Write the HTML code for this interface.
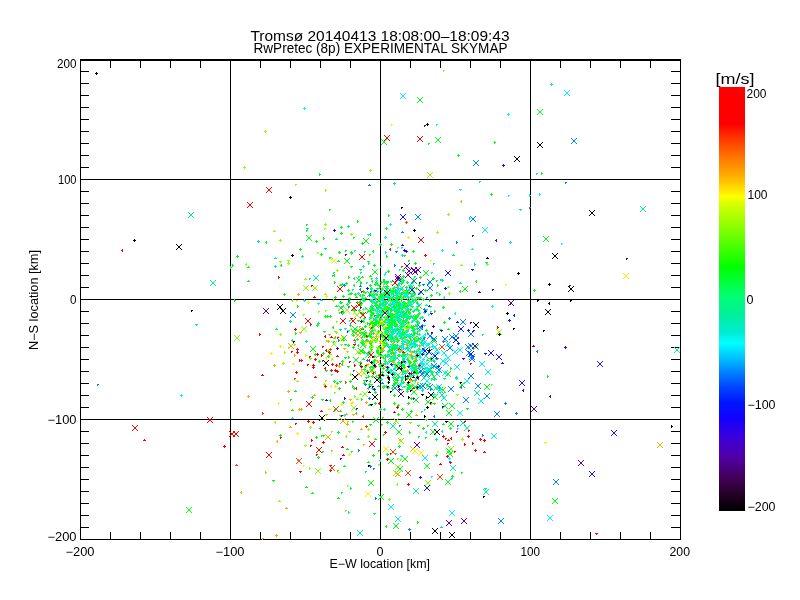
<!DOCTYPE html>
<html><head><meta charset="utf-8"><title>RwPretec skymap</title>
<style>html,body{margin:0;padding:0;background:#fff;overflow:hidden}svg{display:block}</style>
</head><body>
<svg width="800" height="600" viewBox="0 0 800 600">
<rect width="800" height="600" fill="#fff"/>
<g shape-rendering="crispEdges"><rect x="719" y="87" width="26" height="37" fill="#ff0000"/><rect x="719" y="124" width="26" height="1" fill="#ff0200"/><rect x="719" y="125" width="26" height="1" fill="#ff0600"/><rect x="719" y="126" width="26" height="1" fill="#ff0900"/><rect x="719" y="127" width="26" height="1" fill="#ff0d00"/><rect x="719" y="128" width="26" height="1" fill="#ff1100"/><rect x="719" y="129" width="26" height="1" fill="#ff1500"/><rect x="719" y="130" width="26" height="1" fill="#ff1800"/><rect x="719" y="131" width="26" height="1" fill="#ff1c00"/><rect x="719" y="132" width="26" height="1" fill="#ff2000"/><rect x="719" y="133" width="26" height="1" fill="#ff2400"/><rect x="719" y="134" width="26" height="1" fill="#ff2700"/><rect x="719" y="135" width="26" height="1" fill="#ff2b00"/><rect x="719" y="136" width="26" height="1" fill="#ff2f00"/><rect x="719" y="137" width="26" height="1" fill="#ff3300"/><rect x="719" y="138" width="26" height="1" fill="#ff3600"/><rect x="719" y="139" width="26" height="1" fill="#ff3a00"/><rect x="719" y="140" width="26" height="1" fill="#ff3e00"/><rect x="719" y="141" width="26" height="1" fill="#ff4100"/><rect x="719" y="142" width="26" height="1" fill="#ff4400"/><rect x="719" y="143" width="26" height="1" fill="#ff4800"/><rect x="719" y="144" width="26" height="1" fill="#ff4b00"/><rect x="719" y="145" width="26" height="1" fill="#ff4e00"/><rect x="719" y="146" width="26" height="1" fill="#ff5200"/><rect x="719" y="147" width="26" height="1" fill="#ff5500"/><rect x="719" y="148" width="26" height="1" fill="#ff5800"/><rect x="719" y="149" width="26" height="1" fill="#ff5c00"/><rect x="719" y="150" width="26" height="1" fill="#ff5f00"/><rect x="719" y="151" width="26" height="1" fill="#ff6200"/><rect x="719" y="152" width="26" height="1" fill="#ff6600"/><rect x="719" y="153" width="26" height="1" fill="#ff6900"/><rect x="719" y="154" width="26" height="1" fill="#ff6c00"/><rect x="719" y="155" width="26" height="1" fill="#ff7000"/><rect x="719" y="156" width="26" height="1" fill="#ff7300"/><rect x="719" y="157" width="26" height="1" fill="#ff7600"/><rect x="719" y="158" width="26" height="1" fill="#ff7900"/><rect x="719" y="159" width="26" height="1" fill="#ff7c00"/><rect x="719" y="160" width="26" height="1" fill="#ff7f00"/><rect x="719" y="161" width="26" height="1" fill="#ff8200"/><rect x="719" y="162" width="26" height="1" fill="#ff8500"/><rect x="719" y="163" width="26" height="1" fill="#ff8800"/><rect x="719" y="164" width="26" height="1" fill="#ff8b00"/><rect x="719" y="165" width="26" height="1" fill="#ff8e00"/><rect x="719" y="166" width="26" height="1" fill="#ff9100"/><rect x="719" y="167" width="26" height="1" fill="#ff9400"/><rect x="719" y="168" width="26" height="1" fill="#ff9700"/><rect x="719" y="169" width="26" height="1" fill="#ff9a00"/><rect x="719" y="170" width="26" height="1" fill="#ff9d00"/><rect x="719" y="171" width="26" height="1" fill="#ffa000"/><rect x="719" y="172" width="26" height="1" fill="#ffa300"/><rect x="719" y="173" width="26" height="1" fill="#ffa600"/><rect x="719" y="174" width="26" height="1" fill="#ffa900"/><rect x="719" y="175" width="26" height="1" fill="#ffac00"/><rect x="719" y="176" width="26" height="1" fill="#ffb000"/><rect x="719" y="177" width="26" height="1" fill="#ffb400"/><rect x="719" y="178" width="26" height="1" fill="#ffb800"/><rect x="719" y="179" width="26" height="1" fill="#ffbc00"/><rect x="719" y="180" width="26" height="1" fill="#ffbf00"/><rect x="719" y="181" width="26" height="1" fill="#ffc300"/><rect x="719" y="182" width="26" height="1" fill="#ffc700"/><rect x="719" y="183" width="26" height="1" fill="#ffcb00"/><rect x="719" y="184" width="26" height="1" fill="#ffcf00"/><rect x="719" y="185" width="26" height="1" fill="#ffd300"/><rect x="719" y="186" width="26" height="1" fill="#ffd700"/><rect x="719" y="187" width="26" height="1" fill="#ffdb00"/><rect x="719" y="188" width="26" height="1" fill="#ffde00"/><rect x="719" y="189" width="26" height="1" fill="#ffe200"/><rect x="719" y="190" width="26" height="1" fill="#ffe600"/><rect x="719" y="191" width="26" height="1" fill="#ffea00"/><rect x="719" y="192" width="26" height="1" fill="#ffee00"/><rect x="719" y="193" width="26" height="1" fill="#fff200"/><rect x="719" y="194" width="26" height="1" fill="#fff800"/><rect x="719" y="195" width="26" height="1" fill="#fffc00"/><rect x="719" y="196" width="26" height="1" fill="#fdff00"/><rect x="719" y="197" width="26" height="1" fill="#f8ff00"/><rect x="719" y="198" width="26" height="1" fill="#f4ff00"/><rect x="719" y="199" width="26" height="1" fill="#efff00"/><rect x="719" y="200" width="26" height="1" fill="#eaff00"/><rect x="719" y="201" width="26" height="1" fill="#e6ff00"/><rect x="719" y="202" width="26" height="1" fill="#e1ff00"/><rect x="719" y="203" width="26" height="1" fill="#ddff00"/><rect x="719" y="204" width="26" height="1" fill="#d8ff00"/><rect x="719" y="205" width="26" height="1" fill="#d3ff00"/><rect x="719" y="206" width="26" height="1" fill="#cfff00"/><rect x="719" y="207" width="26" height="1" fill="#caff00"/><rect x="719" y="208" width="26" height="1" fill="#c6ff00"/><rect x="719" y="209" width="26" height="1" fill="#c3ff00"/><rect x="719" y="210" width="26" height="1" fill="#c0ff00"/><rect x="719" y="211" width="26" height="1" fill="#bdff00"/><rect x="719" y="212" width="26" height="1" fill="#baff00"/><rect x="719" y="213" width="26" height="1" fill="#b7ff00"/><rect x="719" y="214" width="26" height="1" fill="#b3ff00"/><rect x="719" y="215" width="26" height="1" fill="#b0ff00"/><rect x="719" y="216" width="26" height="1" fill="#adff00"/><rect x="719" y="217" width="26" height="1" fill="#aaff00"/><rect x="719" y="218" width="26" height="1" fill="#a7ff00"/><rect x="719" y="219" width="26" height="1" fill="#a4ff00"/><rect x="719" y="220" width="26" height="1" fill="#a1ff00"/><rect x="719" y="221" width="26" height="1" fill="#9dff00"/><rect x="719" y="222" width="26" height="1" fill="#9aff00"/><rect x="719" y="223" width="26" height="1" fill="#97ff00"/><rect x="719" y="224" width="26" height="1" fill="#94ff00"/><rect x="719" y="225" width="26" height="1" fill="#91ff00"/><rect x="719" y="226" width="26" height="1" fill="#8eff00"/><rect x="719" y="227" width="26" height="1" fill="#8aff00"/><rect x="719" y="228" width="26" height="1" fill="#87ff00"/><rect x="719" y="229" width="26" height="1" fill="#84ff00"/><rect x="719" y="230" width="26" height="1" fill="#80ff00"/><rect x="719" y="231" width="26" height="1" fill="#7dff00"/><rect x="719" y="232" width="26" height="1" fill="#7aff00"/><rect x="719" y="233" width="26" height="1" fill="#76ff00"/><rect x="719" y="234" width="26" height="1" fill="#73ff00"/><rect x="719" y="235" width="26" height="1" fill="#70ff00"/><rect x="719" y="236" width="26" height="1" fill="#6cff00"/><rect x="719" y="237" width="26" height="1" fill="#69ff00"/><rect x="719" y="238" width="26" height="1" fill="#66ff00"/><rect x="719" y="239" width="26" height="1" fill="#62ff00"/><rect x="719" y="240" width="26" height="1" fill="#5fff00"/><rect x="719" y="241" width="26" height="1" fill="#5cff00"/><rect x="719" y="242" width="26" height="1" fill="#58ff00"/><rect x="719" y="243" width="26" height="1" fill="#55ff00"/><rect x="719" y="244" width="26" height="1" fill="#52ff00"/><rect x="719" y="245" width="26" height="1" fill="#4eff00"/><rect x="719" y="246" width="26" height="1" fill="#4bff00"/><rect x="719" y="247" width="26" height="1" fill="#47ff00"/><rect x="719" y="248" width="26" height="1" fill="#43ff00"/><rect x="719" y="249" width="26" height="1" fill="#40ff00"/><rect x="719" y="250" width="26" height="1" fill="#3cff00"/><rect x="719" y="251" width="26" height="1" fill="#38ff00"/><rect x="719" y="252" width="26" height="1" fill="#35ff00"/><rect x="719" y="253" width="26" height="1" fill="#31ff00"/><rect x="719" y="254" width="26" height="1" fill="#2dff00"/><rect x="719" y="255" width="26" height="1" fill="#2aff00"/><rect x="719" y="256" width="26" height="1" fill="#26ff00"/><rect x="719" y="257" width="26" height="1" fill="#23ff00"/><rect x="719" y="258" width="26" height="1" fill="#1fff00"/><rect x="719" y="259" width="26" height="1" fill="#1bff00"/><rect x="719" y="260" width="26" height="1" fill="#18ff00"/><rect x="719" y="261" width="26" height="1" fill="#14ff00"/><rect x="719" y="262" width="26" height="1" fill="#10ff00"/><rect x="719" y="263" width="26" height="1" fill="#0dff00"/><rect x="719" y="264" width="26" height="1" fill="#09ff00"/><rect x="719" y="265" width="26" height="1" fill="#05ff00"/><rect x="719" y="266" width="26" height="1" fill="#02ff00"/><rect x="719" y="267" width="26" height="1" fill="#00ff02"/><rect x="719" y="268" width="26" height="1" fill="#00ff06"/><rect x="719" y="269" width="26" height="1" fill="#00ff0a"/><rect x="719" y="270" width="26" height="1" fill="#00ff0e"/><rect x="719" y="271" width="26" height="1" fill="#00ff12"/><rect x="719" y="272" width="26" height="1" fill="#00ff16"/><rect x="719" y="273" width="26" height="1" fill="#00ff1a"/><rect x="719" y="274" width="26" height="1" fill="#00ff1e"/><rect x="719" y="275" width="26" height="1" fill="#00ff22"/><rect x="719" y="276" width="26" height="1" fill="#00ff26"/><rect x="719" y="277" width="26" height="1" fill="#00ff2a"/><rect x="719" y="278" width="26" height="1" fill="#00ff2e"/><rect x="719" y="279" width="26" height="1" fill="#00ff32"/><rect x="719" y="280" width="26" height="1" fill="#00ff36"/><rect x="719" y="281" width="26" height="1" fill="#00ff3a"/><rect x="719" y="282" width="26" height="1" fill="#00ff3e"/><rect x="719" y="283" width="26" height="1" fill="#00ff42"/><rect x="719" y="284" width="26" height="1" fill="#00ff45"/><rect x="719" y="285" width="26" height="1" fill="#00ff49"/><rect x="719" y="286" width="26" height="1" fill="#00ff4d"/><rect x="719" y="287" width="26" height="1" fill="#00ff51"/><rect x="719" y="288" width="26" height="1" fill="#00ff54"/><rect x="719" y="289" width="26" height="1" fill="#00ff58"/><rect x="719" y="290" width="26" height="1" fill="#00ff5c"/><rect x="719" y="291" width="26" height="1" fill="#00ff60"/><rect x="719" y="292" width="26" height="1" fill="#00ff63"/><rect x="719" y="293" width="26" height="1" fill="#00ff67"/><rect x="719" y="294" width="26" height="1" fill="#00ff6b"/><rect x="719" y="295" width="26" height="1" fill="#00ff6f"/><rect x="719" y="296" width="26" height="1" fill="#00ff72"/><rect x="719" y="297" width="26" height="1" fill="#00ff76"/><rect x="719" y="298" width="26" height="1" fill="#00fe79"/><rect x="719" y="299" width="26" height="1" fill="#00fe7b"/><rect x="719" y="300" width="26" height="1" fill="#00fc7d"/><rect x="719" y="301" width="26" height="1" fill="#00fc7f"/><rect x="719" y="302" width="26" height="1" fill="#00fa81"/><rect x="719" y="303" width="26" height="1" fill="#00fa83"/><rect x="719" y="304" width="26" height="1" fill="#00f885"/><rect x="719" y="305" width="26" height="1" fill="#00f887"/><rect x="719" y="306" width="26" height="1" fill="#00f689"/><rect x="719" y="307" width="26" height="1" fill="#00f68b"/><rect x="719" y="308" width="26" height="1" fill="#00f48d"/><rect x="719" y="309" width="26" height="1" fill="#00f48f"/><rect x="719" y="310" width="26" height="1" fill="#00f291"/><rect x="719" y="311" width="26" height="1" fill="#00f293"/><rect x="719" y="312" width="26" height="1" fill="#00f095"/><rect x="719" y="313" width="26" height="1" fill="#00f098"/><rect x="719" y="314" width="26" height="1" fill="#00f09b"/><rect x="719" y="315" width="26" height="1" fill="#00ef9e"/><rect x="719" y="316" width="26" height="1" fill="#00efa1"/><rect x="719" y="317" width="26" height="1" fill="#00efa4"/><rect x="719" y="318" width="26" height="1" fill="#00efa7"/><rect x="719" y="319" width="26" height="1" fill="#00eeab"/><rect x="719" y="320" width="26" height="1" fill="#00eeae"/><rect x="719" y="321" width="26" height="1" fill="#00eeb1"/><rect x="719" y="322" width="26" height="1" fill="#00eeb4"/><rect x="719" y="323" width="26" height="1" fill="#00edb7"/><rect x="719" y="324" width="26" height="1" fill="#00edba"/><rect x="719" y="325" width="26" height="1" fill="#00edbd"/><rect x="719" y="326" width="26" height="1" fill="#00ecc1"/><rect x="719" y="327" width="26" height="1" fill="#00ecc4"/><rect x="719" y="328" width="26" height="1" fill="#00ecc7"/><rect x="719" y="329" width="26" height="1" fill="#00ecca"/><rect x="719" y="330" width="26" height="1" fill="#00ebcd"/><rect x="719" y="331" width="26" height="1" fill="#00ebd0"/><rect x="719" y="332" width="26" height="1" fill="#00ecd4"/><rect x="719" y="333" width="26" height="1" fill="#00eed8"/><rect x="719" y="334" width="26" height="1" fill="#00f0dc"/><rect x="719" y="335" width="26" height="1" fill="#00f1e0"/><rect x="719" y="336" width="26" height="1" fill="#00f3e4"/><rect x="719" y="337" width="26" height="1" fill="#00f5e8"/><rect x="719" y="338" width="26" height="1" fill="#00f7ed"/><rect x="719" y="339" width="26" height="1" fill="#00f9f1"/><rect x="719" y="340" width="26" height="1" fill="#00faf5"/><rect x="719" y="341" width="26" height="1" fill="#00fcf9"/><rect x="719" y="342" width="26" height="1" fill="#00fefd"/><rect x="719" y="343" width="26" height="1" fill="#00fdff"/><rect x="719" y="344" width="26" height="1" fill="#00f9ff"/><rect x="719" y="345" width="26" height="1" fill="#00f5ff"/><rect x="719" y="346" width="26" height="1" fill="#00f1ff"/><rect x="719" y="347" width="26" height="1" fill="#00edff"/><rect x="719" y="348" width="26" height="1" fill="#00e9ff"/><rect x="719" y="349" width="26" height="1" fill="#00e5ff"/><rect x="719" y="350" width="26" height="1" fill="#00e1ff"/><rect x="719" y="351" width="26" height="1" fill="#00dcff"/><rect x="719" y="352" width="26" height="1" fill="#00d8ff"/><rect x="719" y="353" width="26" height="1" fill="#00d4ff"/><rect x="719" y="354" width="26" height="1" fill="#00d0ff"/><rect x="719" y="355" width="26" height="1" fill="#00ccff"/><rect x="719" y="356" width="26" height="1" fill="#00c8ff"/><rect x="719" y="357" width="26" height="1" fill="#00c4ff"/><rect x="719" y="358" width="26" height="1" fill="#00c0ff"/><rect x="719" y="359" width="26" height="1" fill="#00bcff"/><rect x="719" y="360" width="26" height="1" fill="#00b7ff"/><rect x="719" y="361" width="26" height="1" fill="#00b2ff"/><rect x="719" y="362" width="26" height="1" fill="#00aeff"/><rect x="719" y="363" width="26" height="1" fill="#00a9ff"/><rect x="719" y="364" width="26" height="1" fill="#00a5ff"/><rect x="719" y="365" width="26" height="1" fill="#00a0ff"/><rect x="719" y="366" width="26" height="1" fill="#009bff"/><rect x="719" y="367" width="26" height="1" fill="#0097ff"/><rect x="719" y="368" width="26" height="1" fill="#0092ff"/><rect x="719" y="369" width="26" height="1" fill="#008eff"/><rect x="719" y="370" width="26" height="1" fill="#0089ff"/><rect x="719" y="371" width="26" height="1" fill="#0084ff"/><rect x="719" y="372" width="26" height="1" fill="#0080ff"/><rect x="719" y="373" width="26" height="1" fill="#007cff"/><rect x="719" y="374" width="26" height="1" fill="#0078ff"/><rect x="719" y="375" width="26" height="1" fill="#0074ff"/><rect x="719" y="376" width="26" height="1" fill="#0070ff"/><rect x="719" y="377" width="26" height="1" fill="#006cff"/><rect x="719" y="378" width="26" height="1" fill="#0068ff"/><rect x="719" y="379" width="26" height="1" fill="#0064ff"/><rect x="719" y="380" width="26" height="1" fill="#0060ff"/><rect x="719" y="381" width="26" height="1" fill="#005cff"/><rect x="719" y="382" width="26" height="1" fill="#0058ff"/><rect x="719" y="383" width="26" height="1" fill="#0054ff"/><rect x="719" y="384" width="26" height="1" fill="#0050ff"/><rect x="719" y="385" width="26" height="1" fill="#004cff"/><rect x="719" y="386" width="26" height="1" fill="#0048ff"/><rect x="719" y="387" width="26" height="1" fill="#0044ff"/><rect x="719" y="388" width="26" height="1" fill="#0041ff"/><rect x="719" y="389" width="26" height="1" fill="#003eff"/><rect x="719" y="390" width="26" height="1" fill="#003bff"/><rect x="719" y="391" width="26" height="1" fill="#0038ff"/><rect x="719" y="392" width="26" height="1" fill="#0035ff"/><rect x="719" y="393" width="26" height="1" fill="#0032ff"/><rect x="719" y="394" width="26" height="1" fill="#002fff"/><rect x="719" y="395" width="26" height="1" fill="#002bff"/><rect x="719" y="396" width="26" height="1" fill="#0028ff"/><rect x="719" y="397" width="26" height="1" fill="#0025ff"/><rect x="719" y="398" width="26" height="1" fill="#0022ff"/><rect x="719" y="399" width="26" height="1" fill="#001fff"/><rect x="719" y="400" width="26" height="1" fill="#001cff"/><rect x="719" y="401" width="26" height="1" fill="#0019ff"/><rect x="719" y="402" width="26" height="1" fill="#0016ff"/><rect x="719" y="403" width="26" height="1" fill="#0113ff"/><rect x="719" y="404" width="26" height="1" fill="#0212ff"/><rect x="719" y="405" width="26" height="1" fill="#0311ff"/><rect x="719" y="406" width="26" height="1" fill="#0410ff"/><rect x="719" y="407" width="26" height="1" fill="#060eff"/><rect x="719" y="408" width="26" height="1" fill="#070dff"/><rect x="719" y="409" width="26" height="1" fill="#080cff"/><rect x="719" y="410" width="26" height="1" fill="#090bff"/><rect x="719" y="411" width="26" height="1" fill="#0b09ff"/><rect x="719" y="412" width="26" height="1" fill="#0c08ff"/><rect x="719" y="413" width="26" height="1" fill="#0d07ff"/><rect x="719" y="414" width="26" height="1" fill="#0e06ff"/><rect x="719" y="415" width="26" height="1" fill="#1004ff"/><rect x="719" y="416" width="26" height="1" fill="#1103ff"/><rect x="719" y="417" width="26" height="1" fill="#1202ff"/><rect x="719" y="418" width="26" height="1" fill="#1301ff"/><rect x="719" y="419" width="26" height="1" fill="#1500fe"/><rect x="719" y="420" width="26" height="1" fill="#1700fc"/><rect x="719" y="421" width="26" height="1" fill="#1a00fa"/><rect x="719" y="422" width="26" height="1" fill="#1c00f8"/><rect x="719" y="423" width="26" height="1" fill="#1e00f6"/><rect x="719" y="424" width="26" height="1" fill="#2000f4"/><rect x="719" y="425" width="26" height="1" fill="#2200f2"/><rect x="719" y="426" width="26" height="1" fill="#2500f0"/><rect x="719" y="427" width="26" height="1" fill="#2700ee"/><rect x="719" y="428" width="26" height="1" fill="#2900ed"/><rect x="719" y="429" width="26" height="1" fill="#2b00eb"/><rect x="719" y="430" width="26" height="1" fill="#2e00e9"/><rect x="719" y="431" width="26" height="1" fill="#3000e7"/><rect x="719" y="432" width="26" height="1" fill="#3200e5"/><rect x="719" y="433" width="26" height="1" fill="#3400e3"/><rect x="719" y="434" width="26" height="1" fill="#3600e1"/><rect x="719" y="435" width="26" height="1" fill="#3900df"/><rect x="719" y="436" width="26" height="1" fill="#3b00dd"/><rect x="719" y="437" width="26" height="1" fill="#3d00db"/><rect x="719" y="438" width="26" height="1" fill="#3e00d8"/><rect x="719" y="439" width="26" height="1" fill="#3f00d5"/><rect x="719" y="440" width="26" height="1" fill="#4000d3"/><rect x="719" y="441" width="26" height="1" fill="#4100d0"/><rect x="719" y="442" width="26" height="1" fill="#4200ce"/><rect x="719" y="443" width="26" height="1" fill="#4300cb"/><rect x="719" y="444" width="26" height="1" fill="#4400c8"/><rect x="719" y="445" width="26" height="1" fill="#4500c6"/><rect x="719" y="446" width="26" height="1" fill="#4600c3"/><rect x="719" y="447" width="26" height="1" fill="#4700c0"/><rect x="719" y="448" width="26" height="1" fill="#4800be"/><rect x="719" y="449" width="26" height="1" fill="#4900bb"/><rect x="719" y="450" width="26" height="1" fill="#4a00b8"/><rect x="719" y="451" width="26" height="1" fill="#4b00b6"/><rect x="719" y="452" width="26" height="1" fill="#4c00b3"/><rect x="719" y="453" width="26" height="1" fill="#4d00b1"/><rect x="719" y="454" width="26" height="1" fill="#4e00ae"/><rect x="719" y="455" width="26" height="1" fill="#4f00ab"/><rect x="719" y="456" width="26" height="1" fill="#5000a8"/><rect x="719" y="457" width="26" height="1" fill="#4f00a4"/><rect x="719" y="458" width="26" height="1" fill="#4f00a1"/><rect x="719" y="459" width="26" height="1" fill="#4e009d"/><rect x="719" y="460" width="26" height="1" fill="#4e0099"/><rect x="719" y="461" width="26" height="1" fill="#4d0096"/><rect x="719" y="462" width="26" height="1" fill="#4d0092"/><rect x="719" y="463" width="26" height="1" fill="#4c008e"/><rect x="719" y="464" width="26" height="1" fill="#4c008b"/><rect x="719" y="465" width="26" height="1" fill="#4b0087"/><rect x="719" y="466" width="26" height="1" fill="#4a0083"/><rect x="719" y="467" width="26" height="1" fill="#4a0080"/><rect x="719" y="468" width="26" height="1" fill="#49007c"/><rect x="719" y="469" width="26" height="1" fill="#490078"/><rect x="719" y="470" width="26" height="1" fill="#480075"/><rect x="719" y="471" width="26" height="1" fill="#480071"/><rect x="719" y="472" width="26" height="1" fill="#47006d"/><rect x="719" y="473" width="26" height="1" fill="#47006a"/><rect x="719" y="474" width="26" height="1" fill="#460066"/><rect x="719" y="475" width="26" height="1" fill="#450062"/><rect x="719" y="476" width="26" height="1" fill="#44005f"/><rect x="719" y="477" width="26" height="1" fill="#42005c"/><rect x="719" y="478" width="26" height="1" fill="#400058"/><rect x="719" y="479" width="26" height="1" fill="#3e0055"/><rect x="719" y="480" width="26" height="1" fill="#3d0052"/><rect x="719" y="481" width="26" height="1" fill="#3b004e"/><rect x="719" y="482" width="26" height="1" fill="#3a004b"/><rect x="719" y="483" width="26" height="1" fill="#380048"/><rect x="719" y="484" width="26" height="1" fill="#360044"/><rect x="719" y="485" width="26" height="1" fill="#340041"/><rect x="719" y="486" width="26" height="1" fill="#33003e"/><rect x="719" y="487" width="26" height="1" fill="#31003a"/><rect x="719" y="488" width="26" height="1" fill="#300037"/><rect x="719" y="489" width="26" height="1" fill="#2e0034"/><rect x="719" y="490" width="26" height="1" fill="#2c0030"/><rect x="719" y="491" width="26" height="1" fill="#2a002d"/><rect x="719" y="492" width="26" height="1" fill="#29002a"/><rect x="719" y="493" width="26" height="1" fill="#270027"/><rect x="719" y="494" width="26" height="1" fill="#240024"/><rect x="719" y="495" width="26" height="1" fill="#220022"/><rect x="719" y="496" width="26" height="1" fill="#200020"/><rect x="719" y="497" width="26" height="1" fill="#1d001d"/><rect x="719" y="498" width="26" height="1" fill="#1b001b"/><rect x="719" y="499" width="26" height="1" fill="#190019"/><rect x="719" y="500" width="26" height="1" fill="#160016"/><rect x="719" y="501" width="26" height="1" fill="#140014"/><rect x="719" y="502" width="26" height="1" fill="#120012"/><rect x="719" y="503" width="26" height="1" fill="#0f000f"/><rect x="719" y="504" width="26" height="1" fill="#0d000d"/><rect x="719" y="505" width="26" height="1" fill="#0b000b"/><rect x="719" y="506" width="26" height="1" fill="#080008"/><rect x="719" y="507" width="26" height="1" fill="#060006"/><rect x="719" y="508" width="26" height="1" fill="#040004"/><rect x="719" y="509" width="26" height="1" fill="#010001"/><rect x="719" y="510" width="26" height="1" fill="#000000"/></g>
<g fill="#000" shape-rendering="crispEdges">
<rect x="80" y="59" width="601" height="2"/>
<rect x="80" y="59" width="1" height="481"/>
<rect x="680" y="59" width="1" height="481"/>
<rect x="80" y="539" width="601" height="1"/>
<rect x="230" y="59" width="1" height="481"/>
<rect x="380" y="59" width="1" height="481"/>
<rect x="530" y="59" width="1" height="481"/>
<rect x="80" y="179" width="601" height="1"/>
<rect x="80" y="299" width="601" height="1"/>
<rect x="80" y="419" width="601" height="1"/>
<rect x="110" y="59" width="1" height="9"/>
<rect x="110" y="532" width="1" height="8"/>
<rect x="140" y="59" width="1" height="9"/>
<rect x="140" y="532" width="1" height="8"/>
<rect x="170" y="59" width="1" height="9"/>
<rect x="170" y="532" width="1" height="8"/>
<rect x="200" y="59" width="1" height="9"/>
<rect x="200" y="532" width="1" height="8"/>
<rect x="260" y="59" width="1" height="9"/>
<rect x="260" y="532" width="1" height="8"/>
<rect x="290" y="59" width="1" height="9"/>
<rect x="290" y="532" width="1" height="8"/>
<rect x="320" y="59" width="1" height="9"/>
<rect x="320" y="532" width="1" height="8"/>
<rect x="350" y="59" width="1" height="9"/>
<rect x="350" y="532" width="1" height="8"/>
<rect x="410" y="59" width="1" height="9"/>
<rect x="410" y="532" width="1" height="8"/>
<rect x="440" y="59" width="1" height="9"/>
<rect x="440" y="532" width="1" height="8"/>
<rect x="470" y="59" width="1" height="9"/>
<rect x="470" y="532" width="1" height="8"/>
<rect x="500" y="59" width="1" height="9"/>
<rect x="500" y="532" width="1" height="8"/>
<rect x="560" y="59" width="1" height="9"/>
<rect x="560" y="532" width="1" height="8"/>
<rect x="590" y="59" width="1" height="9"/>
<rect x="590" y="532" width="1" height="8"/>
<rect x="620" y="59" width="1" height="9"/>
<rect x="620" y="532" width="1" height="8"/>
<rect x="650" y="59" width="1" height="9"/>
<rect x="650" y="532" width="1" height="8"/>
<rect x="80" y="71" width="9" height="1"/>
<rect x="671" y="71" width="10" height="1"/>
<rect x="80" y="83" width="9" height="1"/>
<rect x="671" y="83" width="10" height="1"/>
<rect x="80" y="95" width="9" height="1"/>
<rect x="671" y="95" width="10" height="1"/>
<rect x="80" y="107" width="9" height="1"/>
<rect x="671" y="107" width="10" height="1"/>
<rect x="80" y="119" width="9" height="1"/>
<rect x="671" y="119" width="10" height="1"/>
<rect x="80" y="131" width="9" height="1"/>
<rect x="671" y="131" width="10" height="1"/>
<rect x="80" y="143" width="9" height="1"/>
<rect x="671" y="143" width="10" height="1"/>
<rect x="80" y="155" width="9" height="1"/>
<rect x="671" y="155" width="10" height="1"/>
<rect x="80" y="167" width="9" height="1"/>
<rect x="671" y="167" width="10" height="1"/>
<rect x="80" y="191" width="9" height="1"/>
<rect x="671" y="191" width="10" height="1"/>
<rect x="80" y="203" width="9" height="1"/>
<rect x="671" y="203" width="10" height="1"/>
<rect x="80" y="215" width="9" height="1"/>
<rect x="671" y="215" width="10" height="1"/>
<rect x="80" y="227" width="9" height="1"/>
<rect x="671" y="227" width="10" height="1"/>
<rect x="80" y="239" width="9" height="1"/>
<rect x="671" y="239" width="10" height="1"/>
<rect x="80" y="251" width="9" height="1"/>
<rect x="671" y="251" width="10" height="1"/>
<rect x="80" y="263" width="9" height="1"/>
<rect x="671" y="263" width="10" height="1"/>
<rect x="80" y="275" width="9" height="1"/>
<rect x="671" y="275" width="10" height="1"/>
<rect x="80" y="287" width="9" height="1"/>
<rect x="671" y="287" width="10" height="1"/>
<rect x="80" y="311" width="9" height="1"/>
<rect x="671" y="311" width="10" height="1"/>
<rect x="80" y="323" width="9" height="1"/>
<rect x="671" y="323" width="10" height="1"/>
<rect x="80" y="335" width="9" height="1"/>
<rect x="671" y="335" width="10" height="1"/>
<rect x="80" y="347" width="9" height="1"/>
<rect x="671" y="347" width="10" height="1"/>
<rect x="80" y="359" width="9" height="1"/>
<rect x="671" y="359" width="10" height="1"/>
<rect x="80" y="371" width="9" height="1"/>
<rect x="671" y="371" width="10" height="1"/>
<rect x="80" y="383" width="9" height="1"/>
<rect x="671" y="383" width="10" height="1"/>
<rect x="80" y="395" width="9" height="1"/>
<rect x="671" y="395" width="10" height="1"/>
<rect x="80" y="407" width="9" height="1"/>
<rect x="671" y="407" width="10" height="1"/>
<rect x="80" y="431" width="9" height="1"/>
<rect x="671" y="431" width="10" height="1"/>
<rect x="80" y="443" width="9" height="1"/>
<rect x="671" y="443" width="10" height="1"/>
<rect x="80" y="455" width="9" height="1"/>
<rect x="671" y="455" width="10" height="1"/>
<rect x="80" y="467" width="9" height="1"/>
<rect x="671" y="467" width="10" height="1"/>
<rect x="80" y="479" width="9" height="1"/>
<rect x="671" y="479" width="10" height="1"/>
<rect x="80" y="491" width="9" height="1"/>
<rect x="671" y="491" width="10" height="1"/>
<rect x="80" y="503" width="9" height="1"/>
<rect x="671" y="503" width="10" height="1"/>
<rect x="80" y="515" width="9" height="1"/>
<rect x="671" y="515" width="10" height="1"/>
<rect x="80" y="527" width="9" height="1"/>
<rect x="671" y="527" width="10" height="1"/>
</g>
<g shape-rendering="crispEdges">
<path fill="#00ff10" d="M372 269h1v1h-1zM377 269h1v1h-1zM403 269h1v1h-1zM373 270h1v1h-1zM376 270h1v1h-1zM388 270h1v1h-1zM402 270h3v1h-3zM374 271h2v1h-2zM387 271h3v1h-3zM403 271h1v1h-1zM374 272h2v1h-2zM388 272h1v1h-1zM373 273h1v1h-1zM376 273h1v1h-1zM372 274h1v1h-1zM377 274h1v1h-1zM401 277h1v1h-1zM400 278h3v1h-3zM383 279h2v1h-2zM399 279h1v1h-1zM401 279h1v1h-1zM403 279h1v1h-1zM383 280h2v1h-2zM398 280h3v1h-3zM402 280h3v1h-3zM381 281h1v1h-1zM383 281h2v1h-2zM386 281h3v1h-3zM403 281h1v1h-1zM407 281h1v1h-1zM412 281h1v1h-1zM360 282h1v1h-1zM380 282h3v1h-3zM386 282h3v1h-3zM401 282h3v1h-3zM406 282h3v1h-3zM411 282h3v1h-3zM360 283h2v1h-2zM375 283h1v1h-1zM381 283h1v1h-1zM385 283h3v1h-3zM400 283h3v1h-3zM407 283h1v1h-1zM412 283h1v1h-1zM360 284h1v1h-1zM374 284h3v1h-3zM386 284h1v1h-1zM401 284h1v1h-1zM419 284h1v1h-1zM375 285h1v1h-1zM378 285h3v1h-3zM387 285h1v1h-1zM408 285h1v1h-1zM413 285h1v1h-1zM418 285h3v1h-3zM379 286h1v1h-1zM386 286h3v1h-3zM394 286h1v1h-1zM397 286h1v1h-1zM406 286h1v1h-1zM409 286h1v1h-1zM411 286h2v1h-2zM419 286h1v1h-1zM379 287h2v1h-2zM386 287h2v1h-2zM393 287h2v1h-2zM396 287h2v1h-2zM405 287h3v1h-3zM410 287h3v1h-3zM416 287h1v1h-1zM371 288h1v1h-1zM376 288h4v1h-4zM385 288h4v1h-4zM390 288h1v1h-1zM392 288h3v1h-3zM397 288h1v1h-1zM406 288h1v1h-1zM410 288h3v1h-3zM415 288h3v1h-3zM370 289h2v1h-2zM377 289h1v1h-1zM386 289h2v1h-2zM389 289h2v1h-2zM393 289h1v1h-1zM395 289h1v1h-1zM406 289h1v1h-1zM409 289h1v1h-1zM411 289h2v1h-2zM416 289h1v1h-1zM425 289h1v1h-1zM363 290h1v1h-1zM371 290h1v1h-1zM374 290h1v1h-1zM385 290h3v1h-3zM390 290h6v1h-6zM404 290h5v1h-5zM413 290h1v1h-1zM424 290h3v1h-3zM362 291h3v1h-3zM367 291h1v1h-1zM372 291h4v1h-4zM384 291h4v1h-4zM390 291h3v1h-3zM395 291h1v1h-1zM403 291h5v1h-5zM425 291h1v1h-1zM363 292h4v1h-4zM368 292h1v1h-1zM371 292h1v1h-1zM374 292h1v1h-1zM384 292h6v1h-6zM391 292h1v1h-1zM396 292h1v1h-1zM401 292h1v1h-1zM404 292h1v1h-1zM406 292h3v1h-3zM414 292h1v1h-1zM365 293h1v1h-1zM369 293h3v1h-3zM376 293h1v1h-1zM380 293h2v1h-2zM383 293h3v1h-3zM387 293h3v1h-3zM393 293h1v1h-1zM395 293h3v1h-3zM399 293h4v1h-4zM405 293h6v1h-6zM413 293h3v1h-3zM363 294h1v1h-1zM369 294h4v1h-4zM375 294h3v1h-3zM379 294h7v1h-7zM387 294h1v1h-1zM390 294h1v1h-1zM392 294h2v1h-2zM395 294h3v1h-3zM400 294h3v1h-3zM404 294h5v1h-5zM411 294h1v1h-1zM414 294h2v1h-2zM362 295h3v1h-3zM368 295h1v1h-1zM371 295h1v1h-1zM376 295h1v1h-1zM380 295h7v1h-7zM391 295h1v1h-1zM393 295h1v1h-1zM396 295h2v1h-2zM400 295h2v1h-2zM403 295h1v1h-1zM405 295h2v1h-2zM411 295h4v1h-4zM356 296h1v1h-1zM363 296h1v1h-1zM367 296h1v1h-1zM372 296h1v1h-1zM380 296h2v1h-2zM383 296h4v1h-4zM397 296h5v1h-5zM403 296h4v1h-4zM410 296h4v1h-4zM355 297h3v1h-3zM365 297h1v1h-1zM379 297h7v1h-7zM395 297h6v1h-6zM402 297h4v1h-4zM407 297h3v1h-3zM411 297h1v1h-1zM414 297h1v1h-1zM416 297h6v1h-6zM364 298h3v1h-3zM380 298h5v1h-5zM395 298h5v1h-5zM401 298h1v1h-1zM403 298h1v1h-1zM406 298h1v1h-1zM408 298h1v1h-1zM410 298h1v1h-1zM415 298h1v1h-1zM417 298h4v1h-4zM363 299h1v1h-1zM380 299h3v1h-3zM392 299h1v1h-1zM395 299h3v1h-3zM400 299h3v1h-3zM407 299h1v1h-1zM411 299h6v1h-6zM418 299h1v1h-1zM429 299h1v1h-1zM362 300h3v1h-3zM371 300h1v1h-1zM378 300h4v1h-4zM383 300h1v1h-1zM385 300h1v1h-1zM391 300h8v1h-8zM401 300h1v1h-1zM407 300h3v1h-3zM412 300h1v1h-1zM414 300h3v1h-3zM429 300h2v1h-2zM363 301h1v1h-1zM370 301h3v1h-3zM376 301h4v1h-4zM382 301h5v1h-5zM391 301h3v1h-3zM395 301h3v1h-3zM399 301h1v1h-1zM401 301h1v1h-1zM403 301h1v1h-1zM408 301h1v1h-1zM410 301h3v1h-3zM415 301h1v1h-1zM417 301h1v1h-1zM429 301h1v1h-1zM371 302h3v1h-3zM375 302h3v1h-3zM380 302h1v1h-1zM382 302h4v1h-4zM392 302h1v1h-1zM396 302h5v1h-5zM402 302h3v1h-3zM407 302h1v1h-1zM411 302h1v1h-1zM416 302h2v1h-2zM360 303h3v1h-3zM372 303h1v1h-1zM374 303h3v1h-3zM380 303h4v1h-4zM391 303h4v1h-4zM396 303h5v1h-5zM403 303h1v1h-1zM405 303h2v1h-2zM408 303h2v1h-2zM416 303h2v1h-2zM421 303h1v1h-1zM360 304h2v1h-2zM375 304h3v1h-3zM379 304h5v1h-5zM392 304h4v1h-4zM398 304h13v1h-13zM417 304h1v1h-1zM420 304h1v1h-1zM360 305h2v1h-2zM371 305h2v1h-2zM374 305h7v1h-7zM382 305h2v1h-2zM385 305h1v1h-1zM388 305h1v1h-1zM391 305h1v1h-1zM393 305h2v1h-2zM397 305h13v1h-13zM418 305h2v1h-2zM360 306h1v1h-1zM370 306h4v1h-4zM375 306h2v1h-2zM378 306h2v1h-2zM384 306h4v1h-4zM390 306h10v1h-10zM401 306h8v1h-8zM411 306h3v1h-3zM418 306h2v1h-2zM370 307h3v1h-3zM376 307h6v1h-6zM384 307h4v1h-4zM391 307h9v1h-9zM401 307h7v1h-7zM412 307h1v1h-1zM417 307h1v1h-1zM420 307h1v1h-1zM369 308h5v1h-5zM376 308h2v1h-2zM379 308h8v1h-8zM391 308h1v1h-1zM394 308h10v1h-10zM407 308h2v1h-2zM410 308h1v1h-1zM416 308h1v1h-1zM421 308h1v1h-1zM354 309h1v1h-1zM359 309h1v1h-1zM371 309h5v1h-5zM378 309h1v1h-1zM381 309h2v1h-2zM384 309h4v1h-4zM390 309h2v1h-2zM394 309h6v1h-6zM401 309h1v1h-1zM407 309h5v1h-5zM416 309h3v1h-3zM353 310h3v1h-3zM358 310h3v1h-3zM370 310h6v1h-6zM379 310h10v1h-10zM390 310h3v1h-3zM395 310h5v1h-5zM403 310h1v1h-1zM408 310h1v1h-1zM410 310h1v1h-1zM413 310h1v1h-1zM417 310h1v1h-1zM354 311h1v1h-1zM359 311h1v1h-1zM369 311h3v1h-3zM379 311h10v1h-10zM390 311h2v1h-2zM395 311h6v1h-6zM402 311h3v1h-3zM412 311h2v1h-2zM424 311h1v1h-1zM363 312h1v1h-1zM370 312h4v1h-4zM380 312h1v1h-1zM382 312h3v1h-3zM386 312h3v1h-3zM390 312h1v1h-1zM395 312h5v1h-5zM401 312h1v1h-1zM403 312h4v1h-4zM408 312h3v1h-3zM413 312h1v1h-1zM423 312h3v1h-3zM362 313h3v1h-3zM371 313h4v1h-4zM380 313h1v1h-1zM382 313h1v1h-1zM385 313h3v1h-3zM389 313h4v1h-4zM396 313h1v1h-1zM400 313h7v1h-7zM408 313h3v1h-3zM418 313h1v1h-1zM424 313h1v1h-1zM370 314h4v1h-4zM377 314h6v1h-6zM386 314h1v1h-1zM388 314h6v1h-6zM399 314h9v1h-9zM409 314h1v1h-1zM417 314h3v1h-3zM371 315h1v1h-1zM376 315h7v1h-7zM389 315h6v1h-6zM397 315h8v1h-8zM406 315h1v1h-1zM408 315h1v1h-1zM415 315h1v1h-1zM418 315h1v1h-1zM376 316h3v1h-3zM380 316h3v1h-3zM389 316h5v1h-5zM397 316h4v1h-4zM402 316h1v1h-1zM405 316h1v1h-1zM407 316h3v1h-3zM413 316h4v1h-4zM418 316h1v1h-1zM377 317h2v1h-2zM381 317h1v1h-1zM383 317h3v1h-3zM388 317h1v1h-1zM390 317h10v1h-10zM401 317h1v1h-1zM406 317h4v1h-4zM414 317h2v1h-2zM417 317h1v1h-1zM375 318h1v1h-1zM379 318h1v1h-1zM384 318h1v1h-1zM387 318h1v1h-1zM390 318h3v1h-3zM394 318h3v1h-3zM399 318h2v1h-2zM408 318h1v1h-1zM413 318h4v1h-4zM369 319h1v1h-1zM374 319h3v1h-3zM379 319h2v1h-2zM387 319h11v1h-11zM399 319h3v1h-3zM403 319h1v1h-1zM406 319h1v1h-1zM415 319h2v1h-2zM370 320h1v1h-1zM373 320h1v1h-1zM375 320h2v1h-2zM379 320h2v1h-2zM384 320h1v1h-1zM388 320h1v1h-1zM390 320h7v1h-7zM398 320h10v1h-10zM414 320h1v1h-1zM417 320h1v1h-1zM371 321h2v1h-2zM375 321h2v1h-2zM378 321h4v1h-4zM383 321h3v1h-3zM387 321h3v1h-3zM391 321h2v1h-2zM394 321h2v1h-2zM397 321h10v1h-10zM408 321h1v1h-1zM413 321h1v1h-1zM416 321h3v1h-3zM367 322h1v1h-1zM370 322h10v1h-10zM381 322h1v1h-1zM384 322h3v1h-3zM388 322h1v1h-1zM390 322h6v1h-6zM398 322h3v1h-3zM403 322h2v1h-2zM407 322h3v1h-3zM417 322h3v1h-3zM367 323h12v1h-12zM380 323h4v1h-4zM385 323h1v1h-1zM390 323h7v1h-7zM399 323h1v1h-1zM402 323h3v1h-3zM406 323h3v1h-3zM418 323h1v1h-1zM367 324h1v1h-1zM369 324h2v1h-2zM372 324h1v1h-1zM374 324h3v1h-3zM379 324h1v1h-1zM381 324h4v1h-4zM386 324h1v1h-1zM390 324h3v1h-3zM395 324h3v1h-3zM407 324h1v1h-1zM369 325h1v1h-1zM372 325h5v1h-5zM378 325h2v1h-2zM383 325h1v1h-1zM387 325h1v1h-1zM390 325h1v1h-1zM392 325h1v1h-1zM394 325h4v1h-4zM404 325h1v1h-1zM407 325h1v1h-1zM411 325h1v1h-1zM413 325h1v1h-1zM415 325h1v1h-1zM370 326h1v1h-1zM372 326h3v1h-3zM377 326h1v1h-1zM379 326h1v1h-1zM385 326h1v1h-1zM388 326h2v1h-2zM391 326h1v1h-1zM395 326h4v1h-4zM400 326h1v1h-1zM403 326h6v1h-6zM410 326h7v1h-7zM369 327h5v1h-5zM378 327h1v1h-1zM384 327h6v1h-6zM391 327h2v1h-2zM397 327h1v1h-1zM400 327h2v1h-2zM406 327h3v1h-3zM411 327h3v1h-3zM417 327h1v1h-1zM370 328h3v1h-3zM384 328h9v1h-9zM394 328h1v1h-1zM396 328h3v1h-3zM400 328h1v1h-1zM403 328h1v1h-1zM405 328h3v1h-3zM412 328h3v1h-3zM416 328h3v1h-3zM370 329h1v1h-1zM373 329h1v1h-1zM384 329h3v1h-3zM389 329h1v1h-1zM391 329h9v1h-9zM402 329h2v1h-2zM406 329h1v1h-1zM413 329h1v1h-1zM419 329h1v1h-1zM426 329h1v1h-1zM360 330h1v1h-1zM365 330h1v1h-1zM369 330h1v1h-1zM371 330h4v1h-4zM378 330h1v1h-1zM385 330h3v1h-3zM392 330h1v1h-1zM397 330h4v1h-4zM403 330h1v1h-1zM406 330h1v1h-1zM412 330h3v1h-3zM418 330h3v1h-3zM425 330h3v1h-3zM361 331h1v1h-1zM364 331h1v1h-1zM370 331h3v1h-3zM377 331h3v1h-3zM381 331h1v1h-1zM385 331h5v1h-5zM398 331h3v1h-3zM402 331h6v1h-6zM413 331h1v1h-1zM419 331h1v1h-1zM426 331h1v1h-1zM362 332h2v1h-2zM365 332h1v1h-1zM369 332h3v1h-3zM373 332h1v1h-1zM378 332h1v1h-1zM380 332h3v1h-3zM384 332h3v1h-3zM388 332h1v1h-1zM399 332h6v1h-6zM414 332h1v1h-1zM417 332h1v1h-1zM362 333h5v1h-5zM370 333h1v1h-1zM372 333h3v1h-3zM380 333h3v1h-3zM385 333h3v1h-3zM389 333h1v1h-1zM391 333h1v1h-1zM397 333h7v1h-7zM413 333h5v1h-5zM361 334h1v1h-1zM364 334h2v1h-2zM369 334h3v1h-3zM373 334h1v1h-1zM381 334h2v1h-2zM386 334h5v1h-5zM397 334h7v1h-7zM414 334h1v1h-1zM417 334h1v1h-1zM360 335h1v1h-1zM364 335h2v1h-2zM367 335h4v1h-4zM381 335h2v1h-2zM387 335h4v1h-4zM395 335h1v1h-1zM400 335h3v1h-3zM406 335h1v1h-1zM408 335h2v1h-2zM364 336h8v1h-8zM381 336h3v1h-3zM385 336h1v1h-1zM388 336h5v1h-5zM394 336h2v1h-2zM400 336h3v1h-3zM404 336h7v1h-7zM360 337h3v1h-3zM364 337h1v1h-1zM367 337h1v1h-1zM370 337h3v1h-3zM382 337h1v1h-1zM384 337h10v1h-10zM395 337h1v1h-1zM400 337h7v1h-7zM408 337h3v1h-3zM414 337h2v1h-2zM361 338h1v1h-1zM371 338h5v1h-5zM377 338h1v1h-1zM385 338h2v1h-2zM388 338h1v1h-1zM390 338h3v1h-3zM397 338h1v1h-1zM400 338h6v1h-6zM409 338h2v1h-2zM413 338h4v1h-4zM418 338h1v1h-1zM431 338h1v1h-1zM436 338h1v1h-1zM362 339h1v1h-1zM366 339h2v1h-2zM372 339h3v1h-3zM376 339h2v1h-2zM387 339h3v1h-3zM392 339h3v1h-3zM396 339h3v1h-3zM401 339h1v1h-1zM404 339h1v1h-1zM410 339h1v1h-1zM413 339h7v1h-7zM432 339h1v1h-1zM435 339h1v1h-1zM361 340h3v1h-3zM365 340h4v1h-4zM372 340h4v1h-4zM377 340h1v1h-1zM380 340h1v1h-1zM382 340h1v1h-1zM384 340h3v1h-3zM388 340h1v1h-1zM393 340h2v1h-2zM397 340h3v1h-3zM408 340h1v1h-1zM414 340h1v1h-1zM417 340h2v1h-2zM433 340h2v1h-2zM362 341h1v1h-1zM366 341h2v1h-2zM370 341h2v1h-2zM374 341h3v1h-3zM379 341h5v1h-5zM385 341h1v1h-1zM394 341h1v1h-1zM396 341h3v1h-3zM407 341h3v1h-3zM433 341h2v1h-2zM360 342h1v1h-1zM365 342h1v1h-1zM369 342h4v1h-4zM375 342h1v1h-1zM380 342h1v1h-1zM383 342h2v1h-2zM386 342h1v1h-1zM397 342h1v1h-1zM408 342h2v1h-2zM432 342h1v1h-1zM435 342h1v1h-1zM361 343h1v1h-1zM364 343h1v1h-1zM369 343h3v1h-3zM382 343h6v1h-6zM407 343h1v1h-1zM409 343h2v1h-2zM431 343h1v1h-1zM436 343h1v1h-1zM362 344h2v1h-2zM370 344h2v1h-2zM383 344h2v1h-2zM386 344h1v1h-1zM390 344h1v1h-1zM395 344h1v1h-1zM397 344h1v1h-1zM406 344h2v1h-2zM409 344h3v1h-3zM362 345h2v1h-2zM371 345h2v1h-2zM379 345h1v1h-1zM384 345h3v1h-3zM391 345h1v1h-1zM394 345h5v1h-5zM400 345h1v1h-1zM407 345h1v1h-1zM410 345h1v1h-1zM412 345h1v1h-1zM414 345h1v1h-1zM361 346h1v1h-1zM364 346h1v1h-1zM370 346h2v1h-2zM378 346h3v1h-3zM385 346h1v1h-1zM392 346h4v1h-4zM399 346h3v1h-3zM407 346h1v1h-1zM412 346h4v1h-4zM429 346h1v1h-1zM360 347h1v1h-1zM365 347h1v1h-1zM369 347h3v1h-3zM377 347h3v1h-3zM391 347h5v1h-5zM400 347h3v1h-3zM406 347h3v1h-3zM412 347h1v1h-1zM414 347h1v1h-1zM428 347h3v1h-3zM370 348h1v1h-1zM378 348h1v1h-1zM381 348h1v1h-1zM391 348h4v1h-4zM401 348h1v1h-1zM407 348h1v1h-1zM418 348h1v1h-1zM429 348h1v1h-1zM362 349h1v1h-1zM377 349h1v1h-1zM380 349h4v1h-4zM389 349h7v1h-7zM397 349h1v1h-1zM417 349h3v1h-3zM361 350h3v1h-3zM376 350h3v1h-3zM380 350h5v1h-5zM389 350h4v1h-4zM394 350h1v1h-1zM396 350h3v1h-3zM418 350h1v1h-1zM362 351h1v1h-1zM364 351h1v1h-1zM376 351h3v1h-3zM380 351h4v1h-4zM389 351h2v1h-2zM392 351h1v1h-1zM412 351h1v1h-1zM363 352h2v1h-2zM368 352h3v1h-3zM376 352h3v1h-3zM381 352h2v1h-2zM391 352h3v1h-3zM411 352h3v1h-3zM416 352h1v1h-1zM364 353h1v1h-1zM369 353h1v1h-1zM377 353h4v1h-4zM390 353h6v1h-6zM404 353h1v1h-1zM415 353h3v1h-3zM378 354h2v1h-2zM381 354h1v1h-1zM385 354h1v1h-1zM389 354h1v1h-1zM391 354h1v1h-1zM393 354h3v1h-3zM398 354h2v1h-2zM403 354h3v1h-3zM408 354h3v1h-3zM374 355h1v1h-1zM378 355h5v1h-5zM384 355h3v1h-3zM388 355h2v1h-2zM392 355h4v1h-4zM397 355h4v1h-4zM404 355h1v1h-1zM409 355h1v1h-1zM411 355h2v1h-2zM373 356h3v1h-3zM377 356h1v1h-1zM380 356h1v1h-1zM383 356h1v1h-1zM385 356h1v1h-1zM388 356h3v1h-3zM392 356h2v1h-2zM395 356h1v1h-1zM398 356h2v1h-2zM410 356h4v1h-4zM415 356h1v1h-1zM374 357h1v1h-1zM376 357h1v1h-1zM381 357h3v1h-3zM391 357h1v1h-1zM394 357h1v1h-1zM403 357h1v1h-1zM411 357h2v1h-2zM415 357h2v1h-2zM430 357h1v1h-1zM363 358h1v1h-1zM383 358h1v1h-1zM390 358h1v1h-1zM393 358h1v1h-1zM395 358h1v1h-1zM402 358h3v1h-3zM411 358h3v1h-3zM415 358h1v1h-1zM429 358h3v1h-3zM436 358h3v1h-3zM362 359h3v1h-3zM374 359h1v1h-1zM393 359h2v1h-2zM402 359h3v1h-3zM408 359h1v1h-1zM415 359h1v1h-1zM427 359h1v1h-1zM430 359h1v1h-1zM437 359h1v1h-1zM374 360h2v1h-2zM377 360h1v1h-1zM385 360h1v1h-1zM393 360h1v1h-1zM403 360h2v1h-2zM407 360h3v1h-3zM414 360h2v1h-2zM426 360h3v1h-3zM360 361h1v1h-1zM374 361h1v1h-1zM377 361h2v1h-2zM384 361h3v1h-3zM401 361h2v1h-2zM404 361h2v1h-2zM408 361h3v1h-3zM413 361h3v1h-3zM359 362h3v1h-3zM374 362h1v1h-1zM377 362h1v1h-1zM385 362h1v1h-1zM400 362h5v1h-5zM408 362h4v1h-4zM414 362h1v1h-1zM373 363h2v1h-2zM383 363h1v1h-1zM401 363h2v1h-2zM409 363h2v1h-2zM360 364h1v1h-1zM374 364h1v1h-1zM382 364h3v1h-3zM401 364h1v1h-1zM404 364h1v1h-1zM412 364h4v1h-4zM359 365h3v1h-3zM365 365h1v1h-1zM380 365h1v1h-1zM383 365h1v1h-1zM399 365h1v1h-1zM401 365h4v1h-4zM408 365h1v1h-1zM411 365h4v1h-4zM364 366h3v1h-3zM379 366h3v1h-3zM399 366h6v1h-6zM407 366h3v1h-3zM412 366h1v1h-1zM365 367h1v1h-1zM380 367h1v1h-1zM399 367h1v1h-1zM403 367h3v1h-3zM413 367h3v1h-3zM450 367h1v1h-1zM387 368h1v1h-1zM404 368h1v1h-1zM414 368h1v1h-1zM450 368h2v1h-2zM386 369h3v1h-3zM415 369h2v1h-2zM450 369h1v1h-1zM367 370h1v1h-1zM385 370h3v1h-3zM402 370h2v1h-2zM407 370h1v1h-1zM413 370h5v1h-5zM366 371h3v1h-3zM375 371h1v1h-1zM382 371h1v1h-1zM386 371h1v1h-1zM401 371h4v1h-4zM406 371h3v1h-3zM413 371h5v1h-5zM429 371h1v1h-1zM434 371h1v1h-1zM445 371h1v1h-1zM450 371h1v1h-1zM367 372h1v1h-1zM374 372h2v1h-2zM381 372h3v1h-3zM393 372h1v1h-1zM402 372h2v1h-2zM407 372h1v1h-1zM413 372h6v1h-6zM430 372h1v1h-1zM433 372h1v1h-1zM446 372h1v1h-1zM449 372h1v1h-1zM375 373h1v1h-1zM382 373h1v1h-1zM392 373h3v1h-3zM410 373h1v1h-1zM414 373h4v1h-4zM431 373h2v1h-2zM447 373h2v1h-2zM381 374h3v1h-3zM393 374h3v1h-3zM409 374h3v1h-3zM413 374h1v1h-1zM416 374h1v1h-1zM431 374h2v1h-2zM447 374h2v1h-2zM368 375h1v1h-1zM372 375h1v1h-1zM382 375h1v1h-1zM394 375h1v1h-1zM405 375h1v1h-1zM408 375h1v1h-1zM410 375h1v1h-1zM412 375h3v1h-3zM417 375h1v1h-1zM421 375h1v1h-1zM426 375h1v1h-1zM430 375h1v1h-1zM433 375h1v1h-1zM446 375h1v1h-1zM449 375h1v1h-1zM368 376h2v1h-2zM371 376h3v1h-3zM378 376h1v1h-1zM404 376h3v1h-3zM408 376h2v1h-2zM416 376h3v1h-3zM422 376h1v1h-1zM425 376h1v1h-1zM429 376h1v1h-1zM434 376h1v1h-1zM445 376h1v1h-1zM450 376h1v1h-1zM365 377h4v1h-4zM372 377h1v1h-1zM377 377h3v1h-3zM388 377h1v1h-1zM397 377h1v1h-1zM407 377h2v1h-2zM423 377h2v1h-2zM366 378h1v1h-1zM378 378h1v1h-1zM387 378h3v1h-3zM395 378h3v1h-3zM406 378h3v1h-3zM423 378h2v1h-2zM388 379h1v1h-1zM394 379h4v1h-4zM401 379h1v1h-1zM407 379h1v1h-1zM422 379h1v1h-1zM425 379h1v1h-1zM370 380h1v1h-1zM393 380h1v1h-1zM395 380h4v1h-4zM401 380h2v1h-2zM411 380h3v1h-3zM421 380h1v1h-1zM426 380h1v1h-1zM369 381h2v1h-2zM388 381h1v1h-1zM394 381h1v1h-1zM397 381h1v1h-1zM401 381h1v1h-1zM403 381h1v1h-1zM412 381h1v1h-1zM370 382h1v1h-1zM387 382h3v1h-3zM394 382h3v1h-3zM402 382h3v1h-3zM388 383h1v1h-1zM393 383h4v1h-4zM403 383h1v1h-1zM407 383h1v1h-1zM393 384h3v1h-3zM397 384h1v1h-1zM406 384h4v1h-4zM427 384h1v1h-1zM378 385h1v1h-1zM386 385h1v1h-1zM393 385h2v1h-2zM398 385h1v1h-1zM407 385h5v1h-5zM416 385h1v1h-1zM426 385h2v1h-2zM377 386h3v1h-3zM383 386h1v1h-1zM385 386h4v1h-4zM409 386h4v1h-4zM415 386h6v1h-6zM427 386h1v1h-1zM382 387h3v1h-3zM386 387h4v1h-4zM392 387h1v1h-1zM409 387h1v1h-1zM411 387h1v1h-1zM416 387h1v1h-1zM419 387h1v1h-1zM383 388h1v1h-1zM387 388h2v1h-2zM391 388h2v1h-2zM407 388h4v1h-4zM392 389h1v1h-1zM400 389h3v1h-3zM406 389h4v1h-4zM401 390h1v1h-1zM407 390h1v1h-1z"/>
<path fill="#8cff00" d="M413 278h1v1h-1zM376 279h1v1h-1zM412 279h3v1h-3zM375 280h3v1h-3zM376 281h1v1h-1zM398 283h1v1h-1zM391 284h3v1h-3zM397 284h3v1h-3zM392 285h1v1h-1zM396 285h3v1h-3zM397 286h1v1h-1zM382 287h1v1h-1zM381 288h3v1h-3zM382 289h1v1h-1zM373 290h1v1h-1zM405 290h1v1h-1zM372 291h3v1h-3zM404 291h2v1h-2zM371 292h1v1h-1zM373 292h1v1h-1zM405 292h1v1h-1zM371 293h2v1h-2zM383 293h1v1h-1zM398 293h1v1h-1zM371 294h1v1h-1zM382 294h5v1h-5zM397 294h2v1h-2zM362 295h1v1h-1zM383 295h6v1h-6zM398 295h1v1h-1zM361 296h3v1h-3zM385 296h5v1h-5zM378 297h1v1h-1zM388 297h1v1h-1zM377 298h3v1h-3zM391 298h3v1h-3zM378 299h1v1h-1zM390 299h1v1h-1zM392 299h1v1h-1zM389 300h3v1h-3zM373 301h1v1h-1zM390 301h1v1h-1zM372 302h3v1h-3zM400 302h1v1h-1zM373 303h1v1h-1zM400 303h2v1h-2zM407 303h3v1h-3zM400 304h1v1h-1zM405 304h4v1h-4zM384 305h1v1h-1zM406 305h1v1h-1zM383 306h2v1h-2zM384 307h1v1h-1zM386 307h1v1h-1zM405 307h1v1h-1zM363 308h1v1h-1zM385 308h3v1h-3zM404 308h2v1h-2zM362 309h3v1h-3zM381 309h1v1h-1zM383 309h1v1h-1zM386 309h1v1h-1zM388 309h1v1h-1zM405 309h1v1h-1zM363 310h1v1h-1zM376 310h1v1h-1zM382 310h1v1h-1zM384 310h2v1h-2zM387 310h1v1h-1zM375 311h3v1h-3zM381 311h1v1h-1zM383 311h4v1h-4zM376 312h1v1h-1zM380 312h7v1h-7zM395 312h1v1h-1zM381 313h2v1h-2zM384 313h2v1h-2zM387 313h1v1h-1zM394 313h3v1h-3zM381 314h1v1h-1zM383 314h1v1h-1zM386 314h1v1h-1zM388 314h1v1h-1zM395 314h1v1h-1zM385 315h1v1h-1zM394 315h4v1h-4zM372 316h1v1h-1zM384 316h3v1h-3zM395 316h4v1h-4zM371 317h3v1h-3zM385 317h1v1h-1zM398 317h1v1h-1zM360 318h1v1h-1zM365 318h1v1h-1zM384 318h3v1h-3zM395 318h1v1h-1zM397 318h3v1h-3zM361 319h1v1h-1zM364 319h1v1h-1zM381 319h1v1h-1zM385 319h2v1h-2zM394 319h3v1h-3zM362 320h2v1h-2zM382 320h1v1h-1zM385 320h1v1h-1zM395 320h1v1h-1zM401 320h1v1h-1zM404 320h1v1h-1zM362 321h2v1h-2zM381 321h1v1h-1zM383 321h3v1h-3zM390 321h1v1h-1zM400 321h6v1h-6zM361 322h1v1h-1zM364 322h1v1h-1zM380 322h5v1h-5zM386 322h1v1h-1zM389 322h1v1h-1zM401 322h1v1h-1zM404 322h1v1h-1zM360 323h1v1h-1zM365 323h1v1h-1zM379 323h1v1h-1zM381 323h3v1h-3zM385 323h1v1h-1zM387 323h2v1h-2zM407 323h1v1h-1zM378 324h5v1h-5zM386 324h3v1h-3zM401 324h2v1h-2zM407 324h2v1h-2zM379 325h1v1h-1zM386 325h1v1h-1zM389 325h1v1h-1zM400 325h4v1h-4zM406 325h2v1h-2zM409 325h1v1h-1zM385 326h1v1h-1zM390 326h1v1h-1zM401 326h1v1h-1zM404 326h2v1h-2zM408 326h3v1h-3zM383 327h1v1h-1zM404 327h3v1h-3zM409 327h1v1h-1zM374 328h1v1h-1zM382 328h3v1h-3zM403 328h1v1h-1zM405 328h5v1h-5zM373 329h3v1h-3zM383 329h1v1h-1zM402 329h1v1h-1zM406 329h3v1h-3zM374 330h2v1h-2zM402 330h1v1h-1zM405 330h1v1h-1zM359 331h3v1h-3zM375 331h1v1h-1zM402 331h5v1h-5zM360 332h1v1h-1zM377 332h1v1h-1zM385 332h1v1h-1zM398 332h1v1h-1zM402 332h1v1h-1zM405 332h1v1h-1zM376 333h3v1h-3zM384 333h3v1h-3zM397 333h3v1h-3zM409 333h1v1h-1zM375 334h3v1h-3zM384 334h2v1h-2zM390 334h1v1h-1zM398 334h1v1h-1zM408 334h2v1h-2zM378 335h1v1h-1zM383 335h3v1h-3zM389 335h3v1h-3zM396 335h1v1h-1zM409 335h1v1h-1zM377 336h3v1h-3zM384 336h1v1h-1zM395 336h2v1h-2zM378 337h1v1h-1zM383 337h1v1h-1zM396 337h1v1h-1zM416 337h1v1h-1zM382 338h3v1h-3zM405 338h1v1h-1zM415 338h3v1h-3zM372 339h3v1h-3zM376 339h1v1h-1zM383 339h1v1h-1zM391 339h1v1h-1zM404 339h3v1h-3zM414 339h3v1h-3zM362 340h1v1h-1zM370 340h4v1h-4zM375 340h3v1h-3zM390 340h3v1h-3zM405 340h1v1h-1zM415 340h1v1h-1zM361 341h3v1h-3zM370 341h3v1h-3zM374 341h4v1h-4zM391 341h1v1h-1zM414 341h3v1h-3zM371 342h1v1h-1zM376 342h1v1h-1zM382 342h1v1h-1zM409 342h1v1h-1zM415 342h2v1h-2zM381 343h3v1h-3zM408 343h3v1h-3zM415 343h1v1h-1zM382 344h3v1h-3zM409 344h1v1h-1zM364 345h3v1h-3zM370 345h1v1h-1zM372 345h1v1h-1zM383 345h1v1h-1zM399 345h3v1h-3zM365 346h1v1h-1zM369 346h5v1h-5zM382 346h1v1h-1zM400 346h1v1h-1zM370 347h1v1h-1zM372 347h1v1h-1zM376 347h3v1h-3zM381 347h3v1h-3zM370 348h2v1h-2zM377 348h3v1h-3zM382 348h1v1h-1zM370 349h1v1h-1zM378 349h1v1h-1zM418 349h1v1h-1zM371 350h1v1h-1zM417 350h2v1h-2zM370 351h3v1h-3zM418 351h1v1h-1zM387 352h1v1h-1zM359 353h3v1h-3zM387 353h2v1h-2zM360 354h1v1h-1zM378 354h1v1h-1zM387 354h1v1h-1zM378 355h2v1h-2zM392 355h1v1h-1zM418 355h1v1h-1zM378 356h1v1h-1zM392 356h2v1h-2zM408 356h1v1h-1zM417 356h3v1h-3zM392 357h4v1h-4zM407 357h3v1h-3zM418 357h1v1h-1zM392 358h1v1h-1zM394 358h1v1h-1zM408 358h1v1h-1zM390 359h5v1h-5zM389 360h4v1h-4zM394 360h2v1h-2zM394 361h1v1h-1zM413 362h1v1h-1zM393 363h1v1h-1zM398 363h1v1h-1zM413 363h2v1h-2zM394 364h1v1h-1zM397 364h1v1h-1zM413 364h1v1h-1zM395 365h2v1h-2zM395 366h2v1h-2zM419 366h1v1h-1zM360 367h3v1h-3zM373 367h1v1h-1zM394 367h1v1h-1zM397 367h1v1h-1zM418 367h3v1h-3zM361 368h1v1h-1zM364 368h1v1h-1zM370 368h1v1h-1zM372 368h3v1h-3zM393 368h1v1h-1zM398 368h1v1h-1zM402 368h1v1h-1zM419 368h1v1h-1zM363 369h3v1h-3zM369 369h3v1h-3zM401 369h3v1h-3zM364 370h1v1h-1zM370 370h1v1h-1zM402 370h1v1h-1zM378 374h1v1h-1zM377 375h3v1h-3zM378 376h1v1h-1zM410 382h1v1h-1zM415 382h1v1h-1zM411 383h1v1h-1zM414 383h1v1h-1zM412 384h2v1h-2zM383 385h1v1h-1zM412 385h2v1h-2zM382 386h2v1h-2zM411 386h1v1h-1zM414 386h1v1h-1zM383 387h1v1h-1zM410 387h1v1h-1zM415 387h1v1h-1z"/>
<path fill="#00ff5a" d="M372 280h1v1h-1zM371 281h2v1h-2zM376 281h1v1h-1zM385 281h1v1h-1zM372 282h1v1h-1zM375 282h3v1h-3zM384 282h3v1h-3zM376 283h2v1h-2zM385 283h1v1h-1zM376 284h3v1h-3zM377 285h1v1h-1zM399 285h1v1h-1zM404 285h1v1h-1zM409 285h3v1h-3zM400 286h1v1h-1zM403 286h1v1h-1zM410 286h1v1h-1zM401 287h2v1h-2zM401 288h2v1h-2zM400 289h1v1h-1zM403 289h1v1h-1zM389 290h1v1h-1zM394 290h1v1h-1zM399 290h1v1h-1zM404 290h1v1h-1zM413 290h1v1h-1zM373 291h1v1h-1zM376 291h3v1h-3zM385 291h1v1h-1zM390 291h2v1h-2zM393 291h2v1h-2zM396 291h1v1h-1zM412 291h3v1h-3zM351 292h1v1h-1zM374 292h1v1h-1zM377 292h1v1h-1zM385 292h2v1h-2zM390 292h8v1h-8zM402 292h3v1h-3zM413 292h1v1h-1zM350 293h3v1h-3zM373 293h1v1h-1zM375 293h2v1h-2zM385 293h1v1h-1zM388 293h1v1h-1zM391 293h2v1h-2zM396 293h1v1h-1zM400 293h1v1h-1zM403 293h1v1h-1zM411 293h1v1h-1zM351 294h1v1h-1zM372 294h5v1h-5zM384 294h7v1h-7zM393 294h1v1h-1zM399 294h2v1h-2zM410 294h3v1h-3zM373 295h2v1h-2zM377 295h1v1h-1zM382 295h1v1h-1zM385 295h1v1h-1zM388 295h2v1h-2zM394 295h1v1h-1zM400 295h1v1h-1zM373 296h2v1h-2zM378 296h1v1h-1zM382 296h2v1h-2zM393 296h1v1h-1zM396 296h1v1h-1zM373 297h3v1h-3zM380 297h1v1h-1zM382 297h1v1h-1zM388 297h1v1h-1zM392 297h3v1h-3zM396 297h2v1h-2zM374 298h3v1h-3zM379 298h3v1h-3zM387 298h3v1h-3zM391 298h3v1h-3zM396 298h1v1h-1zM364 299h1v1h-1zM370 299h1v1h-1zM375 299h1v1h-1zM379 299h3v1h-3zM388 299h1v1h-1zM392 299h1v1h-1zM397 299h1v1h-1zM409 299h1v1h-1zM413 299h1v1h-1zM360 300h1v1h-1zM363 300h3v1h-3zM369 300h2v1h-2zM379 300h3v1h-3zM384 300h1v1h-1zM387 300h3v1h-3zM391 300h3v1h-3zM396 300h3v1h-3zM408 300h2v1h-2zM412 300h3v1h-3zM359 301h2v1h-2zM364 301h1v1h-1zM370 301h1v1h-1zM380 301h1v1h-1zM385 301h1v1h-1zM388 301h1v1h-1zM392 301h1v1h-1zM397 301h1v1h-1zM404 301h1v1h-1zM408 301h3v1h-3zM413 301h1v1h-1zM360 302h1v1h-1zM386 302h2v1h-2zM396 302h4v1h-4zM403 302h3v1h-3zM407 302h3v1h-3zM412 302h3v1h-3zM376 303h1v1h-1zM382 303h1v1h-1zM386 303h2v1h-2zM389 303h2v1h-2zM395 303h3v1h-3zM400 303h1v1h-1zM403 303h2v1h-2zM408 303h1v1h-1zM413 303h1v1h-1zM375 304h3v1h-3zM381 304h3v1h-3zM385 304h1v1h-1zM388 304h4v1h-4zM396 304h1v1h-1zM401 304h2v1h-2zM410 304h3v1h-3zM371 305h1v1h-1zM376 305h1v1h-1zM382 305h3v1h-3zM389 305h2v1h-2zM396 305h1v1h-1zM401 305h2v1h-2zM411 305h1v1h-1zM371 306h2v1h-2zM378 306h3v1h-3zM383 306h1v1h-1zM396 306h2v1h-2zM400 306h4v1h-4zM416 306h3v1h-3zM371 307h1v1h-1zM379 307h1v1h-1zM384 307h1v1h-1zM388 307h1v1h-1zM396 307h1v1h-1zM399 307h6v1h-6zM417 307h1v1h-1zM371 308h1v1h-1zM383 308h2v1h-2zM387 308h3v1h-3zM395 308h3v1h-3zM401 308h1v1h-1zM403 308h1v1h-1zM416 308h2v1h-2zM370 309h3v1h-3zM384 309h1v1h-1zM386 309h1v1h-1zM388 309h1v1h-1zM395 309h4v1h-4zM406 309h1v1h-1zM415 309h4v1h-4zM368 310h1v1h-1zM371 310h1v1h-1zM386 310h2v1h-2zM396 310h4v1h-4zM401 310h1v1h-1zM405 310h4v1h-4zM416 310h4v1h-4zM367 311h3v1h-3zM383 311h1v1h-1zM386 311h3v1h-3zM397 311h2v1h-2zM400 311h3v1h-3zM406 311h4v1h-4zM418 311h1v1h-1zM382 312h3v1h-3zM387 312h1v1h-1zM396 312h1v1h-1zM401 312h1v1h-1zM419 312h1v1h-1zM380 313h1v1h-1zM383 313h1v1h-1zM390 313h1v1h-1zM395 313h4v1h-4zM400 313h3v1h-3zM419 313h2v1h-2zM371 314h1v1h-1zM379 314h3v1h-3zM388 314h1v1h-1zM391 314h1v1h-1zM394 314h1v1h-1zM396 314h4v1h-4zM401 314h1v1h-1zM419 314h1v1h-1zM370 315h3v1h-3zM380 315h1v1h-1zM387 315h3v1h-3zM392 315h2v1h-2zM395 315h4v1h-4zM405 315h3v1h-3zM411 315h1v1h-1zM416 315h3v1h-3zM371 316h1v1h-1zM376 316h1v1h-1zM387 316h2v1h-2zM391 316h3v1h-3zM395 316h3v1h-3zM402 316h6v1h-6zM409 316h4v1h-4zM417 316h1v1h-1zM364 317h1v1h-1zM375 317h2v1h-2zM386 317h3v1h-3zM391 317h2v1h-2zM394 317h1v1h-1zM396 317h1v1h-1zM398 317h1v1h-1zM403 317h2v1h-2zM406 317h6v1h-6zM416 317h1v1h-1zM363 318h2v1h-2zM374 318h3v1h-3zM380 318h1v1h-1zM387 318h1v1h-1zM390 318h1v1h-1zM395 318h1v1h-1zM397 318h3v1h-3zM403 318h1v1h-1zM406 318h2v1h-2zM409 318h1v1h-1zM412 318h1v1h-1zM415 318h1v1h-1zM364 319h1v1h-1zM373 319h4v1h-4zM379 319h3v1h-3zM393 319h3v1h-3zM398 319h1v1h-1zM405 319h3v1h-3zM413 319h2v1h-2zM363 320h1v1h-1zM374 320h2v1h-2zM377 320h1v1h-1zM379 320h3v1h-3zM384 320h1v1h-1zM394 320h1v1h-1zM404 320h3v1h-3zM413 320h2v1h-2zM362 321h3v1h-3zM377 321h2v1h-2zM380 321h1v1h-1zM383 321h3v1h-3zM387 321h1v1h-1zM393 321h1v1h-1zM400 321h1v1h-1zM402 321h1v1h-1zM404 321h2v1h-2zM412 321h1v1h-1zM415 321h1v1h-1zM363 322h1v1h-1zM377 322h1v1h-1zM384 322h1v1h-1zM386 322h4v1h-4zM391 322h3v1h-3zM399 322h7v1h-7zM411 322h1v1h-1zM416 322h1v1h-1zM418 322h1v1h-1zM387 323h7v1h-7zM399 323h4v1h-4zM404 323h1v1h-1zM417 323h3v1h-3zM382 324h1v1h-1zM389 324h3v1h-3zM394 324h1v1h-1zM400 324h1v1h-1zM415 324h1v1h-1zM417 324h1v1h-1zM381 325h3v1h-3zM388 325h4v1h-4zM393 325h3v1h-3zM397 325h1v1h-1zM401 325h3v1h-3zM415 325h4v1h-4zM382 326h1v1h-1zM385 326h1v1h-1zM389 326h2v1h-2zM394 326h1v1h-1zM396 326h3v1h-3zM400 326h1v1h-1zM402 326h1v1h-1zM411 326h1v1h-1zM415 326h1v1h-1zM417 326h1v1h-1zM384 327h2v1h-2zM397 327h1v1h-1zM399 327h3v1h-3zM410 327h3v1h-3zM385 328h2v1h-2zM388 328h1v1h-1zM392 328h1v1h-1zM394 328h1v1h-1zM396 328h1v1h-1zM411 328h1v1h-1zM414 328h1v1h-1zM384 329h6v1h-6zM392 329h3v1h-3zM396 329h2v1h-2zM400 329h1v1h-1zM413 329h3v1h-3zM385 330h2v1h-2zM388 330h1v1h-1zM392 330h3v1h-3zM396 330h1v1h-1zM398 330h1v1h-1zM400 330h2v1h-2zM403 330h1v1h-1zM414 330h1v1h-1zM384 331h3v1h-3zM392 331h3v1h-3zM399 331h2v1h-2zM402 331h1v1h-1zM414 331h1v1h-1zM370 332h1v1h-1zM384 332h3v1h-3zM393 332h1v1h-1zM400 332h3v1h-3zM413 332h3v1h-3zM369 333h3v1h-3zM385 333h1v1h-1zM392 333h3v1h-3zM399 333h7v1h-7zM370 334h1v1h-1zM393 334h1v1h-1zM399 334h2v1h-2zM402 334h6v1h-6zM413 334h1v1h-1zM396 335h1v1h-1zM398 335h1v1h-1zM401 335h3v1h-3zM406 335h3v1h-3zM412 335h3v1h-3zM395 336h2v1h-2zM401 336h2v1h-2zM407 336h3v1h-3zM411 336h1v1h-1zM413 336h1v1h-1zM416 336h1v1h-1zM396 337h1v1h-1zM400 337h2v1h-2zM403 337h1v1h-1zM408 337h1v1h-1zM412 337h1v1h-1zM415 337h1v1h-1zM420 337h1v1h-1zM425 337h1v1h-1zM391 338h1v1h-1zM394 338h1v1h-1zM399 338h1v1h-1zM401 338h2v1h-2zM404 338h1v1h-1zM413 338h2v1h-2zM421 338h1v1h-1zM424 338h1v1h-1zM390 339h6v1h-6zM401 339h1v1h-1zM411 339h1v1h-1zM413 339h2v1h-2zM422 339h2v1h-2zM391 340h1v1h-1zM394 340h1v1h-1zM407 340h1v1h-1zM410 340h3v1h-3zM415 340h1v1h-1zM422 340h2v1h-2zM390 341h6v1h-6zM407 341h2v1h-2zM411 341h1v1h-1zM416 341h1v1h-1zM421 341h1v1h-1zM424 341h1v1h-1zM391 342h1v1h-1zM394 342h1v1h-1zM407 342h3v1h-3zM411 342h1v1h-1zM420 342h1v1h-1zM425 342h1v1h-1zM401 343h3v1h-3zM408 343h1v1h-1zM410 343h3v1h-3zM394 344h1v1h-1zM402 344h1v1h-1zM411 344h1v1h-1zM384 345h1v1h-1zM388 345h1v1h-1zM393 345h2v1h-2zM382 346h4v1h-4zM387 346h3v1h-3zM392 346h3v1h-3zM397 346h1v1h-1zM411 346h1v1h-1zM381 347h2v1h-2zM384 347h1v1h-1zM388 347h1v1h-1zM393 347h1v1h-1zM396 347h3v1h-3zM405 347h1v1h-1zM410 347h3v1h-3zM434 347h1v1h-1zM439 347h1v1h-1zM382 348h1v1h-1zM397 348h1v1h-1zM406 348h1v1h-1zM409 348h1v1h-1zM411 348h1v1h-1zM435 348h1v1h-1zM438 348h1v1h-1zM370 349h3v1h-3zM399 349h1v1h-1zM407 349h2v1h-2zM436 349h2v1h-2zM371 350h1v1h-1zM398 350h3v1h-3zM407 350h2v1h-2zM436 350h2v1h-2zM399 351h1v1h-1zM406 351h1v1h-1zM409 351h1v1h-1zM435 351h1v1h-1zM438 351h1v1h-1zM365 352h1v1h-1zM367 352h1v1h-1zM370 352h1v1h-1zM402 352h1v1h-1zM405 352h1v1h-1zM410 352h1v1h-1zM434 352h1v1h-1zM439 352h1v1h-1zM366 353h4v1h-4zM402 353h2v1h-2zM407 353h1v1h-1zM367 354h2v1h-2zM388 354h1v1h-1zM393 354h1v1h-1zM402 354h1v1h-1zM406 354h3v1h-3zM367 355h2v1h-2zM389 355h1v1h-1zM392 355h1v1h-1zM401 355h3v1h-3zM407 355h1v1h-1zM366 356h1v1h-1zM369 356h1v1h-1zM390 356h2v1h-2zM401 356h3v1h-3zM365 357h1v1h-1zM370 357h1v1h-1zM385 357h1v1h-1zM390 357h2v1h-2zM402 357h1v1h-1zM412 357h1v1h-1zM384 358h2v1h-2zM389 358h1v1h-1zM392 358h1v1h-1zM411 358h3v1h-3zM385 359h1v1h-1zM388 359h1v1h-1zM393 359h1v1h-1zM403 359h1v1h-1zM412 359h1v1h-1zM416 359h1v1h-1zM431 359h1v1h-1zM433 359h1v1h-1zM373 360h1v1h-1zM389 360h1v1h-1zM402 360h3v1h-3zM416 360h2v1h-2zM430 360h5v1h-5zM372 361h2v1h-2zM388 361h3v1h-3zM398 361h1v1h-1zM403 361h1v1h-1zM416 361h1v1h-1zM431 361h1v1h-1zM433 361h1v1h-1zM372 362h2v1h-2zM387 362h1v1h-1zM389 362h1v1h-1zM397 362h4v1h-4zM372 363h2v1h-2zM379 363h1v1h-1zM381 363h1v1h-1zM386 363h3v1h-3zM395 363h1v1h-1zM398 363h5v1h-5zM413 363h1v1h-1zM415 363h1v1h-1zM372 364h1v1h-1zM378 364h4v1h-4zM387 364h1v1h-1zM393 364h4v1h-4zM398 364h1v1h-1zM400 364h4v1h-4zM409 364h1v1h-1zM412 364h4v1h-4zM381 365h1v1h-1zM394 365h2v1h-2zM397 365h1v1h-1zM402 365h1v1h-1zM409 365h2v1h-2zM413 365h1v1h-1zM415 365h1v1h-1zM418 365h1v1h-1zM370 366h3v1h-3zM395 366h2v1h-2zM408 366h5v1h-5zM417 366h3v1h-3zM433 366h1v1h-1zM369 367h3v1h-3zM383 367h1v1h-1zM395 367h2v1h-2zM409 367h1v1h-1zM411 367h2v1h-2zM415 367h1v1h-1zM418 367h1v1h-1zM426 367h1v1h-1zM431 367h3v1h-3zM361 368h1v1h-1zM370 368h1v1h-1zM382 368h3v1h-3zM394 368h1v1h-1zM397 368h1v1h-1zM410 368h1v1h-1zM413 368h4v1h-4zM427 368h1v1h-1zM430 368h1v1h-1zM433 368h1v1h-1zM361 369h2v1h-2zM383 369h1v1h-1zM393 369h1v1h-1zM398 369h1v1h-1zM409 369h1v1h-1zM414 369h2v1h-2zM422 369h1v1h-1zM427 369h3v1h-3zM361 370h1v1h-1zM405 370h1v1h-1zM415 370h1v1h-1zM423 370h1v1h-1zM426 370h1v1h-1zM428 370h2v1h-2zM431 370h1v1h-1zM404 371h3v1h-3zM414 371h3v1h-3zM424 371h2v1h-2zM427 371h1v1h-1zM430 371h3v1h-3zM395 372h1v1h-1zM400 372h1v1h-1zM405 372h1v1h-1zM415 372h1v1h-1zM424 372h3v1h-3zM431 372h1v1h-1zM390 373h3v1h-3zM396 373h1v1h-1zM399 373h1v1h-1zM423 373h1v1h-1zM426 373h1v1h-1zM391 374h1v1h-1zM397 374h2v1h-2zM413 374h1v1h-1zM422 374h1v1h-1zM427 374h1v1h-1zM431 374h1v1h-1zM436 374h1v1h-1zM376 375h1v1h-1zM386 375h3v1h-3zM397 375h2v1h-2zM410 375h1v1h-1zM412 375h3v1h-3zM432 375h1v1h-1zM435 375h1v1h-1zM375 376h2v1h-2zM387 376h1v1h-1zM396 376h1v1h-1zM399 376h1v1h-1zM409 376h3v1h-3zM433 376h2v1h-2zM376 377h1v1h-1zM395 377h1v1h-1zM400 377h1v1h-1zM410 377h1v1h-1zM433 377h2v1h-2zM395 378h3v1h-3zM431 378h2v1h-2zM435 378h1v1h-1zM396 379h1v1h-1zM431 379h2v1h-2zM436 379h1v1h-1zM431 380h1v1h-1zM417 383h1v1h-1zM422 383h1v1h-1zM412 384h1v1h-1zM417 384h2v1h-2zM421 384h1v1h-1zM413 385h1v1h-1zM416 385h1v1h-1zM419 385h2v1h-2zM433 385h1v1h-1zM438 385h1v1h-1zM414 386h2v1h-2zM419 386h2v1h-2zM434 386h1v1h-1zM437 386h1v1h-1zM414 387h2v1h-2zM418 387h1v1h-1zM421 387h1v1h-1zM435 387h2v1h-2zM413 388h1v1h-1zM416 388h2v1h-2zM422 388h1v1h-1zM435 388h2v1h-2zM412 389h1v1h-1zM417 389h1v1h-1zM434 389h1v1h-1zM437 389h1v1h-1zM433 390h1v1h-1zM438 390h1v1h-1z"/>
<path fill="#00f0a0" d="M375 282h3v1h-3zM383 282h3v1h-3zM428 282h1v1h-1zM376 283h1v1h-1zM384 283h1v1h-1zM428 283h2v1h-2zM428 284h1v1h-1zM410 286h1v1h-1zM371 287h1v1h-1zM398 287h1v1h-1zM401 287h1v1h-1zM409 287h3v1h-3zM370 288h3v1h-3zM397 288h6v1h-6zM410 288h1v1h-1zM371 289h1v1h-1zM398 289h1v1h-1zM401 289h1v1h-1zM387 290h1v1h-1zM395 290h1v1h-1zM400 290h1v1h-1zM405 290h3v1h-3zM386 291h3v1h-3zM396 291h1v1h-1zM399 291h1v1h-1zM406 291h1v1h-1zM387 292h1v1h-1zM397 292h2v1h-2zM404 292h1v1h-1zM419 292h1v1h-1zM382 293h1v1h-1zM386 293h1v1h-1zM397 293h2v1h-2zM403 293h2v1h-2zM418 293h3v1h-3zM381 294h3v1h-3zM385 294h3v1h-3zM396 294h1v1h-1zM399 294h1v1h-1zM404 294h1v1h-1zM419 294h1v1h-1zM382 295h1v1h-1zM385 295h1v1h-1zM388 295h1v1h-1zM393 295h1v1h-1zM395 295h2v1h-2zM400 295h1v1h-1zM379 296h1v1h-1zM385 296h6v1h-6zM392 296h1v1h-1zM396 296h2v1h-2zM378 297h3v1h-3zM383 297h1v1h-1zM385 297h7v1h-7zM396 297h1v1h-1zM411 297h1v1h-1zM416 297h1v1h-1zM379 298h1v1h-1zM382 298h3v1h-3zM387 298h1v1h-1zM390 298h2v1h-2zM412 298h1v1h-1zM415 298h1v1h-1zM383 299h1v1h-1zM389 299h1v1h-1zM392 299h1v1h-1zM397 299h1v1h-1zM413 299h2v1h-2zM388 300h1v1h-1zM393 300h1v1h-1zM396 300h1v1h-1zM413 300h2v1h-2zM393 301h3v1h-3zM412 301h1v1h-1zM415 301h1v1h-1zM380 302h1v1h-1zM392 302h5v1h-5zM400 302h1v1h-1zM411 302h1v1h-1zM416 302h1v1h-1zM379 303h3v1h-3zM385 303h1v1h-1zM391 303h3v1h-3zM395 303h3v1h-3zM399 303h2v1h-2zM410 303h1v1h-1zM377 304h1v1h-1zM380 304h1v1h-1zM382 304h1v1h-1zM384 304h3v1h-3zM392 304h3v1h-3zM396 304h2v1h-2zM400 304h1v1h-1zM407 304h1v1h-1zM409 304h3v1h-3zM378 305h1v1h-1zM381 305h1v1h-1zM385 305h1v1h-1zM393 305h1v1h-1zM406 305h6v1h-6zM379 306h2v1h-2zM403 306h1v1h-1zM410 306h1v1h-1zM379 307h2v1h-2zM389 307h1v1h-1zM397 307h1v1h-1zM402 307h2v1h-2zM407 307h1v1h-1zM378 308h1v1h-1zM381 308h1v1h-1zM388 308h3v1h-3zM396 308h2v1h-2zM403 308h1v1h-1zM406 308h3v1h-3zM377 309h1v1h-1zM382 309h1v1h-1zM389 309h1v1h-1zM394 309h1v1h-1zM396 309h2v1h-2zM406 309h3v1h-3zM425 309h3v1h-3zM393 310h5v1h-5zM407 310h1v1h-1zM426 310h1v1h-1zM380 311h1v1h-1zM394 311h1v1h-1zM396 311h1v1h-1zM401 311h1v1h-1zM379 312h3v1h-3zM388 312h1v1h-1zM400 312h3v1h-3zM380 313h1v1h-1zM387 313h3v1h-3zM397 313h1v1h-1zM401 313h1v1h-1zM381 314h1v1h-1zM388 314h1v1h-1zM396 314h3v1h-3zM409 314h1v1h-1zM414 314h1v1h-1zM380 315h2v1h-2zM396 315h3v1h-3zM402 315h1v1h-1zM410 315h1v1h-1zM413 315h1v1h-1zM370 316h1v1h-1zM381 316h1v1h-1zM397 316h1v1h-1zM401 316h3v1h-3zM406 316h1v1h-1zM411 316h2v1h-2zM422 316h1v1h-1zM369 317h3v1h-3zM402 317h1v1h-1zM405 317h3v1h-3zM411 317h2v1h-2zM420 317h4v1h-4zM370 318h1v1h-1zM373 318h3v1h-3zM381 318h1v1h-1zM386 318h1v1h-1zM406 318h1v1h-1zM410 318h1v1h-1zM413 318h1v1h-1zM419 318h2v1h-2zM422 318h1v1h-1zM374 319h1v1h-1zM380 319h3v1h-3zM385 319h3v1h-3zM397 319h2v1h-2zM409 319h1v1h-1zM414 319h1v1h-1zM420 319h1v1h-1zM381 320h1v1h-1zM386 320h1v1h-1zM396 320h4v1h-4zM397 321h2v1h-2zM403 321h1v1h-1zM399 322h1v1h-1zM402 322h1v1h-1zM400 323h2v1h-2zM400 324h2v1h-2zM390 325h4v1h-4zM399 325h1v1h-1zM402 325h1v1h-1zM389 326h2v1h-2zM392 326h1v1h-1zM398 326h1v1h-1zM401 326h3v1h-3zM390 327h1v1h-1zM402 327h1v1h-1zM421 327h1v1h-1zM396 328h1v1h-1zM401 328h1v1h-1zM420 328h3v1h-3zM372 329h1v1h-1zM395 329h3v1h-3zM400 329h3v1h-3zM421 329h1v1h-1zM371 330h3v1h-3zM390 330h1v1h-1zM393 330h1v1h-1zM396 330h1v1h-1zM401 330h1v1h-1zM372 331h1v1h-1zM389 331h6v1h-6zM400 331h1v1h-1zM405 331h1v1h-1zM390 332h4v1h-4zM401 332h1v1h-1zM404 332h1v1h-1zM427 332h1v1h-1zM391 333h2v1h-2zM396 333h1v1h-1zM401 333h3v1h-3zM411 333h1v1h-1zM419 333h1v1h-1zM427 333h2v1h-2zM389 334h4v1h-4zM397 334h1v1h-1zM400 334h1v1h-1zM402 334h2v1h-2zM410 334h3v1h-3zM418 334h3v1h-3zM427 334h1v1h-1zM389 335h3v1h-3zM398 335h2v1h-2zM401 335h1v1h-1zM404 335h1v1h-1zM419 335h1v1h-1zM373 336h1v1h-1zM389 336h2v1h-2zM398 336h3v1h-3zM405 336h1v1h-1zM417 336h1v1h-1zM422 336h1v1h-1zM372 337h3v1h-3zM389 337h3v1h-3zM397 337h1v1h-1zM400 337h1v1h-1zM402 337h1v1h-1zM418 337h1v1h-1zM421 337h1v1h-1zM423 337h1v1h-1zM373 338h1v1h-1zM390 338h1v1h-1zM393 338h1v1h-1zM396 338h1v1h-1zM401 338h3v1h-3zM419 338h2v1h-2zM423 338h2v1h-2zM392 339h3v1h-3zM402 339h1v1h-1zM407 339h1v1h-1zM417 339h1v1h-1zM419 339h2v1h-2zM423 339h1v1h-1zM393 340h1v1h-1zM403 340h1v1h-1zM406 340h1v1h-1zM416 340h3v1h-3zM421 340h1v1h-1zM423 340h1v1h-1zM426 340h1v1h-1zM366 341h3v1h-3zM404 341h2v1h-2zM413 341h5v1h-5zM419 341h1v1h-1zM422 341h1v1h-1zM425 341h1v1h-1zM367 342h1v1h-1zM404 342h2v1h-2zM413 342h2v1h-2zM420 342h2v1h-2zM423 342h2v1h-2zM363 343h1v1h-1zM387 343h1v1h-1zM403 343h1v1h-1zM406 343h1v1h-1zM412 343h4v1h-4zM420 343h5v1h-5zM428 343h1v1h-1zM362 344h3v1h-3zM387 344h2v1h-2zM397 344h1v1h-1zM402 344h3v1h-3zM407 344h1v1h-1zM411 344h7v1h-7zM419 344h1v1h-1zM422 344h2v1h-2zM425 344h1v1h-1zM427 344h3v1h-3zM383 345h1v1h-1zM387 345h1v1h-1zM396 345h1v1h-1zM398 345h1v1h-1zM401 345h1v1h-1zM403 345h1v1h-1zM412 345h7v1h-7zM421 345h3v1h-3zM426 345h1v1h-1zM428 345h1v1h-1zM382 346h3v1h-3zM389 346h1v1h-1zM395 346h3v1h-3zM399 346h2v1h-2zM403 346h1v1h-1zM413 346h1v1h-1zM415 346h1v1h-1zM417 346h1v1h-1zM383 347h1v1h-1zM389 347h2v1h-2zM395 347h2v1h-2zM399 347h2v1h-2zM402 347h2v1h-2zM408 347h1v1h-1zM389 348h1v1h-1zM395 348h2v1h-2zM398 348h1v1h-1zM401 348h1v1h-1zM403 348h1v1h-1zM407 348h3v1h-3zM395 349h1v1h-1zM397 349h1v1h-1zM402 349h1v1h-1zM408 349h1v1h-1zM417 349h1v1h-1zM422 349h1v1h-1zM388 350h1v1h-1zM399 350h1v1h-1zM414 350h1v1h-1zM416 350h1v1h-1zM418 350h1v1h-1zM421 350h1v1h-1zM387 351h4v1h-4zM398 351h3v1h-3zM413 351h5v1h-5zM419 351h2v1h-2zM369 352h1v1h-1zM388 352h1v1h-1zM390 352h2v1h-2zM399 352h1v1h-1zM414 352h1v1h-1zM416 352h1v1h-1zM419 352h2v1h-2zM369 353h2v1h-2zM390 353h1v1h-1zM418 353h1v1h-1zM420 353h2v1h-2zM423 353h1v1h-1zM428 353h1v1h-1zM369 354h1v1h-1zM394 354h2v1h-2zM416 354h2v1h-2zM422 354h1v1h-1zM424 354h1v1h-1zM427 354h1v1h-1zM387 355h1v1h-1zM392 355h1v1h-1zM394 355h2v1h-2zM399 355h1v1h-1zM415 355h2v1h-2zM425 355h2v1h-2zM386 356h3v1h-3zM391 356h5v1h-5zM398 356h1v1h-1zM414 356h3v1h-3zM425 356h2v1h-2zM387 357h1v1h-1zM393 357h1v1h-1zM396 357h2v1h-2zM415 357h1v1h-1zM424 357h1v1h-1zM427 357h1v1h-1zM392 358h3v1h-3zM396 358h2v1h-2zM407 358h1v1h-1zM423 358h1v1h-1zM428 358h1v1h-1zM393 359h1v1h-1zM395 359h1v1h-1zM398 359h1v1h-1zM406 359h3v1h-3zM392 360h1v1h-1zM394 360h1v1h-1zM399 360h1v1h-1zM434 360h1v1h-1zM391 361h3v1h-3zM402 361h3v1h-3zM433 361h3v1h-3zM385 362h1v1h-1zM392 362h1v1h-1zM403 362h1v1h-1zM420 362h1v1h-1zM425 362h1v1h-1zM434 362h1v1h-1zM384 363h3v1h-3zM391 363h1v1h-1zM419 363h1v1h-1zM421 363h1v1h-1zM424 363h1v1h-1zM385 364h1v1h-1zM390 364h2v1h-2zM401 364h1v1h-1zM418 364h3v1h-3zM422 364h3v1h-3zM435 364h1v1h-1zM440 364h1v1h-1zM391 365h1v1h-1zM401 365h2v1h-2zM416 365h1v1h-1zM419 365h2v1h-2zM422 365h2v1h-2zM436 365h1v1h-1zM439 365h1v1h-1zM373 366h1v1h-1zM401 366h1v1h-1zM415 366h3v1h-3zM421 366h2v1h-2zM424 366h1v1h-1zM435 366h4v1h-4zM372 367h3v1h-3zM416 367h1v1h-1zM420 367h3v1h-3zM425 367h1v1h-1zM427 367h1v1h-1zM432 367h1v1h-1zM436 367h3v1h-3zM373 368h1v1h-1zM393 368h3v1h-3zM420 368h1v1h-1zM423 368h4v1h-4zM428 368h1v1h-1zM431 368h1v1h-1zM436 368h1v1h-1zM439 368h1v1h-1zM390 369h2v1h-2zM394 369h1v1h-1zM413 369h1v1h-1zM419 369h1v1h-1zM424 369h2v1h-2zM429 369h2v1h-2zM435 369h1v1h-1zM440 369h1v1h-1zM389 370h4v1h-4zM412 370h3v1h-3zM429 370h2v1h-2zM389 371h3v1h-3zM404 371h1v1h-1zM413 371h1v1h-1zM428 371h1v1h-1zM431 371h1v1h-1zM434 371h1v1h-1zM439 371h1v1h-1zM389 372h2v1h-2zM403 372h3v1h-3zM413 372h2v1h-2zM423 372h1v1h-1zM427 372h2v1h-2zM432 372h1v1h-1zM435 372h1v1h-1zM438 372h1v1h-1zM389 373h1v1h-1zM402 373h1v1h-1zM404 373h3v1h-3zM413 373h1v1h-1zM424 373h1v1h-1zM427 373h1v1h-1zM436 373h2v1h-2zM401 374h3v1h-3zM405 374h1v1h-1zM425 374h2v1h-2zM436 374h2v1h-2zM382 375h3v1h-3zM425 375h2v1h-2zM435 375h1v1h-1zM438 375h1v1h-1zM383 376h1v1h-1zM393 376h1v1h-1zM398 376h1v1h-1zM402 376h1v1h-1zM416 376h3v1h-3zM424 376h1v1h-1zM427 376h1v1h-1zM434 376h1v1h-1zM439 376h1v1h-1zM456 376h1v1h-1zM392 377h3v1h-3zM397 377h3v1h-3zM401 377h3v1h-3zM417 377h1v1h-1zM423 377h1v1h-1zM428 377h1v1h-1zM455 377h3v1h-3zM379 378h1v1h-1zM381 378h1v1h-1zM393 378h1v1h-1zM398 378h1v1h-1zM402 378h1v1h-1zM434 378h1v1h-1zM443 378h3v1h-3zM455 378h3v1h-3zM378 379h5v1h-5zM415 379h1v1h-1zM433 379h3v1h-3zM444 379h1v1h-1zM456 379h1v1h-1zM379 380h1v1h-1zM381 380h1v1h-1zM414 380h3v1h-3zM434 380h1v1h-1zM415 381h1v1h-1zM397 382h1v1h-1zM402 382h1v1h-1zM398 383h1v1h-1zM401 383h1v1h-1zM370 384h3v1h-3zM399 384h2v1h-2zM409 384h1v1h-1zM371 385h1v1h-1zM384 385h1v1h-1zM399 385h2v1h-2zM409 385h2v1h-2zM383 386h3v1h-3zM398 386h1v1h-1zM401 386h1v1h-1zM409 386h1v1h-1zM372 387h1v1h-1zM397 387h1v1h-1zM402 387h1v1h-1zM371 388h3v1h-3zM372 389h1v1h-1z"/>
<path fill="#00f0ff" d="M401 280h1v1h-1zM400 281h3v1h-3zM401 282h1v1h-1zM398 284h1v1h-1zM410 284h1v1h-1zM397 285h3v1h-3zM409 285h3v1h-3zM383 286h3v1h-3zM398 286h1v1h-1zM410 286h1v1h-1zM384 287h1v1h-1zM374 289h1v1h-1zM397 289h1v1h-1zM373 290h3v1h-3zM396 290h3v1h-3zM374 291h1v1h-1zM397 291h1v1h-1zM399 292h1v1h-1zM398 293h3v1h-3zM406 293h1v1h-1zM412 293h1v1h-1zM390 294h3v1h-3zM404 294h4v1h-4zM411 294h2v1h-2zM372 295h1v1h-1zM391 295h1v1h-1zM403 295h5v1h-5zM412 295h1v1h-1zM371 296h3v1h-3zM404 296h1v1h-1zM406 296h3v1h-3zM372 297h1v1h-1zM407 297h1v1h-1zM372 299h1v1h-1zM382 299h1v1h-1zM371 300h3v1h-3zM381 300h3v1h-3zM372 301h1v1h-1zM382 301h1v1h-1zM411 301h1v1h-1zM390 302h1v1h-1zM394 302h1v1h-1zM410 302h3v1h-3zM389 303h3v1h-3zM393 303h3v1h-3zM402 303h1v1h-1zM411 303h1v1h-1zM418 303h1v1h-1zM394 304h1v1h-1zM401 304h2v1h-2zM410 304h1v1h-1zM417 304h3v1h-3zM381 305h3v1h-3zM391 305h1v1h-1zM401 305h2v1h-2zM410 305h2v1h-2zM418 305h1v1h-1zM382 306h1v1h-1zM390 306h3v1h-3zM400 306h2v1h-2zM410 306h1v1h-1zM365 307h1v1h-1zM391 307h1v1h-1zM401 307h1v1h-1zM406 307h1v1h-1zM365 308h2v1h-2zM374 308h1v1h-1zM379 308h3v1h-3zM393 308h1v1h-1zM405 308h3v1h-3zM365 309h1v1h-1zM373 309h3v1h-3zM380 309h1v1h-1zM392 309h3v1h-3zM406 309h1v1h-1zM414 309h1v1h-1zM374 310h1v1h-1zM377 310h1v1h-1zM380 310h1v1h-1zM393 310h1v1h-1zM413 310h3v1h-3zM376 311h3v1h-3zM380 311h2v1h-2zM414 311h1v1h-1zM377 312h1v1h-1zM380 312h1v1h-1zM376 313h3v1h-3zM401 313h1v1h-1zM377 314h1v1h-1zM400 314h3v1h-3zM406 314h1v1h-1zM401 315h1v1h-1zM406 315h2v1h-2zM406 316h1v1h-1zM370 317h1v1h-1zM395 317h1v1h-1zM399 317h1v1h-1zM369 318h3v1h-3zM394 318h3v1h-3zM398 318h3v1h-3zM370 319h1v1h-1zM395 319h1v1h-1zM399 319h1v1h-1zM412 320h1v1h-1zM387 321h1v1h-1zM411 321h3v1h-3zM386 322h3v1h-3zM412 322h1v1h-1zM418 322h1v1h-1zM387 323h1v1h-1zM404 323h1v1h-1zM418 323h2v1h-2zM403 324h3v1h-3zM418 324h1v1h-1zM404 325h1v1h-1zM423 325h3v1h-3zM424 326h1v1h-1zM390 327h1v1h-1zM395 327h1v1h-1zM389 328h3v1h-3zM394 328h3v1h-3zM390 329h1v1h-1zM395 329h1v1h-1zM400 329h1v1h-1zM408 329h1v1h-1zM395 330h1v1h-1zM399 330h3v1h-3zM407 330h2v1h-2zM418 330h1v1h-1zM386 331h1v1h-1zM396 331h1v1h-1zM399 331h2v1h-2zM406 331h1v1h-1zM408 331h1v1h-1zM417 331h3v1h-3zM385 332h3v1h-3zM397 332h2v1h-2zM405 332h3v1h-3zM386 333h1v1h-1zM397 333h2v1h-2zM425 333h1v1h-1zM396 334h1v1h-1zM399 334h1v1h-1zM407 334h3v1h-3zM424 334h2v1h-2zM395 335h1v1h-1zM400 335h1v1h-1zM408 335h3v1h-3zM423 335h1v1h-1zM425 335h1v1h-1zM409 336h1v1h-1zM422 336h3v1h-3zM423 337h1v1h-1zM393 340h1v1h-1zM402 340h1v1h-1zM392 341h2v1h-2zM401 341h3v1h-3zM407 341h1v1h-1zM393 342h1v1h-1zM402 342h1v1h-1zM406 342h2v1h-2zM410 342h1v1h-1zM415 342h1v1h-1zM419 342h1v1h-1zM424 342h2v1h-2zM430 342h1v1h-1zM392 343h1v1h-1zM407 343h1v1h-1zM411 343h1v1h-1zM414 343h1v1h-1zM420 343h1v1h-1zM423 343h1v1h-1zM426 343h2v1h-2zM429 343h1v1h-1zM391 344h3v1h-3zM409 344h1v1h-1zM412 344h2v1h-2zM417 344h1v1h-1zM421 344h2v1h-2zM427 344h2v1h-2zM391 345h2v1h-2zM402 345h1v1h-1zM408 345h3v1h-3zM412 345h2v1h-2zM416 345h3v1h-3zM421 345h2v1h-2zM427 345h2v1h-2zM432 345h1v1h-1zM390 346h3v1h-3zM401 346h3v1h-3zM409 346h1v1h-1zM411 346h1v1h-1zM414 346h1v1h-1zM420 346h1v1h-1zM423 346h1v1h-1zM426 346h1v1h-1zM429 346h1v1h-1zM431 346h3v1h-3zM391 347h1v1h-1zM402 347h1v1h-1zM405 347h1v1h-1zM410 347h1v1h-1zM415 347h1v1h-1zM419 347h1v1h-1zM424 347h2v1h-2zM430 347h1v1h-1zM432 347h1v1h-1zM404 348h3v1h-3zM419 348h1v1h-1zM424 348h1v1h-1zM401 349h3v1h-3zM405 349h1v1h-1zM410 349h1v1h-1zM420 349h1v1h-1zM423 349h1v1h-1zM397 350h4v1h-4zM402 350h1v1h-1zM409 350h2v1h-2zM421 350h2v1h-2zM395 351h1v1h-1zM398 351h4v1h-4zM410 351h1v1h-1zM421 351h2v1h-2zM438 351h1v1h-1zM394 352h3v1h-3zM400 352h1v1h-1zM420 352h1v1h-1zM423 352h1v1h-1zM437 352h3v1h-3zM395 353h1v1h-1zM419 353h1v1h-1zM424 353h1v1h-1zM438 353h1v1h-1zM387 354h1v1h-1zM393 354h1v1h-1zM410 354h1v1h-1zM419 354h1v1h-1zM386 355h3v1h-3zM392 355h2v1h-2zM405 355h1v1h-1zM409 355h3v1h-3zM419 355h2v1h-2zM393 356h1v1h-1zM395 356h1v1h-1zM402 356h1v1h-1zM404 356h3v1h-3zM410 356h1v1h-1zM419 356h2v1h-2zM390 357h1v1h-1zM394 357h3v1h-3zM402 357h2v1h-2zM405 357h1v1h-1zM419 357h3v1h-3zM389 358h3v1h-3zM395 358h1v1h-1zM402 358h1v1h-1zM420 358h1v1h-1zM423 358h1v1h-1zM440 358h1v1h-1zM445 358h1v1h-1zM390 359h1v1h-1zM419 359h1v1h-1zM422 359h3v1h-3zM441 359h1v1h-1zM444 359h1v1h-1zM420 360h1v1h-1zM423 360h1v1h-1zM442 360h2v1h-2zM448 360h1v1h-1zM405 361h1v1h-1zM421 361h2v1h-2zM424 361h1v1h-1zM429 361h1v1h-1zM442 361h3v1h-3zM447 361h1v1h-1zM405 362h2v1h-2zM420 362h3v1h-3zM425 362h1v1h-1zM428 362h1v1h-1zM441 362h1v1h-1zM444 362h3v1h-3zM405 363h1v1h-1zM417 363h1v1h-1zM420 363h5v1h-5zM426 363h2v1h-2zM440 363h1v1h-1zM445 363h2v1h-2zM392 364h1v1h-1zM418 364h2v1h-2zM421 364h4v1h-4zM426 364h2v1h-2zM431 364h1v1h-1zM444 364h1v1h-1zM447 364h1v1h-1zM454 364h1v1h-1zM459 364h1v1h-1zM391 365h2v1h-2zM419 365h2v1h-2zM422 365h2v1h-2zM425 365h1v1h-1zM428 365h1v1h-1zM430 365h3v1h-3zM443 365h1v1h-1zM448 365h1v1h-1zM455 365h1v1h-1zM458 365h1v1h-1zM388 366h1v1h-1zM392 366h1v1h-1zM419 366h3v1h-3zM424 366h1v1h-1zM429 366h1v1h-1zM431 366h1v1h-1zM456 366h2v1h-2zM387 367h3v1h-3zM411 367h1v1h-1zM418 367h1v1h-1zM420 367h2v1h-2zM425 367h1v1h-1zM430 367h1v1h-1zM456 367h2v1h-2zM388 368h1v1h-1zM395 368h1v1h-1zM410 368h3v1h-3zM417 368h1v1h-1zM422 368h1v1h-1zM426 368h1v1h-1zM429 368h1v1h-1zM455 368h1v1h-1zM458 368h1v1h-1zM390 369h1v1h-1zM394 369h2v1h-2zM411 369h1v1h-1zM427 369h2v1h-2zM454 369h1v1h-1zM459 369h1v1h-1zM389 370h3v1h-3zM395 370h1v1h-1zM411 370h1v1h-1zM427 370h2v1h-2zM439 370h1v1h-1zM442 370h1v1h-1zM447 370h1v1h-1zM390 371h1v1h-1zM393 371h1v1h-1zM411 371h2v1h-2zM423 371h1v1h-1zM426 371h1v1h-1zM429 371h1v1h-1zM439 371h2v1h-2zM443 371h1v1h-1zM446 371h1v1h-1zM388 372h3v1h-3zM392 372h3v1h-3zM411 372h1v1h-1zM423 372h3v1h-3zM430 372h1v1h-1zM439 372h1v1h-1zM444 372h2v1h-2zM389 373h1v1h-1zM393 373h1v1h-1zM423 373h1v1h-1zM444 373h2v1h-2zM410 374h1v1h-1zM443 374h1v1h-1zM446 374h1v1h-1zM409 375h3v1h-3zM442 375h1v1h-1zM447 375h1v1h-1zM410 376h1v1h-1zM402 377h1v1h-1zM416 377h1v1h-1zM401 378h3v1h-3zM415 378h3v1h-3zM424 378h1v1h-1zM429 378h1v1h-1zM402 379h1v1h-1zM416 379h1v1h-1zM425 379h1v1h-1zM428 379h1v1h-1zM426 380h2v1h-2zM426 381h2v1h-2zM401 382h1v1h-1zM425 382h1v1h-1zM428 382h1v1h-1zM400 383h3v1h-3zM424 383h1v1h-1zM429 383h1v1h-1zM401 384h1v1h-1zM418 384h1v1h-1zM423 384h1v1h-1zM436 384h1v1h-1zM441 384h1v1h-1zM419 385h1v1h-1zM422 385h1v1h-1zM437 385h1v1h-1zM440 385h1v1h-1zM420 386h2v1h-2zM438 386h2v1h-2zM420 387h2v1h-2zM438 387h2v1h-2zM419 388h1v1h-1zM422 388h1v1h-1zM437 388h1v1h-1zM440 388h1v1h-1zM418 389h1v1h-1zM423 389h1v1h-1zM436 389h1v1h-1zM441 389h1v1h-1z"/>
<path fill="#00ebd2" d="M390 281h3v1h-3zM391 282h1v1h-1zM399 282h1v1h-1zM398 283h3v1h-3zM399 284h1v1h-1zM394 286h1v1h-1zM393 287h3v1h-3zM382 288h1v1h-1zM387 288h1v1h-1zM394 288h1v1h-1zM402 288h1v1h-1zM409 288h1v1h-1zM381 289h1v1h-1zM383 289h1v1h-1zM386 289h1v1h-1zM396 289h1v1h-1zM401 289h2v1h-2zM408 289h2v1h-2zM380 290h3v1h-3zM384 290h2v1h-2zM395 290h3v1h-3zM402 290h1v1h-1zM409 290h1v1h-1zM381 291h1v1h-1zM384 291h2v1h-2zM396 291h1v1h-1zM358 292h1v1h-1zM383 292h1v1h-1zM386 292h1v1h-1zM357 293h3v1h-3zM382 293h1v1h-1zM387 293h1v1h-1zM396 293h1v1h-1zM358 294h1v1h-1zM395 294h3v1h-3zM396 295h1v1h-1zM387 296h1v1h-1zM387 297h2v1h-2zM387 298h1v1h-1zM371 299h1v1h-1zM376 299h1v1h-1zM372 300h1v1h-1zM375 300h1v1h-1zM383 300h1v1h-1zM373 301h2v1h-2zM383 301h2v1h-2zM373 302h2v1h-2zM383 302h1v1h-1zM372 303h1v1h-1zM375 303h1v1h-1zM371 304h1v1h-1zM376 304h1v1h-1zM397 306h1v1h-1zM370 307h1v1h-1zM396 307h3v1h-3zM402 307h1v1h-1zM369 308h2v1h-2zM397 308h1v1h-1zM401 308h3v1h-3zM370 309h1v1h-1zM397 309h1v1h-1zM402 309h1v1h-1zM396 310h3v1h-3zM397 311h1v1h-1zM404 311h1v1h-1zM403 312h2v1h-2zM398 313h1v1h-1zM404 313h1v1h-1zM397 314h4v1h-4zM395 315h1v1h-1zM398 315h4v1h-4zM388 316h1v1h-1zM394 316h2v1h-2zM400 316h1v1h-1zM387 317h3v1h-3zM395 317h1v1h-1zM388 318h1v1h-1zM399 318h1v1h-1zM398 319h3v1h-3zM387 320h3v1h-3zM399 320h2v1h-2zM388 321h1v1h-1zM399 321h2v1h-2zM400 322h1v1h-1zM412 329h1v1h-1zM395 330h1v1h-1zM411 330h2v1h-2zM394 331h3v1h-3zM412 331h1v1h-1zM395 332h1v1h-1zM398 332h3v1h-3zM392 333h1v1h-1zM399 333h1v1h-1zM391 334h3v1h-3zM392 335h1v1h-1zM406 335h1v1h-1zM405 336h2v1h-2zM409 336h1v1h-1zM406 337h1v1h-1zM408 337h2v1h-2zM386 338h1v1h-1zM409 338h1v1h-1zM385 339h3v1h-3zM386 340h1v1h-1z"/>
<path fill="#0082ff" d="M422 284h3v1h-3zM423 285h1v1h-1zM424 308h1v1h-1zM423 309h2v1h-2zM424 310h1v1h-1zM417 324h1v1h-1zM422 324h1v1h-1zM418 325h1v1h-1zM421 325h1v1h-1zM419 326h2v1h-2zM419 327h2v1h-2zM418 328h1v1h-1zM421 328h1v1h-1zM417 329h1v1h-1zM422 329h1v1h-1zM424 337h1v1h-1zM423 338h2v1h-2zM424 339h1v1h-1zM423 348h1v1h-1zM422 349h3v1h-3zM423 350h1v1h-1zM436 357h1v1h-1zM435 358h3v1h-3zM436 359h1v1h-1zM431 363h1v1h-1zM436 363h1v1h-1zM432 364h1v1h-1zM435 364h1v1h-1zM433 365h2v1h-2zM433 366h2v1h-2zM432 367h1v1h-1zM435 367h2v1h-2zM441 367h1v1h-1zM418 368h1v1h-1zM423 368h1v1h-1zM431 368h1v1h-1zM436 368h2v1h-2zM440 368h1v1h-1zM419 369h1v1h-1zM422 369h1v1h-1zM438 369h2v1h-2zM420 370h2v1h-2zM438 370h2v1h-2zM419 371h3v1h-3zM424 371h1v1h-1zM429 371h1v1h-1zM437 371h1v1h-1zM440 371h1v1h-1zM419 372h2v1h-2zM422 372h2v1h-2zM425 372h1v1h-1zM428 372h1v1h-1zM436 372h1v1h-1zM441 372h1v1h-1zM418 373h1v1h-1zM421 373h3v1h-3zM426 373h2v1h-2zM421 374h2v1h-2zM426 374h2v1h-2zM420 375h1v1h-1zM423 375h1v1h-1zM425 375h1v1h-1zM428 375h1v1h-1zM419 376h1v1h-1zM424 376h1v1h-1zM429 376h1v1h-1zM417 383h1v1h-1zM422 383h1v1h-1zM418 384h1v1h-1zM421 384h1v1h-1zM427 384h1v1h-1zM432 384h1v1h-1zM419 385h2v1h-2zM428 385h1v1h-1zM431 385h1v1h-1zM419 386h2v1h-2zM429 386h2v1h-2zM439 386h1v1h-1zM418 387h1v1h-1zM421 387h1v1h-1zM429 387h2v1h-2zM439 387h2v1h-2zM417 388h1v1h-1zM422 388h1v1h-1zM428 388h1v1h-1zM430 388h2v1h-2zM439 388h1v1h-1zM427 389h1v1h-1zM430 389h3v1h-3zM430 390h1v1h-1z"/>
<path fill="#5a00b4" d="M429 305h1v1h-1zM428 306h3v1h-3zM422 325h1v1h-1zM421 326h2v1h-2zM422 327h1v1h-1z"/>
<path fill="#1a10ff" d="M425 310h1v1h-1zM424 311h3v1h-3zM425 312h1v1h-1zM424 319h1v1h-1zM423 320h3v1h-3zM424 321h1v1h-1zM422 348h1v1h-1zM427 348h1v1h-1zM423 349h1v1h-1zM426 349h1v1h-1zM431 349h1v1h-1zM424 350h2v1h-2zM427 350h1v1h-1zM430 350h1v1h-1zM424 351h2v1h-2zM428 351h2v1h-2zM423 352h1v1h-1zM426 352h1v1h-1zM428 352h2v1h-2zM422 353h1v1h-1zM427 353h1v1h-1zM430 353h1v1h-1zM426 354h1v1h-1zM431 354h1v1h-1zM403 361h3v1h-3zM404 362h1v1h-1zM391 363h1v1h-1zM390 364h3v1h-3zM391 365h1v1h-1zM438 365h1v1h-1zM387 366h1v1h-1zM407 366h3v1h-3zM437 366h3v1h-3zM386 367h3v1h-3zM408 367h1v1h-1zM438 367h1v1h-1zM387 368h1v1h-1zM409 372h1v1h-1zM408 373h2v1h-2zM409 374h1v1h-1zM374 388h1v1h-1zM373 389h3v1h-3zM374 390h1v1h-1z"/>
<path fill="#ff0000" d="M371 326h1v1h-1zM370 327h3v1h-3zM362 328h1v1h-1zM371 328h1v1h-1zM361 329h3v1h-3zM366 335h1v1h-1zM365 336h3v1h-3zM366 337h1v1h-1zM399 348h1v1h-1zM398 349h3v1h-3zM403 351h1v1h-1zM402 352h3v1h-3zM369 359h1v1h-1zM368 360h2v1h-2zM369 361h1v1h-1zM366 364h1v1h-1zM419 364h1v1h-1zM365 365h3v1h-3zM375 365h1v1h-1zM418 365h3v1h-3zM366 366h1v1h-1zM374 366h3v1h-3zM419 366h1v1h-1zM375 367h1v1h-1zM373 372h1v1h-1zM411 372h1v1h-1zM372 373h2v1h-2zM410 373h3v1h-3zM373 374h1v1h-1zM379 374h1v1h-1zM411 374h1v1h-1zM378 375h3v1h-3zM379 376h1v1h-1zM418 377h1v1h-1zM410 378h1v1h-1zM417 378h2v1h-2zM409 379h3v1h-3zM418 379h1v1h-1zM410 380h1v1h-1z"/>
<path fill="#ffee00" d="M370 319h1v1h-1zM369 320h3v1h-3zM381 320h1v1h-1zM370 321h1v1h-1zM380 321h3v1h-3zM381 322h1v1h-1zM370 325h1v1h-1zM384 325h1v1h-1zM369 326h3v1h-3zM384 326h2v1h-2zM370 327h1v1h-1zM384 327h1v1h-1zM380 331h1v1h-1zM379 332h3v1h-3zM380 333h1v1h-1zM378 335h1v1h-1zM377 336h3v1h-3zM373 337h1v1h-1zM372 338h3v1h-3zM373 339h1v1h-1zM381 339h1v1h-1zM380 340h3v1h-3zM366 341h1v1h-1zM381 341h1v1h-1zM365 342h3v1h-3zM366 343h1v1h-1zM382 345h1v1h-1zM382 346h2v1h-2zM382 347h1v1h-1zM368 363h1v1h-1zM367 364h3v1h-3zM368 365h1v1h-1z"/>
<path fill="#ffaa00" d="M381 322h1v1h-1zM380 323h3v1h-3zM381 324h1v1h-1zM369 332h3v1h-3zM370 333h1v1h-1zM376 335h1v1h-1zM375 336h3v1h-3zM376 337h1v1h-1zM370 340h1v1h-1zM364 341h3v1h-3zM369 341h3v1h-3zM365 342h1v1h-1zM370 342h1v1h-1zM380 342h1v1h-1zM393 342h1v1h-1zM379 343h3v1h-3zM392 343h2v1h-2zM406 343h1v1h-1zM380 344h1v1h-1zM393 344h1v1h-1zM405 344h3v1h-3zM419 344h1v1h-1zM406 345h1v1h-1zM418 345h3v1h-3zM419 346h1v1h-1zM383 347h1v1h-1zM382 348h2v1h-2zM382 349h2v1h-2zM399 349h1v1h-1zM381 350h3v1h-3zM398 350h2v1h-2zM401 350h1v1h-1zM382 351h1v1h-1zM399 351h4v1h-4zM411 351h1v1h-1zM410 352h3v1h-3zM411 353h1v1h-1zM393 354h1v1h-1zM409 354h3v1h-3zM392 355h3v1h-3zM410 355h1v1h-1zM415 357h1v1h-1zM414 358h3v1h-3zM415 359h1v1h-1zM393 361h1v1h-1zM392 362h3v1h-3zM393 363h1v1h-1zM366 364h3v1h-3zM367 365h1v1h-1zM384 366h3v1h-3zM385 367h1v1h-1zM361 368h1v1h-1zM361 369h2v1h-2zM407 369h1v1h-1zM361 370h1v1h-1zM371 370h1v1h-1zM406 370h3v1h-3zM370 371h3v1h-3zM407 371h1v1h-1zM371 372h1v1h-1zM410 379h1v1h-1zM409 380h3v1h-3zM410 381h1v1h-1z"/>
<path fill="#000000" d="M371 361h1v1h-1zM401 361h1v1h-1zM370 362h3v1h-3zM401 362h2v1h-2zM371 363h1v1h-1zM401 363h1v1h-1zM374 364h1v1h-1zM373 365h3v1h-3zM381 365h3v1h-3zM396 365h1v1h-1zM401 365h1v1h-1zM374 366h1v1h-1zM382 366h1v1h-1zM397 366h1v1h-1zM400 366h1v1h-1zM398 367h2v1h-2zM401 367h1v1h-1zM398 368h5v1h-5zM397 369h1v1h-1zM400 369h2v1h-2zM396 370h1v1h-1zM401 370h1v1h-1zM388 371h1v1h-1zM414 371h1v1h-1zM387 372h3v1h-3zM413 372h3v1h-3zM388 373h1v1h-1zM392 373h1v1h-1zM382 374h1v1h-1zM391 374h3v1h-3zM381 375h3v1h-3zM392 375h1v1h-1zM405 375h1v1h-1zM407 375h1v1h-1zM388 376h1v1h-1zM405 376h4v1h-4zM413 376h1v1h-1zM417 376h1v1h-1zM387 377h3v1h-3zM405 377h1v1h-1zM412 377h3v1h-3zM416 377h3v1h-3zM388 378h2v1h-2zM405 378h1v1h-1zM417 378h1v1h-1zM388 379h2v1h-2zM405 379h2v1h-2zM389 380h1v1h-1zM405 380h1v1h-1zM388 381h1v1h-1zM408 381h1v1h-1zM388 382h2v1h-2zM407 382h3v1h-3zM388 383h1v1h-1zM408 383h1v1h-1zM403 386h3v1h-3zM404 387h1v1h-1z"/>
</g>
<g shape-rendering="crispEdges">
<path fill="#8cff00" d="M443 70h2v1h-2zM443 71h1v1h-1zM265 130h1v1h-1zM264 131h3v1h-3zM265 132h1v1h-1zM244 166h1v1h-1zM243 167h3v1h-3zM244 168h1v1h-1zM370 169h1v1h-1zM369 170h3v1h-3zM370 171h1v1h-1zM427 172h1v1h-1zM432 172h1v1h-1zM428 173h1v1h-1zM431 173h1v1h-1zM429 174h2v1h-2zM429 175h2v1h-2zM428 176h1v1h-1zM431 176h1v1h-1zM427 177h1v1h-1zM432 177h1v1h-1zM295 184h2v1h-2zM295 185h1v1h-1zM325 189h1v1h-1zM325 190h2v1h-2zM325 191h1v1h-1zM448 213h1v1h-1zM447 214h3v1h-3zM448 215h1v1h-1zM325 223h1v1h-1zM324 224h3v1h-3zM325 225h1v1h-1zM324 228h2v1h-2zM324 229h1v1h-1zM274 230h1v1h-1zM273 231h3v1h-3zM437 231h1v1h-1zM436 232h3v1h-3zM351 233h1v1h-1zM437 233h1v1h-1zM350 234h3v1h-3zM351 235h1v1h-1zM280 239h1v1h-1zM279 240h3v1h-3zM280 241h1v1h-1zM397 247h2v1h-2zM397 248h1v1h-1zM317 252h2v1h-2zM317 253h1v1h-1zM331 257h1v1h-1zM330 258h3v1h-3zM331 259h1v1h-1zM287 260h3v1h-3zM279 261h3v1h-3zM288 261h1v1h-1zM280 262h1v1h-1zM288 262h1v1h-1zM246 263h1v1h-1zM287 263h3v1h-3zM487 263h1v1h-1zM245 264h2v1h-2zM288 264h1v1h-1zM461 264h1v1h-1zM486 264h3v1h-3zM246 265h1v1h-1zM460 265h3v1h-3zM487 265h1v1h-1zM337 269h1v1h-1zM336 270h3v1h-3zM337 271h1v1h-1zM305 278h1v1h-1zM304 279h3v1h-3zM303 285h1v1h-1zM308 285h1v1h-1zM312 285h1v1h-1zM317 285h1v1h-1zM304 286h1v1h-1zM307 286h1v1h-1zM313 286h1v1h-1zM316 286h1v1h-1zM448 286h1v1h-1zM305 287h2v1h-2zM314 287h2v1h-2zM447 287h3v1h-3zM305 288h2v1h-2zM314 288h2v1h-2zM304 289h1v1h-1zM307 289h1v1h-1zM313 289h1v1h-1zM316 289h1v1h-1zM303 290h1v1h-1zM308 290h1v1h-1zM312 290h1v1h-1zM317 290h1v1h-1zM449 292h1v1h-1zM325 293h1v1h-1zM448 293h2v1h-2zM324 294h3v1h-3zM449 294h1v1h-1zM292 299h1v1h-1zM333 299h1v1h-1zM291 300h2v1h-2zM332 300h3v1h-3zM292 301h1v1h-1zM333 301h1v1h-1zM344 307h1v1h-1zM349 307h1v1h-1zM345 308h1v1h-1zM348 308h1v1h-1zM346 309h2v1h-2zM325 310h2v1h-2zM346 310h2v1h-2zM318 311h2v1h-2zM325 311h1v1h-1zM345 311h1v1h-1zM348 311h1v1h-1zM318 312h1v1h-1zM344 312h1v1h-1zM349 312h1v1h-1zM354 312h1v1h-1zM359 312h1v1h-1zM355 313h1v1h-1zM358 313h1v1h-1zM303 314h2v1h-2zM356 314h2v1h-2zM303 315h1v1h-1zM356 315h2v1h-2zM355 316h1v1h-1zM358 316h1v1h-1zM354 317h1v1h-1zM359 317h1v1h-1zM336 321h2v1h-2zM336 322h1v1h-1zM301 326h1v1h-1zM306 326h1v1h-1zM302 327h1v1h-1zM305 327h1v1h-1zM303 328h2v1h-2zM303 329h2v1h-2zM496 329h1v1h-1zM501 329h1v1h-1zM302 330h1v1h-1zM305 330h1v1h-1zM497 330h1v1h-1zM500 330h1v1h-1zM301 331h1v1h-1zM306 331h1v1h-1zM334 331h3v1h-3zM498 331h2v1h-2zM335 332h3v1h-3zM498 332h2v1h-2zM280 333h1v1h-1zM336 333h1v1h-1zM497 333h1v1h-1zM500 333h1v1h-1zM279 334h3v1h-3zM496 334h1v1h-1zM501 334h1v1h-1zM234 335h1v1h-1zM239 335h1v1h-1zM280 335h1v1h-1zM235 336h1v1h-1zM238 336h1v1h-1zM236 337h2v1h-2zM236 338h2v1h-2zM235 339h1v1h-1zM238 339h1v1h-1zM234 340h1v1h-1zM239 340h1v1h-1zM326 340h2v1h-2zM326 341h1v1h-1zM331 341h1v1h-1zM336 341h1v1h-1zM332 342h1v1h-1zM335 342h1v1h-1zM333 343h2v1h-2zM294 344h2v1h-2zM333 344h2v1h-2zM340 344h3v1h-3zM294 345h1v1h-1zM332 345h1v1h-1zM335 345h1v1h-1zM341 345h1v1h-1zM331 346h1v1h-1zM336 346h1v1h-1zM288 347h2v1h-2zM288 348h1v1h-1zM355 349h1v1h-1zM360 349h1v1h-1zM356 350h1v1h-1zM359 350h1v1h-1zM284 351h1v1h-1zM346 351h3v1h-3zM357 351h2v1h-2zM284 352h2v1h-2zM347 352h1v1h-1zM357 352h2v1h-2zM284 353h1v1h-1zM330 353h1v1h-1zM356 353h1v1h-1zM359 353h1v1h-1zM329 354h3v1h-3zM355 354h1v1h-1zM360 354h1v1h-1zM310 357h1v1h-1zM309 358h3v1h-3zM331 358h1v1h-1zM310 359h1v1h-1zM331 359h2v1h-2zM331 360h1v1h-1zM283 362h1v1h-1zM282 363h3v1h-3zM283 364h1v1h-1zM361 370h1v1h-1zM366 370h1v1h-1zM362 371h1v1h-1zM365 371h1v1h-1zM363 372h2v1h-2zM350 373h1v1h-1zM363 373h2v1h-2zM350 374h2v1h-2zM362 374h1v1h-1zM365 374h1v1h-1zM350 375h1v1h-1zM361 375h1v1h-1zM366 375h1v1h-1zM297 380h1v1h-1zM296 381h3v1h-3zM324 383h1v1h-1zM323 384h3v1h-3zM491 384h2v1h-2zM324 385h1v1h-1zM491 385h1v1h-1zM362 391h1v1h-1zM367 391h1v1h-1zM334 392h2v1h-2zM363 392h1v1h-1zM366 392h1v1h-1zM334 393h1v1h-1zM360 393h1v1h-1zM364 393h2v1h-2zM359 394h3v1h-3zM364 394h2v1h-2zM456 394h3v1h-3zM354 395h1v1h-1zM363 395h1v1h-1zM366 395h1v1h-1zM457 395h1v1h-1zM354 396h2v1h-2zM362 396h1v1h-1zM367 396h1v1h-1zM354 397h1v1h-1zM357 398h1v1h-1zM356 399h3v1h-3zM351 405h1v1h-1zM356 405h1v1h-1zM352 406h1v1h-1zM355 406h1v1h-1zM353 407h2v1h-2zM353 408h2v1h-2zM352 409h1v1h-1zM355 409h1v1h-1zM351 410h1v1h-1zM356 410h1v1h-1zM393 418h1v1h-1zM398 418h1v1h-1zM394 419h1v1h-1zM397 419h1v1h-1zM395 420h2v1h-2zM275 421h1v1h-1zM347 421h2v1h-2zM395 421h2v1h-2zM274 422h2v1h-2zM347 422h1v1h-1zM394 422h1v1h-1zM397 422h1v1h-1zM409 422h3v1h-3zM275 423h1v1h-1zM393 423h1v1h-1zM398 423h1v1h-1zM410 423h1v1h-1zM310 426h1v1h-1zM309 427h3v1h-3zM310 428h1v1h-1zM368 428h1v1h-1zM367 429h3v1h-3zM368 430h1v1h-1zM331 431h2v1h-2zM348 431h3v1h-3zM331 432h1v1h-1zM349 432h1v1h-1zM346 435h1v1h-1zM368 435h1v1h-1zM345 436h2v1h-2zM367 436h3v1h-3zM346 437h1v1h-1zM368 437h1v1h-1zM398 438h1v1h-1zM403 438h1v1h-1zM462 438h1v1h-1zM399 439h1v1h-1zM402 439h1v1h-1zM461 439h3v1h-3zM400 440h2v1h-2zM462 440h1v1h-1zM400 441h2v1h-2zM399 442h1v1h-1zM402 442h1v1h-1zM398 443h1v1h-1zM403 443h1v1h-1zM304 445h3v1h-3zM305 446h1v1h-1zM448 446h1v1h-1zM453 446h1v1h-1zM449 447h1v1h-1zM452 447h1v1h-1zM450 448h2v1h-2zM450 449h2v1h-2zM449 450h1v1h-1zM452 450h1v1h-1zM448 451h1v1h-1zM453 451h1v1h-1zM397 458h2v1h-2zM397 459h1v1h-1zM400 459h2v1h-2zM400 460h1v1h-1zM378 464h2v1h-2zM395 464h1v1h-1zM400 464h1v1h-1zM378 465h1v1h-1zM396 465h1v1h-1zM399 465h1v1h-1zM397 466h2v1h-2zM309 467h1v1h-1zM397 467h2v1h-2zM309 468h2v1h-2zM315 468h1v1h-1zM320 468h1v1h-1zM396 468h1v1h-1zM399 468h1v1h-1zM309 469h1v1h-1zM316 469h1v1h-1zM319 469h1v1h-1zM395 469h1v1h-1zM400 469h1v1h-1zM317 470h2v1h-2zM393 470h1v1h-1zM398 470h1v1h-1zM317 471h2v1h-2zM394 471h1v1h-1zM397 471h1v1h-1zM316 472h1v1h-1zM319 472h1v1h-1zM395 472h2v1h-2zM315 473h1v1h-1zM320 473h1v1h-1zM395 473h2v1h-2zM394 474h1v1h-1zM397 474h1v1h-1zM393 475h1v1h-1zM398 475h1v1h-1zM425 480h1v1h-1zM430 480h1v1h-1zM426 481h1v1h-1zM429 481h1v1h-1zM427 482h2v1h-2zM397 483h1v1h-1zM427 483h2v1h-2zM396 484h2v1h-2zM426 484h1v1h-1zM429 484h1v1h-1zM347 485h2v1h-2zM397 485h1v1h-1zM425 485h1v1h-1zM430 485h1v1h-1zM347 486h1v1h-1zM389 498h1v1h-1zM388 499h3v1h-3zM279 500h1v1h-1zM389 500h1v1h-1zM278 501h3v1h-3zM345 510h2v1h-2zM345 511h1v1h-1z"/>
<path fill="#00ff10" d="M417 97h1v1h-1zM422 97h1v1h-1zM418 98h1v1h-1zM421 98h1v1h-1zM419 99h2v1h-2zM419 100h2v1h-2zM418 101h1v1h-1zM421 101h1v1h-1zM417 102h1v1h-1zM422 102h1v1h-1zM537 109h1v1h-1zM542 109h1v1h-1zM538 110h1v1h-1zM541 110h1v1h-1zM539 111h2v1h-2zM539 112h2v1h-2zM538 113h1v1h-1zM541 113h1v1h-1zM537 114h1v1h-1zM542 114h1v1h-1zM435 137h1v1h-1zM440 137h1v1h-1zM436 138h1v1h-1zM439 138h1v1h-1zM381 139h1v1h-1zM386 139h1v1h-1zM437 139h2v1h-2zM382 140h1v1h-1zM385 140h1v1h-1zM437 140h2v1h-2zM383 141h2v1h-2zM436 141h1v1h-1zM439 141h1v1h-1zM494 141h1v1h-1zM383 142h2v1h-2zM435 142h1v1h-1zM440 142h1v1h-1zM494 142h2v1h-2zM382 143h1v1h-1zM385 143h1v1h-1zM428 143h2v1h-2zM494 143h1v1h-1zM381 144h1v1h-1zM386 144h1v1h-1zM428 144h1v1h-1zM458 154h1v1h-1zM457 155h3v1h-3zM458 156h1v1h-1zM541 172h1v1h-1zM319 173h1v1h-1zM541 173h2v1h-2zM319 174h2v1h-2zM541 174h1v1h-1zM319 175h1v1h-1zM491 193h1v1h-1zM490 194h3v1h-3zM491 195h1v1h-1zM329 209h2v1h-2zM329 210h1v1h-1zM388 214h1v1h-1zM388 215h2v1h-2zM388 216h1v1h-1zM357 220h1v1h-1zM357 221h2v1h-2zM357 222h1v1h-1zM306 224h2v1h-2zM306 225h1v1h-1zM341 226h1v1h-1zM340 227h3v1h-3zM386 227h1v1h-1zM341 228h1v1h-1zM385 228h3v1h-3zM386 229h1v1h-1zM306 230h2v1h-2zM306 231h1v1h-1zM341 232h1v1h-1zM340 233h3v1h-3zM370 233h1v1h-1zM341 234h1v1h-1zM369 234h2v1h-2zM306 235h1v1h-1zM311 235h1v1h-1zM370 235h1v1h-1zM307 236h1v1h-1zM310 236h1v1h-1zM543 236h1v1h-1zM548 236h1v1h-1zM308 237h2v1h-2zM323 237h1v1h-1zM353 237h2v1h-2zM544 237h1v1h-1zM547 237h1v1h-1zM308 238h2v1h-2zM323 238h2v1h-2zM353 238h1v1h-1zM363 238h1v1h-1zM368 238h1v1h-1zM545 238h2v1h-2zM307 239h1v1h-1zM310 239h1v1h-1zM323 239h1v1h-1zM364 239h1v1h-1zM367 239h1v1h-1zM545 239h2v1h-2zM306 240h1v1h-1zM311 240h1v1h-1zM316 240h1v1h-1zM365 240h2v1h-2zM544 240h1v1h-1zM547 240h1v1h-1zM266 241h1v1h-1zM315 241h3v1h-3zM365 241h2v1h-2zM543 241h1v1h-1zM548 241h1v1h-1zM265 242h2v1h-2zM316 242h1v1h-1zM362 242h1v1h-1zM364 242h1v1h-1zM367 242h1v1h-1zM266 243h1v1h-1zM361 243h3v1h-3zM368 243h1v1h-1zM380 243h1v1h-1zM391 243h1v1h-1zM362 244h1v1h-1zM379 244h3v1h-3zM390 244h3v1h-3zM380 245h1v1h-1zM391 245h1v1h-1zM300 248h1v1h-1zM299 249h3v1h-3zM300 250h1v1h-1zM345 250h2v1h-2zM373 250h1v1h-1zM413 250h1v1h-1zM339 251h1v1h-1zM345 251h1v1h-1zM351 251h1v1h-1zM372 251h2v1h-2zM412 251h3v1h-3zM338 252h3v1h-3zM350 252h3v1h-3zM373 252h1v1h-1zM413 252h1v1h-1zM321 253h1v1h-1zM339 253h1v1h-1zM351 253h2v1h-2zM320 254h3v1h-3zM351 254h1v1h-1zM369 254h2v1h-2zM237 255h1v1h-1zM321 255h1v1h-1zM369 255h1v1h-1zM386 255h1v1h-1zM404 255h2v1h-2zM236 256h3v1h-3zM386 256h2v1h-2zM404 256h1v1h-1zM237 257h1v1h-1zM386 257h1v1h-1zM344 258h1v1h-1zM349 258h1v1h-1zM345 259h1v1h-1zM348 259h1v1h-1zM338 260h1v1h-1zM346 260h2v1h-2zM408 260h2v1h-2zM337 261h3v1h-3zM346 261h2v1h-2zM367 261h3v1h-3zM408 261h1v1h-1zM345 262h1v1h-1zM348 262h1v1h-1zM368 262h1v1h-1zM415 262h1v1h-1zM344 263h1v1h-1zM349 263h1v1h-1zM414 263h3v1h-3zM232 264h1v1h-1zM281 264h1v1h-1zM374 264h1v1h-1zM415 264h1v1h-1zM232 265h2v1h-2zM280 265h2v1h-2zM373 265h3v1h-3zM230 266h1v1h-1zM232 266h1v1h-1zM248 266h1v1h-1zM281 266h1v1h-1zM350 266h3v1h-3zM374 266h1v1h-1zM230 267h2v1h-2zM247 267h3v1h-3zM351 267h1v1h-1zM230 268h1v1h-1zM359 269h3v1h-3zM360 270h1v1h-1zM423 270h1v1h-1zM428 270h1v1h-1zM424 271h1v1h-1zM427 271h1v1h-1zM425 272h2v1h-2zM425 273h2v1h-2zM334 274h1v1h-1zM424 274h1v1h-1zM427 274h1v1h-1zM332 275h3v1h-3zM370 275h1v1h-1zM403 275h1v1h-1zM423 275h1v1h-1zM428 275h1v1h-1zM332 276h1v1h-1zM334 276h1v1h-1zM348 276h1v1h-1zM362 276h1v1h-1zM369 276h3v1h-3zM402 276h3v1h-3zM414 276h2v1h-2zM420 276h1v1h-1zM348 277h2v1h-2zM356 277h1v1h-1zM361 277h3v1h-3zM403 277h1v1h-1zM414 277h1v1h-1zM419 277h3v1h-3zM433 277h1v1h-1zM348 278h1v1h-1zM357 278h1v1h-1zM360 278h1v1h-1zM371 278h2v1h-2zM420 278h1v1h-1zM432 278h3v1h-3zM358 279h2v1h-2zM371 279h1v1h-1zM433 279h1v1h-1zM248 280h1v1h-1zM358 280h2v1h-2zM476 280h1v1h-1zM247 281h3v1h-3zM334 281h1v1h-1zM357 281h1v1h-1zM360 281h1v1h-1zM475 281h2v1h-2zM334 282h2v1h-2zM346 282h1v1h-1zM356 282h1v1h-1zM361 282h1v1h-1zM476 282h1v1h-1zM334 283h1v1h-1zM342 283h1v1h-1zM345 283h3v1h-3zM340 284h4v1h-4zM346 284h1v1h-1zM354 284h1v1h-1zM370 284h1v1h-1zM437 284h1v1h-1zM339 285h3v1h-3zM353 285h2v1h-2zM369 285h3v1h-3zM437 285h2v1h-2zM354 286h1v1h-1zM370 286h1v1h-1zM437 286h1v1h-1zM462 286h1v1h-1zM467 286h1v1h-1zM463 287h1v1h-1zM466 287h1v1h-1zM464 288h2v1h-2zM348 289h1v1h-1zM464 289h2v1h-2zM534 289h1v1h-1zM347 290h3v1h-3zM460 290h1v1h-1zM463 290h1v1h-1zM466 290h1v1h-1zM533 290h3v1h-3zM348 291h1v1h-1zM459 291h2v1h-2zM462 291h1v1h-1zM467 291h1v1h-1zM534 291h1v1h-1zM460 292h1v1h-1zM284 293h1v1h-1zM349 293h1v1h-1zM355 293h1v1h-1zM439 293h1v1h-1zM283 294h3v1h-3zM348 294h3v1h-3zM354 294h3v1h-3zM360 294h1v1h-1zM431 294h1v1h-1zM439 294h2v1h-2zM284 295h1v1h-1zM343 295h1v1h-1zM355 295h1v1h-1zM359 295h2v1h-2zM430 295h3v1h-3zM439 295h1v1h-1zM335 296h1v1h-1zM342 296h3v1h-3zM360 296h1v1h-1zM431 296h1v1h-1zM334 297h3v1h-3zM343 297h1v1h-1zM349 297h1v1h-1zM362 297h1v1h-1zM335 298h1v1h-1zM348 298h3v1h-3zM361 298h3v1h-3zM423 298h1v1h-1zM234 299h1v1h-1zM349 299h1v1h-1zM422 299h3v1h-3zM234 300h2v1h-2zM423 300h1v1h-1zM234 301h1v1h-1zM340 301h1v1h-1zM349 301h1v1h-1zM357 301h1v1h-1zM359 301h1v1h-1zM339 302h4v1h-4zM348 302h3v1h-3zM356 302h5v1h-5zM340 303h2v1h-2zM347 303h1v1h-1zM349 303h1v1h-1zM357 303h1v1h-1zM359 303h1v1h-1zM346 304h3v1h-3zM297 305h1v1h-1zM336 305h1v1h-1zM338 305h1v1h-1zM343 305h1v1h-1zM347 305h1v1h-1zM297 306h2v1h-2zM335 306h3v1h-3zM339 306h1v1h-1zM342 306h1v1h-1zM443 306h1v1h-1zM297 307h1v1h-1zM340 307h2v1h-2zM442 307h3v1h-3zM340 308h2v1h-2zM366 308h1v1h-1zM371 308h1v1h-1zM443 308h1v1h-1zM339 309h1v1h-1zM342 309h1v1h-1zM353 309h1v1h-1zM367 309h1v1h-1zM370 309h1v1h-1zM338 310h1v1h-1zM343 310h1v1h-1zM352 310h3v1h-3zM368 310h2v1h-2zM434 310h1v1h-1zM368 311h2v1h-2zM434 311h2v1h-2zM339 312h2v1h-2zM342 312h1v1h-1zM361 312h1v1h-1zM367 312h1v1h-1zM370 312h1v1h-1zM434 312h1v1h-1zM339 313h1v1h-1zM341 313h3v1h-3zM360 313h3v1h-3zM366 313h1v1h-1zM371 313h1v1h-1zM342 314h1v1h-1zM361 314h1v1h-1zM325 315h1v1h-1zM327 315h1v1h-1zM330 315h1v1h-1zM324 316h8v1h-8zM325 317h1v1h-1zM327 317h1v1h-1zM330 317h1v1h-1zM357 320h3v1h-3zM358 321h1v1h-1zM444 321h1v1h-1zM318 322h1v1h-1zM443 322h3v1h-3zM317 323h3v1h-3zM444 323h1v1h-1zM318 324h1v1h-1zM365 325h1v1h-1zM333 326h1v1h-1zM352 326h1v1h-1zM357 326h1v1h-1zM364 326h3v1h-3zM332 327h2v1h-2zM353 327h1v1h-1zM356 327h1v1h-1zM362 327h1v1h-1zM365 327h1v1h-1zM276 328h1v1h-1zM333 328h1v1h-1zM354 328h2v1h-2zM360 328h4v1h-4zM448 328h1v1h-1zM275 329h3v1h-3zM339 329h3v1h-3zM351 329h1v1h-1zM354 329h3v1h-3zM359 329h1v1h-1zM362 329h1v1h-1zM447 329h3v1h-3zM340 330h1v1h-1zM352 330h2v1h-2zM355 330h4v1h-4zM352 331h3v1h-3zM357 331h2v1h-2zM295 332h1v1h-1zM353 332h2v1h-2zM356 332h1v1h-1zM359 332h1v1h-1zM361 332h1v1h-1zM366 332h1v1h-1zM295 333h2v1h-2zM352 333h1v1h-1zM355 333h1v1h-1zM360 333h1v1h-1zM362 333h1v1h-1zM365 333h1v1h-1zM295 334h1v1h-1zM351 334h1v1h-1zM353 334h1v1h-1zM356 334h1v1h-1zM363 334h2v1h-2zM341 335h1v1h-1zM346 335h1v1h-1zM352 335h3v1h-3zM363 335h2v1h-2zM335 336h1v1h-1zM342 336h1v1h-1zM345 336h1v1h-1zM353 336h1v1h-1zM362 336h1v1h-1zM365 336h1v1h-1zM334 337h2v1h-2zM343 337h2v1h-2zM361 337h1v1h-1zM366 337h1v1h-1zM335 338h1v1h-1zM343 338h2v1h-2zM357 338h1v1h-1zM292 339h1v1h-1zM342 339h2v1h-2zM345 339h1v1h-1zM356 339h3v1h-3zM291 340h2v1h-2zM341 340h4v1h-4zM346 340h1v1h-1zM357 340h1v1h-1zM292 341h1v1h-1zM362 341h1v1h-1zM361 342h3v1h-3zM362 343h1v1h-1zM344 344h3v1h-3zM348 344h1v1h-1zM358 344h1v1h-1zM473 344h1v1h-1zM478 344h1v1h-1zM345 345h1v1h-1zM347 345h3v1h-3zM357 345h2v1h-2zM474 345h1v1h-1zM477 345h1v1h-1zM310 346h1v1h-1zM315 346h1v1h-1zM348 346h1v1h-1zM353 346h1v1h-1zM358 346h1v1h-1zM475 346h2v1h-2zM311 347h1v1h-1zM314 347h1v1h-1zM352 347h3v1h-3zM475 347h2v1h-2zM312 348h2v1h-2zM353 348h1v1h-1zM358 348h1v1h-1zM363 348h1v1h-1zM474 348h1v1h-1zM477 348h1v1h-1zM312 349h2v1h-2zM359 349h1v1h-1zM362 349h1v1h-1zM473 349h1v1h-1zM478 349h1v1h-1zM311 350h1v1h-1zM314 350h1v1h-1zM328 350h1v1h-1zM360 350h2v1h-2zM310 351h1v1h-1zM315 351h1v1h-1zM327 351h3v1h-3zM360 351h2v1h-2zM368 351h2v1h-2zM323 352h1v1h-1zM328 352h1v1h-1zM359 352h1v1h-1zM362 352h1v1h-1zM368 352h1v1h-1zM315 353h1v1h-1zM322 353h3v1h-3zM358 353h1v1h-1zM363 353h1v1h-1zM314 354h3v1h-3zM323 354h1v1h-1zM315 355h1v1h-1zM328 355h1v1h-1zM327 356h3v1h-3zM348 356h1v1h-1zM328 357h1v1h-1zM344 357h3v1h-3zM348 357h2v1h-2zM353 357h1v1h-1zM358 357h1v1h-1zM345 358h1v1h-1zM348 358h1v1h-1zM354 358h1v1h-1zM357 358h1v1h-1zM355 359h2v1h-2zM319 360h1v1h-1zM342 360h1v1h-1zM355 360h2v1h-2zM318 361h3v1h-3zM341 361h3v1h-3zM354 361h1v1h-1zM357 361h1v1h-1zM319 362h1v1h-1zM342 362h1v1h-1zM353 362h1v1h-1zM358 362h1v1h-1zM342 363h1v1h-1zM341 364h2v1h-2zM342 365h1v1h-1zM347 366h3v1h-3zM365 366h2v1h-2zM348 367h1v1h-1zM365 367h1v1h-1zM369 367h1v1h-1zM374 367h1v1h-1zM370 368h1v1h-1zM373 368h1v1h-1zM363 369h3v1h-3zM371 369h2v1h-2zM325 370h3v1h-3zM364 370h1v1h-1zM371 370h2v1h-2zM326 371h1v1h-1zM370 371h1v1h-1zM373 371h1v1h-1zM369 372h1v1h-1zM374 372h1v1h-1zM547 375h1v1h-1zM547 376h2v1h-2zM547 377h1v1h-1zM334 380h1v1h-1zM350 380h1v1h-1zM363 380h3v1h-3zM333 381h3v1h-3zM339 381h3v1h-3zM349 381h3v1h-3zM364 381h1v1h-1zM334 382h1v1h-1zM337 382h1v1h-1zM340 382h1v1h-1zM350 382h1v1h-1zM364 382h1v1h-1zM459 382h1v1h-1zM464 382h1v1h-1zM336 383h3v1h-3zM363 383h3v1h-3zM369 383h1v1h-1zM425 383h1v1h-1zM430 383h1v1h-1zM460 383h1v1h-1zM463 383h1v1h-1zM337 384h1v1h-1zM364 384h1v1h-1zM368 384h3v1h-3zM426 384h1v1h-1zM429 384h1v1h-1zM461 384h2v1h-2zM484 384h1v1h-1zM489 384h1v1h-1zM352 385h1v1h-1zM369 385h1v1h-1zM427 385h2v1h-2zM461 385h2v1h-2zM485 385h1v1h-1zM488 385h1v1h-1zM352 386h2v1h-2zM427 386h2v1h-2zM460 386h1v1h-1zM463 386h1v1h-1zM486 386h2v1h-2zM339 387h1v1h-1zM352 387h1v1h-1zM354 387h1v1h-1zM368 387h1v1h-1zM426 387h1v1h-1zM429 387h1v1h-1zM440 387h1v1h-1zM445 387h1v1h-1zM459 387h1v1h-1zM464 387h1v1h-1zM486 387h2v1h-2zM338 388h3v1h-3zM353 388h3v1h-3zM367 388h2v1h-2zM425 388h1v1h-1zM430 388h1v1h-1zM441 388h1v1h-1zM444 388h1v1h-1zM485 388h1v1h-1zM488 388h1v1h-1zM339 389h1v1h-1zM354 389h1v1h-1zM368 389h1v1h-1zM411 389h1v1h-1zM416 389h1v1h-1zM442 389h2v1h-2zM484 389h1v1h-1zM489 389h1v1h-1zM295 390h1v1h-1zM412 390h1v1h-1zM415 390h1v1h-1zM442 390h2v1h-2zM294 391h3v1h-3zM375 391h1v1h-1zM413 391h2v1h-2zM441 391h1v1h-1zM444 391h1v1h-1zM374 392h3v1h-3zM413 392h2v1h-2zM440 392h1v1h-1zM445 392h1v1h-1zM375 393h1v1h-1zM412 393h1v1h-1zM415 393h1v1h-1zM394 394h1v1h-1zM411 394h1v1h-1zM416 394h1v1h-1zM432 394h1v1h-1zM437 394h1v1h-1zM393 395h3v1h-3zM433 395h1v1h-1zM436 395h1v1h-1zM312 396h1v1h-1zM394 396h1v1h-1zM434 396h2v1h-2zM311 397h3v1h-3zM411 397h1v1h-1zM413 397h1v1h-1zM418 397h1v1h-1zM434 397h2v1h-2zM312 398h1v1h-1zM361 398h1v1h-1zM410 398h3v1h-3zM414 398h1v1h-1zM417 398h1v1h-1zM433 398h1v1h-1zM436 398h1v1h-1zM290 399h2v1h-2zM321 399h3v1h-3zM330 399h1v1h-1zM361 399h2v1h-2zM411 399h1v1h-1zM415 399h2v1h-2zM425 399h1v1h-1zM430 399h1v1h-1zM432 399h1v1h-1zM437 399h1v1h-1zM290 400h1v1h-1zM322 400h1v1h-1zM329 400h2v1h-2zM361 400h1v1h-1zM415 400h2v1h-2zM426 400h1v1h-1zM429 400h1v1h-1zM330 401h1v1h-1zM343 401h1v1h-1zM414 401h1v1h-1zM417 401h1v1h-1zM427 401h2v1h-2zM342 402h3v1h-3zM375 402h1v1h-1zM394 402h1v1h-1zM408 402h1v1h-1zM413 402h1v1h-1zM418 402h1v1h-1zM427 402h2v1h-2zM343 403h1v1h-1zM374 403h3v1h-3zM393 403h3v1h-3zM407 403h3v1h-3zM426 403h1v1h-1zM429 403h1v1h-1zM433 403h3v1h-3zM442 403h1v1h-1zM447 403h1v1h-1zM449 403h1v1h-1zM454 403h1v1h-1zM369 404h1v1h-1zM375 404h1v1h-1zM394 404h1v1h-1zM398 404h1v1h-1zM408 404h1v1h-1zM425 404h1v1h-1zM430 404h1v1h-1zM434 404h1v1h-1zM443 404h1v1h-1zM446 404h1v1h-1zM450 404h1v1h-1zM453 404h1v1h-1zM368 405h3v1h-3zM397 405h3v1h-3zM444 405h2v1h-2zM451 405h2v1h-2zM398 406h1v1h-1zM444 406h2v1h-2zM451 406h2v1h-2zM443 407h1v1h-1zM446 407h1v1h-1zM450 407h1v1h-1zM453 407h1v1h-1zM380 408h1v1h-1zM402 408h1v1h-1zM442 408h1v1h-1zM447 408h1v1h-1zM449 408h1v1h-1zM454 408h1v1h-1zM466 408h3v1h-3zM292 409h1v1h-1zM334 409h1v1h-1zM379 409h3v1h-3zM401 409h3v1h-3zM467 409h1v1h-1zM291 410h3v1h-3zM334 410h2v1h-2zM340 410h1v1h-1zM380 410h1v1h-1zM402 410h1v1h-1zM411 410h1v1h-1zM446 410h1v1h-1zM451 410h1v1h-1zM334 411h1v1h-1zM339 411h3v1h-3zM410 411h3v1h-3zM447 411h1v1h-1zM450 411h1v1h-1zM356 412h1v1h-1zM406 412h1v1h-1zM411 412h1v1h-1zM448 412h2v1h-2zM355 413h2v1h-2zM398 413h1v1h-1zM407 413h1v1h-1zM410 413h1v1h-1zM448 413h2v1h-2zM356 414h1v1h-1zM397 414h3v1h-3zM408 414h2v1h-2zM447 414h1v1h-1zM450 414h1v1h-1zM398 415h1v1h-1zM408 415h2v1h-2zM446 415h1v1h-1zM451 415h1v1h-1zM407 416h1v1h-1zM410 416h1v1h-1zM373 417h1v1h-1zM378 417h1v1h-1zM382 417h2v1h-2zM406 417h1v1h-1zM411 417h1v1h-1zM374 418h1v1h-1zM377 418h1v1h-1zM382 418h1v1h-1zM337 419h2v1h-2zM375 419h2v1h-2zM425 419h3v1h-3zM337 420h1v1h-1zM375 420h2v1h-2zM426 420h1v1h-1zM352 421h2v1h-2zM374 421h1v1h-1zM377 421h1v1h-1zM387 421h1v1h-1zM448 421h1v1h-1zM453 421h1v1h-1zM352 422h1v1h-1zM373 422h1v1h-1zM378 422h1v1h-1zM386 422h3v1h-3zM449 422h1v1h-1zM452 422h1v1h-1zM387 423h1v1h-1zM443 423h1v1h-1zM450 423h2v1h-2zM369 424h3v1h-3zM381 424h2v1h-2zM442 424h3v1h-3zM450 424h2v1h-2zM370 425h1v1h-1zM381 425h1v1h-1zM417 425h3v1h-3zM427 425h2v1h-2zM449 425h1v1h-1zM452 425h1v1h-1zM418 426h1v1h-1zM427 426h1v1h-1zM448 426h1v1h-1zM453 426h1v1h-1zM320 427h1v1h-1zM423 427h1v1h-1zM450 427h1v1h-1zM319 428h2v1h-2zM422 428h3v1h-3zM449 428h3v1h-3zM320 429h1v1h-1zM396 429h1v1h-1zM401 429h1v1h-1zM423 429h1v1h-1zM430 429h1v1h-1zM435 429h1v1h-1zM450 429h1v1h-1zM397 430h1v1h-1zM400 430h1v1h-1zM431 430h1v1h-1zM434 430h1v1h-1zM338 431h1v1h-1zM398 431h2v1h-2zM409 431h1v1h-1zM432 431h2v1h-2zM337 432h3v1h-3zM398 432h2v1h-2zM409 432h2v1h-2zM432 432h2v1h-2zM338 433h1v1h-1zM397 433h1v1h-1zM400 433h1v1h-1zM409 433h1v1h-1zM431 433h1v1h-1zM434 433h1v1h-1zM280 434h1v1h-1zM383 434h2v1h-2zM396 434h1v1h-1zM401 434h1v1h-1zM430 434h1v1h-1zM435 434h1v1h-1zM279 435h3v1h-3zM321 435h4v1h-4zM383 435h1v1h-1zM280 436h1v1h-1zM316 436h1v1h-1zM321 436h1v1h-1zM323 436h1v1h-1zM418 436h2v1h-2zM315 437h3v1h-3zM418 437h1v1h-1zM425 437h2v1h-2zM316 438h1v1h-1zM358 438h1v1h-1zM375 438h1v1h-1zM425 438h1v1h-1zM357 439h3v1h-3zM374 439h3v1h-3zM399 445h1v1h-1zM398 446h3v1h-3zM399 447h1v1h-1zM347 448h1v1h-1zM446 448h1v1h-1zM451 448h1v1h-1zM346 449h3v1h-3zM447 449h1v1h-1zM450 449h1v1h-1zM378 450h2v1h-2zM448 450h2v1h-2zM322 451h2v1h-2zM351 451h2v1h-2zM378 451h1v1h-1zM447 451h3v1h-3zM452 451h1v1h-1zM322 452h1v1h-1zM351 452h1v1h-1zM447 452h2v1h-2zM450 452h2v1h-2zM387 453h1v1h-1zM395 453h2v1h-2zM446 453h1v1h-1zM449 453h3v1h-3zM373 454h1v1h-1zM386 454h3v1h-3zM395 454h1v1h-1zM436 454h1v1h-1zM449 454h2v1h-2zM372 455h3v1h-3zM387 455h1v1h-1zM435 455h3v1h-3zM448 455h1v1h-1zM451 455h1v1h-1zM318 456h1v1h-1zM373 456h1v1h-1zM402 456h1v1h-1zM407 456h1v1h-1zM436 456h1v1h-1zM447 456h1v1h-1zM452 456h1v1h-1zM317 457h3v1h-3zM403 457h1v1h-1zM406 457h1v1h-1zM318 458h1v1h-1zM388 458h1v1h-1zM393 458h1v1h-1zM404 458h2v1h-2zM389 459h1v1h-1zM392 459h1v1h-1zM404 459h2v1h-2zM390 460h2v1h-2zM403 460h1v1h-1zM406 460h1v1h-1zM368 461h1v1h-1zM390 461h2v1h-2zM402 461h1v1h-1zM407 461h1v1h-1zM367 462h3v1h-3zM389 462h1v1h-1zM392 462h1v1h-1zM388 463h1v1h-1zM393 463h1v1h-1zM424 463h1v1h-1zM429 463h1v1h-1zM425 464h1v1h-1zM428 464h1v1h-1zM344 465h1v1h-1zM426 465h2v1h-2zM343 466h3v1h-3zM397 466h1v1h-1zM402 466h1v1h-1zM426 466h2v1h-2zM398 467h1v1h-1zM401 467h1v1h-1zM425 467h1v1h-1zM428 467h1v1h-1zM399 468h2v1h-2zM424 468h1v1h-1zM429 468h1v1h-1zM399 469h2v1h-2zM337 470h2v1h-2zM398 470h1v1h-1zM401 470h1v1h-1zM337 471h1v1h-1zM365 471h2v1h-2zM397 471h1v1h-1zM402 471h1v1h-1zM365 472h1v1h-1zM461 472h2v1h-2zM461 473h1v1h-1zM452 475h1v1h-1zM451 476h3v1h-3zM452 477h1v1h-1zM445 479h1v1h-1zM450 479h1v1h-1zM272 480h3v1h-3zM368 480h1v1h-1zM373 480h1v1h-1zM446 480h1v1h-1zM449 480h1v1h-1zM273 481h1v1h-1zM369 481h1v1h-1zM372 481h1v1h-1zM447 481h2v1h-2zM370 482h2v1h-2zM447 482h2v1h-2zM370 483h2v1h-2zM446 483h1v1h-1zM449 483h1v1h-1zM369 484h1v1h-1zM372 484h1v1h-1zM445 484h1v1h-1zM450 484h1v1h-1zM368 485h1v1h-1zM373 485h1v1h-1zM306 486h1v1h-1zM305 487h3v1h-3zM350 487h1v1h-1zM350 488h2v1h-2zM350 489h1v1h-1zM312 492h1v1h-1zM341 492h2v1h-2zM311 493h3v1h-3zM341 493h1v1h-1zM378 494h1v1h-1zM383 494h1v1h-1zM379 495h1v1h-1zM382 495h1v1h-1zM380 496h2v1h-2zM338 497h1v1h-1zM380 497h2v1h-2zM337 498h3v1h-3zM379 498h1v1h-1zM382 498h1v1h-1zM552 498h1v1h-1zM557 498h1v1h-1zM378 499h1v1h-1zM383 499h1v1h-1zM553 499h1v1h-1zM556 499h1v1h-1zM554 500h2v1h-2zM554 501h2v1h-2zM553 502h1v1h-1zM556 502h1v1h-1zM552 503h1v1h-1zM557 503h1v1h-1zM186 507h1v1h-1zM191 507h1v1h-1zM187 508h1v1h-1zM190 508h1v1h-1zM188 509h2v1h-2zM188 510h2v1h-2zM187 511h1v1h-1zM190 511h1v1h-1zM186 512h1v1h-1zM191 512h1v1h-1zM373 513h3v1h-3zM374 514h1v1h-1zM417 521h1v1h-1zM417 522h2v1h-2zM393 523h1v1h-1zM398 523h1v1h-1zM417 523h1v1h-1zM394 524h1v1h-1zM397 524h1v1h-1zM386 525h1v1h-1zM395 525h2v1h-2zM385 526h2v1h-2zM395 526h2v1h-2zM386 527h1v1h-1zM394 527h1v1h-1zM397 527h1v1h-1zM393 528h1v1h-1zM398 528h1v1h-1z"/>
<path fill="#00f0a0" d="M551 83h1v1h-1zM550 84h3v1h-3zM551 85h1v1h-1zM536 173h2v1h-2zM536 174h1v1h-1zM479 181h2v1h-2zM394 182h1v1h-1zM479 182h1v1h-1zM393 183h3v1h-3zM394 184h1v1h-1zM640 206h1v1h-1zM645 206h1v1h-1zM641 207h1v1h-1zM644 207h1v1h-1zM642 208h2v1h-2zM519 209h3v1h-3zM642 209h2v1h-2zM520 210h1v1h-1zM641 210h1v1h-1zM644 210h1v1h-1zM640 211h1v1h-1zM645 211h1v1h-1zM188 212h1v1h-1zM193 212h1v1h-1zM189 213h1v1h-1zM192 213h1v1h-1zM190 214h2v1h-2zM190 215h2v1h-2zM189 216h1v1h-1zM192 216h1v1h-1zM188 217h1v1h-1zM193 217h1v1h-1zM469 217h1v1h-1zM469 218h2v1h-2zM469 219h1v1h-1zM348 225h1v1h-1zM347 226h3v1h-3zM348 227h1v1h-1zM306 228h3v1h-3zM307 229h1v1h-1zM336 238h1v1h-1zM335 239h3v1h-3zM258 240h1v1h-1zM257 241h3v1h-3zM510 241h1v1h-1zM258 242h1v1h-1zM509 242h3v1h-3zM510 243h1v1h-1zM324 248h3v1h-3zM325 249h1v1h-1zM364 251h2v1h-2zM364 252h1v1h-1zM402 254h1v1h-1zM453 254h1v1h-1zM302 255h1v1h-1zM401 255h3v1h-3zM452 255h3v1h-3zM301 256h3v1h-3zM402 256h1v1h-1zM275 257h1v1h-1zM302 257h1v1h-1zM329 257h2v1h-2zM274 258h3v1h-3zM329 258h1v1h-1zM485 262h3v1h-3zM368 263h2v1h-2zM433 263h2v1h-2zM474 263h1v1h-1zM486 263h1v1h-1zM368 264h1v1h-1zM433 264h1v1h-1zM474 264h2v1h-2zM275 265h1v1h-1zM474 265h1v1h-1zM274 266h3v1h-3zM380 266h2v1h-2zM275 267h1v1h-1zM380 267h1v1h-1zM333 272h2v1h-2zM360 272h2v1h-2zM333 273h1v1h-1zM360 273h1v1h-1zM313 275h1v1h-1zM318 275h1v1h-1zM314 276h1v1h-1zM317 276h1v1h-1zM358 276h2v1h-2zM315 277h2v1h-2zM354 277h1v1h-1zM358 277h1v1h-1zM309 278h2v1h-2zM315 278h2v1h-2zM353 278h2v1h-2zM309 279h1v1h-1zM314 279h1v1h-1zM317 279h1v1h-1zM354 279h1v1h-1zM440 279h3v1h-3zM210 280h1v1h-1zM215 280h1v1h-1zM313 280h1v1h-1zM318 280h1v1h-1zM436 280h2v1h-2zM440 280h4v1h-4zM211 281h1v1h-1zM214 281h1v1h-1zM436 281h1v1h-1zM442 281h1v1h-1zM212 282h2v1h-2zM366 282h2v1h-2zM460 282h1v1h-1zM212 283h2v1h-2zM366 283h1v1h-1zM459 283h3v1h-3zM211 284h1v1h-1zM214 284h1v1h-1zM210 285h1v1h-1zM215 285h1v1h-1zM352 289h2v1h-2zM352 290h1v1h-1zM436 292h2v1h-2zM436 293h1v1h-1zM362 294h2v1h-2zM362 295h1v1h-1zM304 299h1v1h-1zM303 300h3v1h-3zM304 301h1v1h-1zM426 304h1v1h-1zM425 305h3v1h-3zM341 306h3v1h-3zM430 306h2v1h-2zM342 307h1v1h-1zM430 307h1v1h-1zM343 311h1v1h-1zM430 311h2v1h-2zM343 312h2v1h-2zM430 312h1v1h-1zM343 313h1v1h-1zM290 320h1v1h-1zM289 321h3v1h-3zM290 322h1v1h-1zM195 324h3v1h-3zM317 324h1v1h-1zM350 324h1v1h-1zM196 325h1v1h-1zM316 325h3v1h-3zM349 325h3v1h-3zM317 326h1v1h-1zM350 326h1v1h-1zM439 329h3v1h-3zM440 330h1v1h-1zM323 331h3v1h-3zM324 332h1v1h-1zM482 334h2v1h-2zM482 335h1v1h-1zM306 340h1v1h-1zM305 341h3v1h-3zM333 341h2v1h-2zM355 341h1v1h-1zM306 342h1v1h-1zM333 342h1v1h-1zM354 342h2v1h-2zM355 343h1v1h-1zM674 347h1v1h-1zM679 347h1v1h-1zM675 348h1v1h-1zM678 348h1v1h-1zM676 349h2v1h-2zM676 350h2v1h-2zM675 351h1v1h-1zM678 351h1v1h-1zM674 352h1v1h-1zM679 352h1v1h-1zM403 386h3v1h-3zM408 386h1v1h-1zM404 387h1v1h-1zM407 387h3v1h-3zM437 387h1v1h-1zM442 387h1v1h-1zM408 388h1v1h-1zM438 388h1v1h-1zM441 388h1v1h-1zM422 389h1v1h-1zM439 389h2v1h-2zM421 390h3v1h-3zM439 390h2v1h-2zM474 390h1v1h-1zM479 390h1v1h-1zM406 391h3v1h-3zM422 391h1v1h-1zM438 391h1v1h-1zM441 391h1v1h-1zM475 391h1v1h-1zM478 391h1v1h-1zM407 392h1v1h-1zM437 392h1v1h-1zM439 392h1v1h-1zM442 392h1v1h-1zM444 392h1v1h-1zM476 392h2v1h-2zM440 393h1v1h-1zM443 393h1v1h-1zM476 393h2v1h-2zM441 394h2v1h-2zM475 394h1v1h-1zM478 394h1v1h-1zM441 395h2v1h-2zM446 395h1v1h-1zM474 395h1v1h-1zM479 395h1v1h-1zM440 396h1v1h-1zM442 396h2v1h-2zM445 396h1v1h-1zM439 397h1v1h-1zM443 397h2v1h-2zM443 398h2v1h-2zM442 399h1v1h-1zM445 399h1v1h-1zM441 400h1v1h-1zM446 400h1v1h-1zM384 408h1v1h-1zM383 409h3v1h-3zM424 409h2v1h-2zM384 410h1v1h-1zM424 410h1v1h-1zM421 411h2v1h-2zM421 412h1v1h-1zM460 420h1v1h-1zM465 420h1v1h-1zM432 421h1v1h-1zM437 421h1v1h-1zM461 421h1v1h-1zM464 421h1v1h-1zM433 422h1v1h-1zM436 422h1v1h-1zM462 422h2v1h-2zM390 423h1v1h-1zM395 423h1v1h-1zM434 423h2v1h-2zM462 423h2v1h-2zM391 424h1v1h-1zM394 424h1v1h-1zM434 424h2v1h-2zM461 424h1v1h-1zM464 424h1v1h-1zM392 425h2v1h-2zM433 425h1v1h-1zM436 425h1v1h-1zM460 425h1v1h-1zM464 425h2v1h-2zM469 425h1v1h-1zM392 426h2v1h-2zM432 426h1v1h-1zM437 426h1v1h-1zM465 426h1v1h-1zM468 426h1v1h-1zM391 427h1v1h-1zM394 427h1v1h-1zM466 427h2v1h-2zM390 428h1v1h-1zM395 428h1v1h-1zM466 428h2v1h-2zM465 429h1v1h-1zM468 429h1v1h-1zM442 430h1v1h-1zM464 430h1v1h-1zM469 430h1v1h-1zM441 431h2v1h-2zM442 432h1v1h-1zM436 438h1v1h-1zM435 439h3v1h-3zM436 440h1v1h-1zM297 459h2v1h-2zM380 459h1v1h-1zM297 460h1v1h-1zM379 460h2v1h-2zM380 461h1v1h-1zM450 465h1v1h-1zM455 465h1v1h-1zM451 466h1v1h-1zM454 466h1v1h-1zM452 467h2v1h-2zM452 468h2v1h-2zM451 469h1v1h-1zM454 469h1v1h-1zM450 470h1v1h-1zM455 470h1v1h-1zM413 488h1v1h-1zM418 488h1v1h-1zM484 488h3v1h-3zM414 489h1v1h-1zM417 489h1v1h-1zM483 489h1v1h-1zM485 489h1v1h-1zM488 489h1v1h-1zM415 490h2v1h-2zM484 490h1v1h-1zM487 490h1v1h-1zM415 491h2v1h-2zM485 491h2v1h-2zM414 492h1v1h-1zM417 492h1v1h-1zM485 492h2v1h-2zM413 493h1v1h-1zM418 493h1v1h-1zM484 493h1v1h-1zM487 493h1v1h-1zM483 494h1v1h-1zM488 494h1v1h-1zM348 511h1v1h-1zM348 512h2v1h-2zM348 513h1v1h-1zM441 526h1v1h-1zM440 527h3v1h-3zM357 530h1v1h-1zM362 530h1v1h-1zM358 531h1v1h-1zM361 531h1v1h-1zM359 532h2v1h-2zM359 533h2v1h-2zM358 534h1v1h-1zM361 534h1v1h-1zM357 535h1v1h-1zM362 535h1v1h-1z"/>
<path fill="#ff0000" d="M384 135h1v1h-1zM389 135h1v1h-1zM385 136h1v1h-1zM388 136h1v1h-1zM417 136h1v1h-1zM422 136h1v1h-1zM386 137h2v1h-2zM418 137h1v1h-1zM421 137h1v1h-1zM386 138h2v1h-2zM419 138h2v1h-2zM385 139h1v1h-1zM388 139h1v1h-1zM419 139h2v1h-2zM384 140h1v1h-1zM389 140h1v1h-1zM418 140h1v1h-1zM421 140h1v1h-1zM417 141h1v1h-1zM422 141h1v1h-1zM266 187h1v1h-1zM271 187h1v1h-1zM267 188h1v1h-1zM270 188h1v1h-1zM268 189h2v1h-2zM268 190h2v1h-2zM267 191h1v1h-1zM270 191h1v1h-1zM266 192h1v1h-1zM271 192h1v1h-1zM247 202h1v1h-1zM252 202h1v1h-1zM248 203h1v1h-1zM251 203h1v1h-1zM249 204h2v1h-2zM249 205h2v1h-2zM248 206h1v1h-1zM251 206h1v1h-1zM247 207h1v1h-1zM252 207h1v1h-1zM418 237h1v1h-1zM423 237h1v1h-1zM419 238h1v1h-1zM422 238h1v1h-1zM420 239h2v1h-2zM420 240h2v1h-2zM419 241h1v1h-1zM422 241h1v1h-1zM418 242h1v1h-1zM423 242h1v1h-1zM390 248h1v1h-1zM122 249h1v1h-1zM389 249h2v1h-2zM121 250h2v1h-2zM390 250h1v1h-1zM122 251h1v1h-1zM359 254h1v1h-1zM364 254h1v1h-1zM425 254h1v1h-1zM360 255h1v1h-1zM363 255h1v1h-1zM424 255h3v1h-3zM361 256h2v1h-2zM425 256h1v1h-1zM361 257h2v1h-2zM360 258h1v1h-1zM363 258h1v1h-1zM359 259h1v1h-1zM364 259h1v1h-1zM278 276h1v1h-1zM278 277h2v1h-2zM278 278h1v1h-1zM392 280h1v1h-1zM397 280h1v1h-1zM393 281h1v1h-1zM396 281h1v1h-1zM394 282h2v1h-2zM394 283h2v1h-2zM393 284h1v1h-1zM396 284h1v1h-1zM311 285h2v1h-2zM392 285h1v1h-1zM397 285h1v1h-1zM311 286h1v1h-1zM337 286h1v1h-1zM342 286h1v1h-1zM338 287h1v1h-1zM341 287h1v1h-1zM339 288h2v1h-2zM339 289h2v1h-2zM338 290h1v1h-1zM341 290h1v1h-1zM337 291h1v1h-1zM342 291h1v1h-1zM361 291h2v1h-2zM361 292h1v1h-1zM314 296h1v1h-1zM313 297h3v1h-3zM356 302h1v1h-1zM361 302h1v1h-1zM357 303h1v1h-1zM360 303h1v1h-1zM358 304h2v1h-2zM351 305h1v1h-1zM356 305h1v1h-1zM358 305h2v1h-2zM352 306h1v1h-1zM355 306h1v1h-1zM357 306h1v1h-1zM360 306h1v1h-1zM353 307h2v1h-2zM356 307h1v1h-1zM361 307h1v1h-1zM353 308h2v1h-2zM352 309h1v1h-1zM355 309h1v1h-1zM351 310h1v1h-1zM356 310h1v1h-1zM341 311h2v1h-2zM341 312h1v1h-1zM360 312h1v1h-1zM365 312h1v1h-1zM361 313h1v1h-1zM364 313h1v1h-1zM362 314h2v1h-2zM362 315h2v1h-2zM361 316h1v1h-1zM364 316h1v1h-1zM360 317h1v1h-1zM365 317h1v1h-1zM305 318h1v1h-1zM310 318h1v1h-1zM340 318h1v1h-1zM345 318h1v1h-1zM350 318h3v1h-3zM355 318h1v1h-1zM306 319h1v1h-1zM309 319h1v1h-1zM341 319h1v1h-1zM344 319h1v1h-1zM351 319h1v1h-1zM354 319h1v1h-1zM307 320h2v1h-2zM342 320h2v1h-2zM352 320h2v1h-2zM307 321h2v1h-2zM342 321h2v1h-2zM352 321h2v1h-2zM306 322h1v1h-1zM309 322h1v1h-1zM341 322h1v1h-1zM344 322h1v1h-1zM351 322h1v1h-1zM354 322h1v1h-1zM305 323h1v1h-1zM310 323h1v1h-1zM340 323h1v1h-1zM345 323h1v1h-1zM350 323h1v1h-1zM355 323h1v1h-1zM310 324h2v1h-2zM310 325h1v1h-1zM497 326h1v1h-1zM497 327h2v1h-2zM295 328h1v1h-1zM497 328h1v1h-1zM294 329h3v1h-3zM295 330h1v1h-1zM259 333h1v1h-1zM259 334h2v1h-2zM259 335h1v1h-1zM325 335h1v1h-1zM324 336h2v1h-2zM331 336h1v1h-1zM325 337h1v1h-1zM330 337h3v1h-3zM337 337h2v1h-2zM337 338h1v1h-1zM353 344h3v1h-3zM354 345h1v1h-1zM322 346h2v1h-2zM322 347h1v1h-1zM297 348h1v1h-1zM296 349h3v1h-3zM326 349h1v1h-1zM297 350h1v1h-1zM325 350h2v1h-2zM291 351h2v1h-2zM297 351h1v1h-1zM326 351h1v1h-1zM329 351h1v1h-1zM291 352h1v1h-1zM296 352h3v1h-3zM328 352h3v1h-3zM368 352h1v1h-1zM373 352h1v1h-1zM297 353h1v1h-1zM317 353h1v1h-1zM329 353h1v1h-1zM369 353h1v1h-1zM372 353h1v1h-1zM316 354h3v1h-3zM321 354h1v1h-1zM370 354h2v1h-2zM317 355h1v1h-1zM321 355h2v1h-2zM337 355h1v1h-1zM370 355h2v1h-2zM309 356h2v1h-2zM321 356h1v1h-1zM336 356h3v1h-3zM369 356h1v1h-1zM372 356h1v1h-1zM309 357h1v1h-1zM368 357h1v1h-1zM373 357h1v1h-1zM315 358h1v1h-1zM299 359h1v1h-1zM301 359h1v1h-1zM314 359h3v1h-3zM299 360h4v1h-4zM315 360h1v1h-1zM322 360h2v1h-2zM299 361h1v1h-1zM301 361h1v1h-1zM322 361h1v1h-1zM349 361h2v1h-2zM349 362h1v1h-1zM332 363h1v1h-1zM339 363h2v1h-2zM360 363h2v1h-2zM470 363h2v1h-2zM307 364h2v1h-2zM313 364h1v1h-1zM331 364h3v1h-3zM336 364h1v1h-1zM339 364h1v1h-1zM354 364h1v1h-1zM360 364h1v1h-1zM470 364h1v1h-1zM307 365h1v1h-1zM312 365h3v1h-3zM332 365h1v1h-1zM335 365h3v1h-3zM354 365h2v1h-2zM313 366h1v1h-1zM336 366h1v1h-1zM354 366h1v1h-1zM312 367h3v1h-3zM325 367h1v1h-1zM313 368h1v1h-1zM324 368h2v1h-2zM325 369h1v1h-1zM331 369h1v1h-1zM335 369h1v1h-1zM330 370h3v1h-3zM334 370h4v1h-4zM296 371h1v1h-1zM331 371h1v1h-1zM335 371h4v1h-4zM295 372h3v1h-3zM337 372h1v1h-1zM296 373h1v1h-1zM262 374h1v1h-1zM261 375h3v1h-3zM315 376h1v1h-1zM314 377h3v1h-3zM325 385h1v1h-1zM324 386h3v1h-3zM325 387h1v1h-1zM356 387h1v1h-1zM413 387h1v1h-1zM355 388h2v1h-2zM412 388h3v1h-3zM356 389h1v1h-1zM306 401h1v1h-1zM311 401h1v1h-1zM307 402h1v1h-1zM310 402h1v1h-1zM379 402h1v1h-1zM308 403h2v1h-2zM378 403h3v1h-3zM308 404h2v1h-2zM379 404h1v1h-1zM307 405h1v1h-1zM310 405h1v1h-1zM306 406h1v1h-1zM311 406h1v1h-1zM397 406h1v1h-1zM396 407h3v1h-3zM397 408h1v1h-1zM321 410h1v1h-1zM320 411h3v1h-3zM394 411h1v1h-1zM393 412h3v1h-3zM207 417h1v1h-1zM212 417h1v1h-1zM208 418h1v1h-1zM211 418h1v1h-1zM209 419h2v1h-2zM209 420h2v1h-2zM308 420h1v1h-1zM208 421h1v1h-1zM211 421h1v1h-1zM307 421h3v1h-3zM313 421h1v1h-1zM464 421h2v1h-2zM207 422h1v1h-1zM212 422h1v1h-1zM308 422h1v1h-1zM312 422h3v1h-3zM464 422h1v1h-1zM295 423h2v1h-2zM313 423h1v1h-1zM295 424h1v1h-1zM132 425h1v1h-1zM137 425h1v1h-1zM133 426h1v1h-1zM136 426h1v1h-1zM134 427h2v1h-2zM134 428h2v1h-2zM133 429h1v1h-1zM136 429h1v1h-1zM132 430h1v1h-1zM137 430h1v1h-1zM468 430h2v1h-2zM229 431h1v1h-1zM233 431h2v1h-2zM238 431h1v1h-1zM385 431h1v1h-1zM456 431h2v1h-2zM468 431h1v1h-1zM230 432h1v1h-1zM233 432h2v1h-2zM237 432h1v1h-1zM384 432h3v1h-3zM456 432h1v1h-1zM231 433h2v1h-2zM235 433h2v1h-2zM385 433h1v1h-1zM231 434h2v1h-2zM235 434h2v1h-2zM230 435h1v1h-1zM233 435h2v1h-2zM237 435h1v1h-1zM443 435h1v1h-1zM468 435h1v1h-1zM229 436h1v1h-1zM233 436h2v1h-2zM238 436h1v1h-1zM442 436h3v1h-3zM467 436h3v1h-3zM280 437h2v1h-2zM443 437h1v1h-1zM451 437h1v1h-1zM468 437h1v1h-1zM280 438h1v1h-1zM445 438h2v1h-2zM450 438h2v1h-2zM480 438h1v1h-1zM144 439h1v1h-1zM311 439h1v1h-1zM445 439h1v1h-1zM448 439h1v1h-1zM451 439h1v1h-1zM479 439h3v1h-3zM484 439h1v1h-1zM143 440h3v1h-3zM311 440h2v1h-2zM447 440h3v1h-3zM480 440h1v1h-1zM483 440h3v1h-3zM311 441h1v1h-1zM323 441h1v1h-1zM369 441h1v1h-1zM374 441h1v1h-1zM484 441h1v1h-1zM322 442h3v1h-3zM370 442h1v1h-1zM373 442h1v1h-1zM472 442h1v1h-1zM323 443h1v1h-1zM371 443h2v1h-2zM447 443h2v1h-2zM464 443h1v1h-1zM472 443h2v1h-2zM371 444h2v1h-2zM447 444h1v1h-1zM464 444h2v1h-2zM472 444h1v1h-1zM224 445h1v1h-1zM310 445h2v1h-2zM370 445h1v1h-1zM373 445h1v1h-1zM464 445h1v1h-1zM223 446h3v1h-3zM310 446h1v1h-1zM342 446h1v1h-1zM369 446h1v1h-1zM374 446h1v1h-1zM224 447h1v1h-1zM316 447h1v1h-1zM321 447h1v1h-1zM341 447h3v1h-3zM317 448h1v1h-1zM320 448h1v1h-1zM318 449h2v1h-2zM475 449h1v1h-1zM318 450h2v1h-2zM474 450h3v1h-3zM317 451h1v1h-1zM320 451h1v1h-1zM454 451h2v1h-2zM475 451h1v1h-1zM484 451h1v1h-1zM266 452h1v1h-1zM271 452h1v1h-1zM316 452h1v1h-1zM321 452h1v1h-1zM454 452h1v1h-1zM483 452h3v1h-3zM267 453h1v1h-1zM270 453h1v1h-1zM268 454h2v1h-2zM316 454h2v1h-2zM343 454h1v1h-1zM268 455h2v1h-2zM316 455h1v1h-1zM342 455h3v1h-3zM447 455h1v1h-1zM267 456h1v1h-1zM270 456h1v1h-1zM446 456h3v1h-3zM266 457h1v1h-1zM271 457h1v1h-1zM447 457h1v1h-1zM387 458h1v1h-1zM386 459h3v1h-3zM387 460h1v1h-1zM450 462h2v1h-2zM440 463h1v1h-1zM450 463h1v1h-1zM439 464h3v1h-3zM330 465h2v1h-2zM330 466h1v1h-1zM330 470h2v1h-2zM299 471h3v1h-3zM330 471h1v1h-1zM300 472h1v1h-1zM408 483h1v1h-1zM407 484h3v1h-3zM408 485h1v1h-1zM595 533h3v1h-3zM596 534h1v1h-1z"/>
<path fill="#ffaa00" d="M461 200h1v1h-1zM460 201h2v1h-2zM461 202h1v1h-1zM383 284h2v1h-2zM383 285h1v1h-1zM298 293h1v1h-1zM297 294h3v1h-3zM298 295h1v1h-1zM359 326h2v1h-2zM359 327h1v1h-1zM299 332h3v1h-3zM355 332h1v1h-1zM360 332h1v1h-1zM300 333h1v1h-1zM356 333h1v1h-1zM359 333h1v1h-1zM328 334h3v1h-3zM357 334h2v1h-2zM329 335h1v1h-1zM357 335h2v1h-2zM356 336h1v1h-1zM359 336h1v1h-1zM334 337h1v1h-1zM355 337h1v1h-1zM360 337h1v1h-1zM333 338h3v1h-3zM328 340h1v1h-1zM327 341h3v1h-3zM328 342h1v1h-1zM288 343h1v1h-1zM293 343h1v1h-1zM289 344h1v1h-1zM292 344h1v1h-1zM290 345h2v1h-2zM290 346h2v1h-2zM289 347h1v1h-1zM292 347h1v1h-1zM288 348h1v1h-1zM293 348h1v1h-1zM343 348h3v1h-3zM344 349h1v1h-1zM294 354h1v1h-1zM294 355h2v1h-2zM294 356h1v1h-1zM375 359h1v1h-1zM380 359h1v1h-1zM376 360h1v1h-1zM379 360h1v1h-1zM377 361h2v1h-2zM377 362h2v1h-2zM376 363h1v1h-1zM379 363h1v1h-1zM274 364h1v1h-1zM375 364h1v1h-1zM380 364h1v1h-1zM273 365h3v1h-3zM339 365h1v1h-1zM274 366h1v1h-1zM338 366h3v1h-3zM339 367h1v1h-1zM356 371h1v1h-1zM361 371h1v1h-1zM357 372h1v1h-1zM360 372h1v1h-1zM358 373h2v1h-2zM358 374h2v1h-2zM357 375h1v1h-1zM360 375h1v1h-1zM356 376h1v1h-1zM361 376h1v1h-1zM325 380h2v1h-2zM325 381h1v1h-1zM417 382h2v1h-2zM417 383h1v1h-1zM288 390h1v1h-1zM287 391h3v1h-3zM288 392h1v1h-1zM314 394h1v1h-1zM248 395h1v1h-1zM313 395h3v1h-3zM247 396h3v1h-3zM248 397h1v1h-1zM349 399h3v1h-3zM350 400h1v1h-1zM366 401h1v1h-1zM365 402h3v1h-3zM366 403h1v1h-1zM431 403h2v1h-2zM431 404h1v1h-1zM299 408h1v1h-1zM301 408h1v1h-1zM298 409h5v1h-5zM299 410h1v1h-1zM301 410h1v1h-1zM346 413h1v1h-1zM325 414h3v1h-3zM345 414h3v1h-3zM352 414h3v1h-3zM416 414h1v1h-1zM326 415h1v1h-1zM339 415h3v1h-3zM353 415h1v1h-1zM415 415h3v1h-3zM340 416h1v1h-1zM340 418h1v1h-1zM345 418h1v1h-1zM341 419h1v1h-1zM344 419h1v1h-1zM342 420h2v1h-2zM342 421h2v1h-2zM341 422h1v1h-1zM344 422h1v1h-1zM340 423h1v1h-1zM345 423h1v1h-1zM347 423h1v1h-1zM346 424h3v1h-3zM347 425h1v1h-1zM290 426h1v1h-1zM289 427h3v1h-3zM361 428h1v1h-1zM360 429h3v1h-3zM325 434h1v1h-1zM330 434h1v1h-1zM326 435h1v1h-1zM329 435h1v1h-1zM327 436h2v1h-2zM327 437h2v1h-2zM326 438h1v1h-1zM329 438h1v1h-1zM325 439h1v1h-1zM330 439h1v1h-1zM399 439h2v1h-2zM277 440h1v1h-1zM399 440h1v1h-1zM276 441h2v1h-2zM277 442h1v1h-1zM657 442h1v1h-1zM662 442h1v1h-1zM658 443h1v1h-1zM661 443h1v1h-1zM363 444h2v1h-2zM659 444h2v1h-2zM363 445h1v1h-1zM659 445h2v1h-2zM410 446h1v1h-1zM415 446h1v1h-1zM658 446h1v1h-1zM661 446h1v1h-1zM411 447h1v1h-1zM414 447h1v1h-1zM657 447h1v1h-1zM662 447h1v1h-1zM412 448h2v1h-2zM412 449h2v1h-2zM331 450h2v1h-2zM411 450h1v1h-1zM414 450h1v1h-1zM331 451h1v1h-1zM410 451h1v1h-1zM415 451h1v1h-1zM265 471h1v1h-1zM395 471h1v1h-1zM400 471h1v1h-1zM265 472h2v1h-2zM396 472h1v1h-1zM399 472h1v1h-1zM265 473h1v1h-1zM397 473h2v1h-2zM397 474h2v1h-2zM396 475h1v1h-1zM399 475h1v1h-1zM395 476h1v1h-1zM400 476h1v1h-1zM241 491h1v1h-1zM240 492h2v1h-2zM241 493h1v1h-1zM286 507h1v1h-1zM285 508h3v1h-3zM276 534h1v1h-1zM275 535h3v1h-3zM276 536h1v1h-1zM262 538h2v1h-2zM262 539h1v1h-1z"/>
<path fill="#ffee00" d="M391 124h2v1h-2zM391 125h1v1h-1zM408 236h1v1h-1zM407 237h3v1h-3zM408 238h1v1h-1zM331 258h1v1h-1zM336 258h1v1h-1zM332 259h1v1h-1zM335 259h1v1h-1zM333 260h2v1h-2zM430 260h2v1h-2zM333 261h2v1h-2zM430 261h1v1h-1zM332 262h1v1h-1zM335 262h1v1h-1zM331 263h1v1h-1zM336 263h1v1h-1zM623 273h1v1h-1zM628 273h1v1h-1zM624 274h1v1h-1zM627 274h1v1h-1zM625 275h2v1h-2zM625 276h2v1h-2zM624 277h1v1h-1zM627 277h1v1h-1zM623 278h1v1h-1zM628 278h1v1h-1zM505 284h2v1h-2zM505 285h1v1h-1zM326 295h1v1h-1zM325 296h3v1h-3zM326 297h1v1h-1zM296 300h2v1h-2zM296 301h1v1h-1zM308 301h1v1h-1zM307 302h3v1h-3zM308 303h1v1h-1zM353 313h2v1h-2zM353 314h1v1h-1zM350 328h2v1h-2zM350 329h1v1h-1zM338 336h1v1h-1zM343 336h1v1h-1zM339 337h1v1h-1zM342 337h1v1h-1zM340 338h2v1h-2zM340 339h2v1h-2zM339 340h1v1h-1zM342 340h1v1h-1zM338 341h1v1h-1zM343 341h1v1h-1zM280 345h1v1h-1zM279 346h3v1h-3zM280 347h1v1h-1zM271 352h1v1h-1zM270 353h3v1h-3zM271 354h1v1h-1zM305 354h1v1h-1zM305 355h2v1h-2zM305 356h1v1h-1zM326 357h1v1h-1zM325 358h2v1h-2zM331 358h2v1h-2zM326 359h1v1h-1zM331 359h1v1h-1zM292 363h3v1h-3zM293 364h1v1h-1zM331 385h1v1h-1zM335 385h1v1h-1zM330 386h2v1h-2zM334 386h3v1h-3zM331 387h1v1h-1zM335 387h1v1h-1zM352 401h1v1h-1zM278 402h1v1h-1zM351 402h3v1h-3zM278 403h2v1h-2zM341 403h1v1h-1zM350 403h3v1h-3zM278 404h1v1h-1zM340 404h3v1h-3zM351 404h1v1h-1zM341 405h1v1h-1zM329 408h1v1h-1zM328 409h3v1h-3zM324 419h2v1h-2zM324 420h1v1h-1zM297 432h1v1h-1zM296 433h3v1h-3zM297 434h1v1h-1zM544 442h3v1h-3zM545 443h1v1h-1zM383 446h1v1h-1zM388 446h1v1h-1zM384 447h1v1h-1zM387 447h1v1h-1zM385 448h2v1h-2zM412 448h1v1h-1zM417 448h1v1h-1zM385 449h2v1h-2zM413 449h1v1h-1zM416 449h1v1h-1zM384 450h1v1h-1zM387 450h1v1h-1zM414 450h2v1h-2zM418 450h1v1h-1zM423 450h1v1h-1zM383 451h1v1h-1zM388 451h1v1h-1zM414 451h2v1h-2zM419 451h1v1h-1zM422 451h1v1h-1zM437 451h2v1h-2zM413 452h1v1h-1zM416 452h1v1h-1zM420 452h2v1h-2zM437 452h1v1h-1zM349 453h1v1h-1zM412 453h1v1h-1zM417 453h1v1h-1zM420 453h2v1h-2zM348 454h3v1h-3zM419 454h1v1h-1zM422 454h1v1h-1zM349 455h1v1h-1zM418 455h1v1h-1zM423 455h1v1h-1zM303 465h2v1h-2zM303 466h1v1h-1zM338 472h2v1h-2zM338 473h1v1h-1zM365 491h1v1h-1zM370 491h1v1h-1zM366 492h1v1h-1zM369 492h1v1h-1zM367 493h2v1h-2zM367 494h2v1h-2zM366 495h1v1h-1zM369 495h1v1h-1zM365 496h1v1h-1zM370 496h1v1h-1z"/>
<path fill="#000000" d="M96 72h1v1h-1zM95 73h3v1h-3zM96 74h1v1h-1zM427 123h1v1h-1zM426 124h3v1h-3zM427 125h1v1h-1zM537 142h1v1h-1zM542 142h1v1h-1zM538 143h1v1h-1zM541 143h1v1h-1zM539 144h2v1h-2zM539 145h2v1h-2zM538 146h1v1h-1zM541 146h1v1h-1zM537 147h1v1h-1zM542 147h1v1h-1zM514 156h1v1h-1zM519 156h1v1h-1zM515 157h1v1h-1zM518 157h1v1h-1zM516 158h2v1h-2zM516 159h2v1h-2zM515 160h1v1h-1zM518 160h1v1h-1zM514 161h1v1h-1zM519 161h1v1h-1zM290 196h1v1h-1zM289 197h3v1h-3zM290 198h1v1h-1zM401 207h2v1h-2zM401 208h1v1h-1zM589 210h1v1h-1zM594 210h1v1h-1zM590 211h1v1h-1zM593 211h1v1h-1zM591 212h2v1h-2zM591 213h2v1h-2zM590 214h1v1h-1zM593 214h1v1h-1zM589 215h1v1h-1zM594 215h1v1h-1zM414 229h1v1h-1zM413 230h3v1h-3zM414 231h1v1h-1zM134 239h1v1h-1zM133 240h3v1h-3zM134 241h1v1h-1zM176 244h1v1h-1zM181 244h1v1h-1zM177 245h1v1h-1zM180 245h1v1h-1zM178 246h2v1h-2zM178 247h2v1h-2zM177 248h1v1h-1zM180 248h1v1h-1zM176 249h1v1h-1zM181 249h1v1h-1zM552 253h1v1h-1zM557 253h1v1h-1zM292 254h1v1h-1zM553 254h1v1h-1zM556 254h1v1h-1zM291 255h3v1h-3zM554 255h2v1h-2zM292 256h1v1h-1zM554 256h2v1h-2zM487 257h1v1h-1zM553 257h1v1h-1zM556 257h1v1h-1zM486 258h3v1h-3zM552 258h1v1h-1zM557 258h1v1h-1zM518 272h1v1h-1zM517 273h3v1h-3zM518 274h1v1h-1zM549 283h1v1h-1zM548 284h3v1h-3zM549 285h1v1h-1zM568 286h1v1h-1zM573 286h1v1h-1zM569 287h1v1h-1zM572 287h1v1h-1zM570 288h2v1h-2zM570 289h2v1h-2zM384 290h1v1h-1zM389 290h1v1h-1zM569 290h1v1h-1zM572 290h1v1h-1zM385 291h1v1h-1zM388 291h1v1h-1zM568 291h1v1h-1zM573 291h1v1h-1zM386 292h2v1h-2zM386 293h2v1h-2zM385 294h1v1h-1zM388 294h1v1h-1zM384 295h1v1h-1zM389 295h1v1h-1zM537 300h2v1h-2zM570 300h2v1h-2zM537 301h1v1h-1zM570 301h1v1h-1zM549 302h1v1h-1zM548 303h2v1h-2zM277 304h1v1h-1zM282 304h1v1h-1zM549 304h1v1h-1zM278 305h1v1h-1zM281 305h1v1h-1zM279 306h2v1h-2zM279 307h2v1h-2zM278 308h1v1h-1zM280 308h2v1h-2zM285 308h1v1h-1zM277 309h1v1h-1zM281 309h2v1h-2zM284 309h1v1h-1zM545 309h1v1h-1zM550 309h1v1h-1zM191 310h2v1h-2zM282 310h2v1h-2zM546 310h1v1h-1zM549 310h1v1h-1zM191 311h1v1h-1zM282 311h2v1h-2zM547 311h2v1h-2zM281 312h1v1h-1zM284 312h1v1h-1zM507 312h1v1h-1zM547 312h2v1h-2zM280 313h1v1h-1zM285 313h1v1h-1zM506 313h3v1h-3zM546 313h1v1h-1zM549 313h1v1h-1zM507 314h1v1h-1zM545 314h1v1h-1zM550 314h1v1h-1zM473 322h1v1h-1zM478 322h1v1h-1zM474 323h1v1h-1zM477 323h1v1h-1zM475 324h2v1h-2zM475 325h2v1h-2zM474 326h1v1h-1zM477 326h1v1h-1zM473 327h1v1h-1zM478 327h1v1h-1zM513 328h2v1h-2zM513 329h1v1h-1zM543 330h2v1h-2zM543 331h1v1h-1zM499 333h1v1h-1zM498 334h3v1h-3zM383 335h1v1h-1zM388 335h1v1h-1zM499 335h1v1h-1zM384 336h1v1h-1zM387 336h1v1h-1zM385 337h2v1h-2zM385 338h2v1h-2zM384 339h1v1h-1zM387 339h1v1h-1zM383 340h1v1h-1zM388 340h1v1h-1zM293 341h2v1h-2zM293 342h1v1h-1zM429 349h1v1h-1zM428 350h3v1h-3zM429 351h1v1h-1zM417 354h1v1h-1zM416 355h3v1h-3zM372 356h2v1h-2zM417 356h1v1h-1zM372 357h1v1h-1zM431 357h1v1h-1zM431 358h2v1h-2zM431 359h1v1h-1zM323 360h1v1h-1zM328 360h1v1h-1zM324 361h1v1h-1zM327 361h1v1h-1zM325 362h2v1h-2zM325 363h2v1h-2zM324 364h1v1h-1zM327 364h1v1h-1zM323 365h1v1h-1zM328 365h1v1h-1zM367 372h2v1h-2zM367 373h1v1h-1zM352 374h1v1h-1zM357 374h1v1h-1zM353 375h1v1h-1zM356 375h1v1h-1zM354 376h2v1h-2zM354 377h2v1h-2zM374 377h1v1h-1zM379 377h1v1h-1zM353 378h1v1h-1zM356 378h1v1h-1zM375 378h1v1h-1zM378 378h1v1h-1zM352 379h1v1h-1zM357 379h1v1h-1zM376 379h2v1h-2zM376 380h2v1h-2zM375 381h1v1h-1zM378 381h1v1h-1zM374 382h1v1h-1zM379 382h1v1h-1zM460 382h2v1h-2zM460 383h1v1h-1zM398 385h1v1h-1zM372 386h2v1h-2zM387 386h2v1h-2zM398 386h2v1h-2zM372 387h1v1h-1zM387 387h1v1h-1zM398 387h1v1h-1zM410 390h2v1h-2zM369 391h1v1h-1zM390 391h2v1h-2zM410 391h1v1h-1zM368 392h3v1h-3zM390 392h1v1h-1zM428 392h1v1h-1zM433 392h1v1h-1zM429 393h1v1h-1zM432 393h1v1h-1zM372 394h1v1h-1zM377 394h1v1h-1zM421 394h3v1h-3zM430 394h2v1h-2zM373 395h1v1h-1zM376 395h1v1h-1zM422 395h1v1h-1zM430 395h2v1h-2zM374 396h2v1h-2zM408 396h1v1h-1zM426 396h1v1h-1zM429 396h1v1h-1zM432 396h1v1h-1zM374 397h2v1h-2zM408 397h2v1h-2zM426 397h3v1h-3zM433 397h1v1h-1zM373 398h1v1h-1zM376 398h1v1h-1zM408 398h1v1h-1zM426 398h1v1h-1zM372 399h1v1h-1zM377 399h1v1h-1zM430 402h2v1h-2zM430 403h1v1h-1zM370 404h3v1h-3zM371 405h1v1h-1zM427 406h1v1h-1zM426 407h3v1h-3zM427 408h1v1h-1zM319 415h1v1h-1zM324 415h1v1h-1zM424 415h1v1h-1zM320 416h1v1h-1zM323 416h1v1h-1zM424 416h2v1h-2zM321 417h2v1h-2zM424 417h1v1h-1zM321 418h2v1h-2zM320 419h1v1h-1zM323 419h1v1h-1zM319 420h1v1h-1zM324 420h1v1h-1zM445 421h3v1h-3zM446 422h1v1h-1zM671 425h1v1h-1zM671 426h2v1h-2zM671 427h1v1h-1zM434 429h1v1h-1zM439 429h1v1h-1zM435 430h1v1h-1zM438 430h1v1h-1zM436 431h2v1h-2zM436 432h2v1h-2zM435 433h1v1h-1zM438 433h1v1h-1zM434 434h1v1h-1zM439 434h1v1h-1zM368 465h2v1h-2zM368 466h1v1h-1zM483 496h2v1h-2zM483 497h1v1h-1zM432 528h1v1h-1zM437 528h1v1h-1zM433 529h1v1h-1zM436 529h1v1h-1zM434 530h2v1h-2zM434 531h2v1h-2zM433 532h1v1h-1zM436 532h1v1h-1zM449 532h1v1h-1zM454 532h1v1h-1zM432 533h1v1h-1zM437 533h1v1h-1zM450 533h1v1h-1zM453 533h1v1h-1zM451 534h2v1h-2zM451 535h2v1h-2zM450 536h1v1h-1zM453 536h1v1h-1zM449 537h1v1h-1zM454 537h1v1h-1z"/>
<path fill="#5a00b4" d="M424 125h2v1h-2zM424 126h1v1h-1zM496 239h1v1h-1zM495 240h2v1h-2zM496 241h1v1h-1zM402 244h1v1h-1zM401 245h3v1h-3zM406 250h1v1h-1zM405 251h3v1h-3zM406 252h1v1h-1zM345 254h2v1h-2zM345 255h1v1h-1zM626 258h2v1h-2zM626 259h1v1h-1zM404 263h1v1h-1zM409 263h1v1h-1zM405 264h1v1h-1zM408 264h1v1h-1zM406 265h2v1h-2zM406 266h2v1h-2zM405 267h1v1h-1zM408 267h1v1h-1zM411 267h1v1h-1zM415 267h2v1h-2zM420 267h1v1h-1zM404 268h1v1h-1zM406 268h1v1h-1zM409 268h1v1h-1zM411 268h2v1h-2zM415 268h2v1h-2zM419 268h1v1h-1zM407 269h1v1h-1zM410 269h1v1h-1zM412 269h3v1h-3zM417 269h2v1h-2zM408 270h2v1h-2zM413 270h2v1h-2zM416 270h3v1h-3zM408 271h2v1h-2zM412 271h1v1h-1zM414 271h3v1h-3zM419 271h1v1h-1zM405 272h1v1h-1zM407 272h1v1h-1zM410 272h2v1h-2zM414 272h3v1h-3zM420 272h1v1h-1zM406 273h1v1h-1zM409 273h1v1h-1zM411 273h1v1h-1zM413 273h1v1h-1zM416 273h1v1h-1zM395 274h1v1h-1zM400 274h1v1h-1zM407 274h2v1h-2zM412 274h1v1h-1zM417 274h1v1h-1zM396 275h1v1h-1zM399 275h1v1h-1zM407 275h2v1h-2zM395 276h1v1h-1zM397 276h2v1h-2zM400 276h1v1h-1zM406 276h1v1h-1zM409 276h1v1h-1zM396 277h4v1h-4zM405 277h1v1h-1zM410 277h1v1h-1zM396 278h4v1h-4zM395 279h1v1h-1zM397 279h2v1h-2zM400 279h1v1h-1zM396 280h1v1h-1zM399 280h1v1h-1zM395 281h1v1h-1zM400 281h1v1h-1zM569 285h2v1h-2zM569 286h1v1h-1zM374 290h3v1h-3zM375 291h1v1h-1zM508 300h1v1h-1zM513 300h1v1h-1zM509 301h1v1h-1zM512 301h1v1h-1zM510 302h2v1h-2zM510 303h2v1h-2zM509 304h1v1h-1zM512 304h1v1h-1zM508 305h1v1h-1zM513 305h1v1h-1zM360 307h2v1h-2zM263 308h1v1h-1zM268 308h1v1h-1zM360 308h1v1h-1zM264 309h1v1h-1zM267 309h1v1h-1zM265 310h2v1h-2zM382 310h1v1h-1zM387 310h1v1h-1zM265 311h2v1h-2zM383 311h1v1h-1zM386 311h1v1h-1zM264 312h1v1h-1zM267 312h1v1h-1zM384 312h2v1h-2zM263 313h1v1h-1zM268 313h1v1h-1zM384 313h2v1h-2zM383 314h1v1h-1zM386 314h1v1h-1zM382 315h1v1h-1zM387 315h1v1h-1zM361 320h1v1h-1zM360 321h3v1h-3zM361 322h1v1h-1zM470 322h2v1h-2zM470 323h1v1h-1zM433 325h1v1h-1zM432 326h3v1h-3zM433 327h1v1h-1zM347 331h2v1h-2zM472 331h2v1h-2zM347 332h1v1h-1zM431 332h2v1h-2zM472 332h1v1h-1zM431 333h1v1h-1zM472 343h1v1h-1zM477 343h1v1h-1zM473 344h1v1h-1zM476 344h1v1h-1zM474 345h2v1h-2zM533 345h1v1h-1zM474 346h2v1h-2zM532 346h3v1h-3zM337 347h1v1h-1zM473 347h1v1h-1zM476 347h1v1h-1zM336 348h3v1h-3zM472 348h1v1h-1zM477 348h1v1h-1zM337 349h1v1h-1zM360 366h3v1h-3zM361 367h1v1h-1zM369 386h2v1h-2zM369 387h1v1h-1zM550 395h1v1h-1zM549 396h2v1h-2zM550 397h1v1h-1zM413 398h2v1h-2zM413 399h1v1h-1zM531 406h1v1h-1zM536 406h1v1h-1zM532 407h1v1h-1zM535 407h1v1h-1zM356 408h2v1h-2zM533 408h2v1h-2zM356 409h1v1h-1zM533 409h2v1h-2zM532 410h1v1h-1zM535 410h1v1h-1zM531 411h1v1h-1zM536 411h1v1h-1zM341 415h2v1h-2zM341 416h1v1h-1zM414 442h1v1h-1zM419 442h1v1h-1zM415 443h1v1h-1zM418 443h1v1h-1zM416 444h2v1h-2zM416 445h2v1h-2zM415 446h1v1h-1zM418 446h1v1h-1zM414 447h1v1h-1zM419 447h1v1h-1zM578 460h1v1h-1zM583 460h1v1h-1zM579 461h1v1h-1zM582 461h1v1h-1zM580 462h2v1h-2zM580 463h2v1h-2zM579 464h1v1h-1zM582 464h1v1h-1zM578 465h1v1h-1zM583 465h1v1h-1zM461 518h1v1h-1zM466 518h1v1h-1zM462 519h1v1h-1zM465 519h1v1h-1zM446 520h1v1h-1zM451 520h1v1h-1zM463 520h2v1h-2zM447 521h1v1h-1zM450 521h1v1h-1zM463 521h2v1h-2zM448 522h2v1h-2zM462 522h1v1h-1zM465 522h1v1h-1zM448 523h2v1h-2zM461 523h1v1h-1zM466 523h1v1h-1zM447 524h1v1h-1zM450 524h1v1h-1zM446 525h1v1h-1zM451 525h1v1h-1z"/>
<path fill="#0082ff" d="M571 138h1v1h-1zM576 138h1v1h-1zM572 139h1v1h-1zM575 139h1v1h-1zM573 140h2v1h-2zM573 141h2v1h-2zM572 142h1v1h-1zM575 142h1v1h-1zM571 143h1v1h-1zM576 143h1v1h-1zM473 160h1v1h-1zM478 160h1v1h-1zM474 161h1v1h-1zM477 161h1v1h-1zM475 162h2v1h-2zM475 163h2v1h-2zM474 164h1v1h-1zM477 164h1v1h-1zM473 165h1v1h-1zM478 165h1v1h-1zM565 182h2v1h-2zM565 183h1v1h-1zM369 184h1v1h-1zM368 185h3v1h-3zM529 207h2v1h-2zM529 208h1v1h-1zM415 214h1v1h-1zM420 214h1v1h-1zM416 215h1v1h-1zM419 215h1v1h-1zM417 216h2v1h-2zM470 216h1v1h-1zM475 216h1v1h-1zM417 217h2v1h-2zM471 217h1v1h-1zM474 217h1v1h-1zM416 218h1v1h-1zM419 218h1v1h-1zM472 218h2v1h-2zM415 219h1v1h-1zM420 219h1v1h-1zM472 219h2v1h-2zM471 220h1v1h-1zM474 220h1v1h-1zM470 221h1v1h-1zM475 221h1v1h-1zM402 231h1v1h-1zM401 232h3v1h-3zM456 241h1v1h-1zM456 242h2v1h-2zM456 243h1v1h-1zM395 251h3v1h-3zM396 252h1v1h-1zM394 264h1v1h-1zM394 265h2v1h-2zM394 266h1v1h-1zM411 278h1v1h-1zM416 278h1v1h-1zM412 279h1v1h-1zM415 279h1v1h-1zM427 279h1v1h-1zM432 279h1v1h-1zM413 280h2v1h-2zM428 280h1v1h-1zM431 280h1v1h-1zM413 281h2v1h-2zM429 281h2v1h-2zM412 282h1v1h-1zM415 282h1v1h-1zM429 282h2v1h-2zM411 283h1v1h-1zM416 283h1v1h-1zM428 283h1v1h-1zM431 283h1v1h-1zM344 284h1v1h-1zM427 284h1v1h-1zM432 284h1v1h-1zM343 285h3v1h-3zM360 285h1v1h-1zM427 285h1v1h-1zM432 285h1v1h-1zM344 286h1v1h-1zM359 286h3v1h-3zM428 286h1v1h-1zM431 286h1v1h-1zM429 287h2v1h-2zM360 288h1v1h-1zM429 288h2v1h-2zM359 289h2v1h-2zM428 289h1v1h-1zM431 289h1v1h-1zM360 290h1v1h-1zM427 290h1v1h-1zM432 290h1v1h-1zM370 291h2v1h-2zM370 292h1v1h-1zM369 295h2v1h-2zM369 296h1v1h-1zM426 297h2v1h-2zM426 298h1v1h-1zM348 300h2v1h-2zM348 301h1v1h-1zM348 306h2v1h-2zM348 307h1v1h-1zM290 312h1v1h-1zM295 312h1v1h-1zM291 313h1v1h-1zM294 313h1v1h-1zM292 314h2v1h-2zM292 315h2v1h-2zM374 315h2v1h-2zM291 316h1v1h-1zM294 316h1v1h-1zM374 316h1v1h-1zM290 317h1v1h-1zM295 317h1v1h-1zM449 317h1v1h-1zM448 318h3v1h-3zM449 319h1v1h-1zM460 319h1v1h-1zM465 319h1v1h-1zM461 320h1v1h-1zM464 320h1v1h-1zM462 321h2v1h-2zM462 322h2v1h-2zM461 323h1v1h-1zM464 323h1v1h-1zM460 324h1v1h-1zM465 324h1v1h-1zM468 331h1v1h-1zM473 331h1v1h-1zM469 332h1v1h-1zM472 332h1v1h-1zM427 333h1v1h-1zM432 333h1v1h-1zM453 333h1v1h-1zM458 333h1v1h-1zM470 333h2v1h-2zM428 334h1v1h-1zM431 334h1v1h-1zM449 334h1v1h-1zM454 334h1v1h-1zM457 334h1v1h-1zM470 334h2v1h-2zM429 335h2v1h-2zM450 335h1v1h-1zM453 335h1v1h-1zM455 335h2v1h-2zM469 335h1v1h-1zM472 335h1v1h-1zM429 336h3v1h-3zM436 336h1v1h-1zM442 336h1v1h-1zM447 336h1v1h-1zM451 336h2v1h-2zM455 336h2v1h-2zM468 336h1v1h-1zM473 336h1v1h-1zM428 337h1v1h-1zM431 337h2v1h-2zM435 337h1v1h-1zM443 337h1v1h-1zM446 337h1v1h-1zM451 337h2v1h-2zM454 337h1v1h-1zM457 337h1v1h-1zM427 338h1v1h-1zM432 338h3v1h-3zM444 338h2v1h-2zM450 338h1v1h-1zM453 338h1v1h-1zM458 338h1v1h-1zM338 339h1v1h-1zM433 339h2v1h-2zM444 339h2v1h-2zM449 339h1v1h-1zM454 339h1v1h-1zM338 340h2v1h-2zM432 340h1v1h-1zM435 340h1v1h-1zM443 340h1v1h-1zM446 340h1v1h-1zM338 341h1v1h-1zM431 341h1v1h-1zM436 341h1v1h-1zM442 341h3v1h-3zM447 341h1v1h-1zM443 342h1v1h-1zM468 343h1v1h-1zM473 343h1v1h-1zM465 344h1v1h-1zM469 344h2v1h-2zM472 344h1v1h-1zM447 345h1v1h-1zM452 345h1v1h-1zM466 345h1v1h-1zM469 345h3v1h-3zM448 346h1v1h-1zM451 346h1v1h-1zM467 346h2v1h-2zM470 346h2v1h-2zM449 347h2v1h-2zM467 347h3v1h-3zM472 347h1v1h-1zM449 348h2v1h-2zM466 348h1v1h-1zM468 348h2v1h-2zM473 348h1v1h-1zM448 349h1v1h-1zM451 349h1v1h-1zM465 349h1v1h-1zM470 349h1v1h-1zM447 350h1v1h-1zM452 350h1v1h-1zM466 350h1v1h-1zM471 350h1v1h-1zM537 350h1v1h-1zM467 351h1v1h-1zM470 351h1v1h-1zM536 351h2v1h-2zM468 352h2v1h-2zM537 352h1v1h-1zM468 353h2v1h-2zM467 354h1v1h-1zM469 354h2v1h-2zM474 354h1v1h-1zM466 355h1v1h-1zM470 355h2v1h-2zM473 355h1v1h-1zM469 356h1v1h-1zM471 356h2v1h-2zM474 356h1v1h-1zM470 357h4v1h-4zM470 358h4v1h-4zM367 359h1v1h-1zM469 359h1v1h-1zM471 359h2v1h-2zM474 359h1v1h-1zM366 360h3v1h-3zM470 360h1v1h-1zM473 360h1v1h-1zM367 361h1v1h-1zM469 361h1v1h-1zM474 361h1v1h-1zM353 370h2v1h-2zM353 371h1v1h-1zM468 373h1v1h-1zM473 373h1v1h-1zM469 374h1v1h-1zM472 374h1v1h-1zM470 375h2v1h-2zM470 376h2v1h-2zM469 377h1v1h-1zM472 377h1v1h-1zM468 378h1v1h-1zM473 378h1v1h-1zM382 382h1v1h-1zM381 383h3v1h-3zM420 383h1v1h-1zM425 383h1v1h-1zM475 383h1v1h-1zM480 383h1v1h-1zM97 384h2v1h-2zM364 384h3v1h-3zM421 384h1v1h-1zM424 384h1v1h-1zM476 384h1v1h-1zM479 384h1v1h-1zM97 385h1v1h-1zM365 385h1v1h-1zM392 385h1v1h-1zM397 385h1v1h-1zM422 385h2v1h-2zM477 385h2v1h-2zM393 386h1v1h-1zM396 386h1v1h-1zM422 386h2v1h-2zM448 386h1v1h-1zM453 386h1v1h-1zM461 386h1v1h-1zM477 386h2v1h-2zM394 387h2v1h-2zM421 387h1v1h-1zM424 387h1v1h-1zM449 387h1v1h-1zM452 387h1v1h-1zM460 387h2v1h-2zM476 387h1v1h-1zM479 387h1v1h-1zM394 388h2v1h-2zM420 388h1v1h-1zM425 388h1v1h-1zM450 388h2v1h-2zM461 388h1v1h-1zM475 388h1v1h-1zM480 388h1v1h-1zM393 389h1v1h-1zM396 389h1v1h-1zM450 389h2v1h-2zM392 390h1v1h-1zM397 390h1v1h-1zM449 390h1v1h-1zM452 390h1v1h-1zM448 391h1v1h-1zM453 391h1v1h-1zM484 393h1v1h-1zM489 393h1v1h-1zM485 394h1v1h-1zM488 394h1v1h-1zM486 395h2v1h-2zM486 396h2v1h-2zM369 397h1v1h-1zM463 397h1v1h-1zM468 397h1v1h-1zM485 397h1v1h-1zM488 397h1v1h-1zM368 398h3v1h-3zM464 398h1v1h-1zM467 398h1v1h-1zM484 398h1v1h-1zM489 398h1v1h-1zM369 399h1v1h-1zM465 399h2v1h-2zM465 400h2v1h-2zM464 401h1v1h-1zM467 401h1v1h-1zM463 402h1v1h-1zM468 402h1v1h-1zM505 402h1v1h-1zM504 403h3v1h-3zM505 404h1v1h-1zM494 411h1v1h-1zM499 411h1v1h-1zM495 412h1v1h-1zM498 412h1v1h-1zM516 412h1v1h-1zM496 413h2v1h-2zM515 413h3v1h-3zM496 414h2v1h-2zM516 414h1v1h-1zM434 415h1v1h-1zM495 415h1v1h-1zM498 415h1v1h-1zM433 416h2v1h-2zM494 416h1v1h-1zM499 416h1v1h-1zM434 417h1v1h-1zM399 425h2v1h-2zM457 425h2v1h-2zM399 426h1v1h-1zM457 426h1v1h-1zM482 434h1v1h-1zM482 435h2v1h-2zM482 436h1v1h-1zM358 449h1v1h-1zM358 450h2v1h-2zM358 451h1v1h-1zM449 461h2v1h-2zM449 462h1v1h-1zM370 465h1v1h-1zM369 466h3v1h-3zM370 467h1v1h-1zM373 468h2v1h-2zM373 469h1v1h-1zM553 479h1v1h-1zM558 479h1v1h-1zM554 480h1v1h-1zM557 480h1v1h-1zM555 481h2v1h-2zM555 482h2v1h-2zM554 483h1v1h-1zM557 483h1v1h-1zM553 484h1v1h-1zM558 484h1v1h-1zM375 497h1v1h-1zM375 498h2v1h-2zM375 499h1v1h-1zM498 518h1v1h-1zM503 518h1v1h-1zM499 519h1v1h-1zM502 519h1v1h-1zM500 520h2v1h-2zM500 521h2v1h-2zM499 522h1v1h-1zM502 522h1v1h-1zM498 523h1v1h-1zM503 523h1v1h-1zM409 528h1v1h-1zM408 529h3v1h-3zM409 530h1v1h-1z"/>
<path fill="#00f0ff" d="M564 90h1v1h-1zM569 90h1v1h-1zM565 91h1v1h-1zM568 91h1v1h-1zM566 92h2v1h-2zM400 93h1v1h-1zM405 93h1v1h-1zM566 93h2v1h-2zM401 94h1v1h-1zM404 94h1v1h-1zM565 94h1v1h-1zM568 94h1v1h-1zM402 95h2v1h-2zM564 95h1v1h-1zM569 95h1v1h-1zM402 96h2v1h-2zM401 97h1v1h-1zM404 97h1v1h-1zM400 98h1v1h-1zM405 98h1v1h-1zM304 107h1v1h-1zM303 108h3v1h-3zM304 109h1v1h-1zM508 113h1v1h-1zM507 114h3v1h-3zM508 115h1v1h-1zM436 124h2v1h-2zM436 125h1v1h-1zM459 189h3v1h-3zM460 190h1v1h-1zM539 193h1v1h-1zM529 194h1v1h-1zM539 194h2v1h-2zM508 195h2v1h-2zM529 195h2v1h-2zM539 195h1v1h-1zM508 196h1v1h-1zM529 196h1v1h-1zM390 223h1v1h-1zM389 224h3v1h-3zM390 225h1v1h-1zM482 227h1v1h-1zM487 227h1v1h-1zM483 228h1v1h-1zM486 228h1v1h-1zM484 229h2v1h-2zM484 230h2v1h-2zM483 231h1v1h-1zM486 231h1v1h-1zM482 232h1v1h-1zM487 232h1v1h-1zM367 234h3v1h-3zM368 235h1v1h-1zM385 236h1v1h-1zM384 237h3v1h-3zM385 238h1v1h-1zM561 243h2v1h-2zM561 244h1v1h-1zM401 247h2v1h-2zM401 248h1v1h-1zM472 248h1v1h-1zM442 249h1v1h-1zM471 249h3v1h-3zM354 250h2v1h-2zM441 250h3v1h-3zM354 251h1v1h-1zM385 251h1v1h-1zM442 251h1v1h-1zM385 252h2v1h-2zM385 253h1v1h-1zM363 265h1v1h-1zM362 266h3v1h-3zM363 267h1v1h-1zM399 269h2v1h-2zM399 270h1v1h-1zM385 272h2v1h-2zM431 272h2v1h-2zM385 273h1v1h-1zM431 273h1v1h-1zM384 274h2v1h-2zM384 275h1v1h-1zM376 277h1v1h-1zM375 278h3v1h-3zM376 279h1v1h-1zM444 296h1v1h-1zM443 297h2v1h-2zM362 298h1v1h-1zM444 298h1v1h-1zM321 299h1v1h-1zM362 299h2v1h-2zM320 300h3v1h-3zM362 300h1v1h-1zM317 303h3v1h-3zM318 304h1v1h-1zM492 305h1v1h-1zM491 306h3v1h-3zM492 307h1v1h-1zM455 312h1v1h-1zM454 313h2v1h-2zM428 314h2v1h-2zM455 314h1v1h-1zM428 315h1v1h-1zM349 320h2v1h-2zM349 321h1v1h-1zM344 328h3v1h-3zM345 329h1v1h-1zM347 330h3v1h-3zM348 331h1v1h-1zM445 341h1v1h-1zM450 341h1v1h-1zM446 342h1v1h-1zM449 342h1v1h-1zM447 343h2v1h-2zM432 344h1v1h-1zM437 344h1v1h-1zM447 344h2v1h-2zM433 345h1v1h-1zM436 345h1v1h-1zM446 345h1v1h-1zM449 345h1v1h-1zM434 346h2v1h-2zM445 346h1v1h-1zM450 346h1v1h-1zM434 347h2v1h-2zM457 347h1v1h-1zM462 347h1v1h-1zM433 348h1v1h-1zM436 348h1v1h-1zM458 348h1v1h-1zM461 348h1v1h-1zM432 349h1v1h-1zM437 349h1v1h-1zM452 349h1v1h-1zM457 349h1v1h-1zM459 349h2v1h-2zM441 350h1v1h-1zM446 350h1v1h-1zM453 350h1v1h-1zM456 350h1v1h-1zM459 350h2v1h-2zM442 351h1v1h-1zM445 351h1v1h-1zM454 351h2v1h-2zM458 351h1v1h-1zM461 351h1v1h-1zM431 352h1v1h-1zM436 352h1v1h-1zM443 352h2v1h-2zM454 352h2v1h-2zM457 352h1v1h-1zM462 352h1v1h-1zM432 353h1v1h-1zM435 353h1v1h-1zM443 353h2v1h-2zM453 353h1v1h-1zM456 353h1v1h-1zM433 354h2v1h-2zM442 354h1v1h-1zM445 354h1v1h-1zM452 354h1v1h-1zM457 354h1v1h-1zM433 355h2v1h-2zM441 355h1v1h-1zM445 355h2v1h-2zM450 355h1v1h-1zM432 356h1v1h-1zM435 356h1v1h-1zM446 356h1v1h-1zM449 356h1v1h-1zM431 357h1v1h-1zM436 357h1v1h-1zM447 357h2v1h-2zM447 358h2v1h-2zM446 359h1v1h-1zM449 359h1v1h-1zM445 360h1v1h-1zM450 360h1v1h-1zM479 361h1v1h-1zM484 361h1v1h-1zM480 362h1v1h-1zM483 362h1v1h-1zM481 363h2v1h-2zM481 364h2v1h-2zM480 365h1v1h-1zM483 365h1v1h-1zM479 366h1v1h-1zM484 366h1v1h-1zM485 369h1v1h-1zM490 369h1v1h-1zM486 370h1v1h-1zM489 370h1v1h-1zM487 371h2v1h-2zM487 372h2v1h-2zM486 373h1v1h-1zM489 373h1v1h-1zM331 374h2v1h-2zM485 374h1v1h-1zM490 374h1v1h-1zM331 375h1v1h-1zM464 378h1v1h-1zM469 378h1v1h-1zM465 379h1v1h-1zM468 379h1v1h-1zM466 380h2v1h-2zM466 381h2v1h-2zM465 382h1v1h-1zM468 382h1v1h-1zM464 383h1v1h-1zM469 383h1v1h-1zM434 393h1v1h-1zM181 394h1v1h-1zM433 394h3v1h-3zM180 395h3v1h-3zM181 396h1v1h-1zM478 398h1v1h-1zM483 398h1v1h-1zM479 399h1v1h-1zM482 399h1v1h-1zM480 400h2v1h-2zM480 401h2v1h-2zM479 402h1v1h-1zM482 402h1v1h-1zM478 403h1v1h-1zM483 403h1v1h-1zM457 410h1v1h-1zM462 410h1v1h-1zM458 411h1v1h-1zM461 411h1v1h-1zM459 412h2v1h-2zM459 413h2v1h-2zM344 414h1v1h-1zM458 414h1v1h-1zM461 414h1v1h-1zM343 415h3v1h-3zM457 415h1v1h-1zM462 415h1v1h-1zM344 416h1v1h-1zM292 417h1v1h-1zM291 418h3v1h-3zM457 428h2v1h-2zM457 429h1v1h-1zM426 431h1v1h-1zM425 432h2v1h-2zM426 433h1v1h-1zM491 433h1v1h-1zM496 433h1v1h-1zM492 434h1v1h-1zM495 434h1v1h-1zM493 435h2v1h-2zM493 436h2v1h-2zM492 437h1v1h-1zM495 437h1v1h-1zM491 438h1v1h-1zM496 438h1v1h-1zM400 455h3v1h-3zM422 455h1v1h-1zM427 455h1v1h-1zM401 456h1v1h-1zM423 456h1v1h-1zM426 456h1v1h-1zM424 457h2v1h-2zM449 457h1v1h-1zM424 458h2v1h-2zM448 458h3v1h-3zM423 459h1v1h-1zM426 459h1v1h-1zM449 459h1v1h-1zM422 460h1v1h-1zM427 460h1v1h-1zM431 476h2v1h-2zM431 477h1v1h-1zM451 478h2v1h-2zM451 479h1v1h-1zM388 504h1v1h-1zM393 504h1v1h-1zM389 505h1v1h-1zM392 505h1v1h-1zM390 506h2v1h-2zM390 507h2v1h-2zM389 508h1v1h-1zM392 508h1v1h-1zM388 509h1v1h-1zM393 509h1v1h-1zM449 510h1v1h-1zM454 510h1v1h-1zM450 511h1v1h-1zM453 511h1v1h-1zM451 512h2v1h-2zM451 513h2v1h-2zM450 514h1v1h-1zM453 514h1v1h-1zM449 515h1v1h-1zM454 515h1v1h-1zM547 515h1v1h-1zM552 515h1v1h-1zM395 516h1v1h-1zM400 516h1v1h-1zM548 516h1v1h-1zM551 516h1v1h-1zM396 517h1v1h-1zM399 517h1v1h-1zM549 517h2v1h-2zM397 518h2v1h-2zM549 518h2v1h-2zM397 519h2v1h-2zM548 519h1v1h-1zM551 519h1v1h-1zM396 520h1v1h-1zM399 520h1v1h-1zM547 520h1v1h-1zM552 520h1v1h-1zM395 521h1v1h-1zM400 521h1v1h-1z"/>
<path fill="#1a10ff" d="M503 164h1v1h-1zM502 165h3v1h-3zM503 166h1v1h-1zM400 214h1v1h-1zM405 214h1v1h-1zM401 215h1v1h-1zM404 215h1v1h-1zM402 216h2v1h-2zM402 217h2v1h-2zM401 218h1v1h-1zM404 218h1v1h-1zM400 219h1v1h-1zM405 219h1v1h-1zM334 229h1v1h-1zM333 230h3v1h-3zM334 231h1v1h-1zM472 235h2v1h-2zM472 236h1v1h-1zM404 249h1v1h-1zM403 250h3v1h-3zM404 251h1v1h-1zM471 269h3v1h-3zM445 270h1v1h-1zM450 270h1v1h-1zM472 270h1v1h-1zM446 271h1v1h-1zM449 271h1v1h-1zM447 272h2v1h-2zM447 273h2v1h-2zM446 274h1v1h-1zM449 274h1v1h-1zM445 275h1v1h-1zM450 275h1v1h-1zM419 282h2v1h-2zM419 283h1v1h-1zM367 287h1v1h-1zM409 287h1v1h-1zM414 287h1v1h-1zM445 287h1v1h-1zM366 288h3v1h-3zM410 288h1v1h-1zM413 288h1v1h-1zM444 288h3v1h-3zM367 289h1v1h-1zM411 289h2v1h-2zM418 289h1v1h-1zM423 289h1v1h-1zM445 289h1v1h-1zM492 289h2v1h-2zM411 290h2v1h-2zM419 290h1v1h-1zM422 290h1v1h-1zM492 290h1v1h-1zM410 291h1v1h-1zM413 291h1v1h-1zM420 291h2v1h-2zM409 292h1v1h-1zM414 292h1v1h-1zM420 292h2v1h-2zM419 293h1v1h-1zM422 293h1v1h-1zM418 294h1v1h-1zM423 294h1v1h-1zM430 313h3v1h-3zM431 314h1v1h-1zM514 314h1v1h-1zM513 315h2v1h-2zM514 316h1v1h-1zM509 319h1v1h-1zM508 320h3v1h-3zM457 321h1v1h-1zM509 321h1v1h-1zM456 322h3v1h-3zM458 326h1v1h-1zM463 326h1v1h-1zM459 327h1v1h-1zM462 327h1v1h-1zM460 328h2v1h-2zM460 329h2v1h-2zM468 329h1v1h-1zM440 330h3v1h-3zM459 330h1v1h-1zM462 330h1v1h-1zM467 330h3v1h-3zM473 330h2v1h-2zM441 331h1v1h-1zM458 331h1v1h-1zM463 331h1v1h-1zM468 331h1v1h-1zM473 331h1v1h-1zM453 337h1v1h-1zM458 337h1v1h-1zM454 338h1v1h-1zM457 338h1v1h-1zM455 339h2v1h-2zM455 340h2v1h-2zM454 341h1v1h-1zM457 341h1v1h-1zM453 342h1v1h-1zM458 342h1v1h-1zM457 343h3v1h-3zM458 344h1v1h-1zM565 346h1v1h-1zM564 347h3v1h-3zM565 348h1v1h-1zM488 350h1v1h-1zM493 350h1v1h-1zM468 351h1v1h-1zM473 351h1v1h-1zM489 351h1v1h-1zM492 351h1v1h-1zM469 352h1v1h-1zM472 352h1v1h-1zM490 352h2v1h-2zM422 353h1v1h-1zM432 353h1v1h-1zM437 353h1v1h-1zM470 353h2v1h-2zM484 353h3v1h-3zM490 353h2v1h-2zM421 354h3v1h-3zM433 354h1v1h-1zM436 354h1v1h-1zM470 354h2v1h-2zM485 354h1v1h-1zM489 354h1v1h-1zM492 354h1v1h-1zM496 354h1v1h-1zM501 354h1v1h-1zM422 355h1v1h-1zM434 355h2v1h-2zM469 355h1v1h-1zM472 355h1v1h-1zM488 355h1v1h-1zM493 355h1v1h-1zM497 355h1v1h-1zM500 355h1v1h-1zM434 356h2v1h-2zM468 356h1v1h-1zM473 356h1v1h-1zM498 356h2v1h-2zM433 357h1v1h-1zM436 357h1v1h-1zM498 357h2v1h-2zM432 358h1v1h-1zM437 358h1v1h-1zM462 358h3v1h-3zM497 358h1v1h-1zM500 358h1v1h-1zM463 359h1v1h-1zM496 359h1v1h-1zM501 359h1v1h-1zM597 361h1v1h-1zM602 361h1v1h-1zM502 362h1v1h-1zM598 362h1v1h-1zM601 362h1v1h-1zM501 363h3v1h-3zM599 363h2v1h-2zM599 364h2v1h-2zM598 365h1v1h-1zM601 365h1v1h-1zM597 366h1v1h-1zM602 366h1v1h-1zM366 380h2v1h-2zM519 380h1v1h-1zM524 380h1v1h-1zM366 381h1v1h-1zM520 381h1v1h-1zM523 381h1v1h-1zM521 382h2v1h-2zM521 383h2v1h-2zM520 384h1v1h-1zM523 384h1v1h-1zM519 385h1v1h-1zM524 385h1v1h-1zM399 388h1v1h-1zM398 389h3v1h-3zM523 389h1v1h-1zM399 390h1v1h-1zM522 390h2v1h-2zM523 391h1v1h-1zM344 397h1v1h-1zM344 398h2v1h-2zM326 399h1v1h-1zM344 399h1v1h-1zM325 400h3v1h-3zM442 406h2v1h-2zM442 407h1v1h-1zM611 430h1v1h-1zM616 430h1v1h-1zM612 431h1v1h-1zM615 431h1v1h-1zM613 432h2v1h-2zM613 433h2v1h-2zM612 434h1v1h-1zM615 434h1v1h-1zM611 435h1v1h-1zM616 435h1v1h-1zM390 453h2v1h-2zM390 454h1v1h-1zM340 458h2v1h-2zM340 459h1v1h-1zM589 471h1v1h-1zM594 471h1v1h-1zM590 472h1v1h-1zM593 472h1v1h-1zM591 473h2v1h-2zM591 474h2v1h-2zM590 475h1v1h-1zM593 475h1v1h-1zM420 476h1v1h-1zM589 476h1v1h-1zM594 476h1v1h-1zM419 477h3v1h-3zM420 478h1v1h-1zM424 485h1v1h-1zM429 485h1v1h-1zM425 486h1v1h-1zM428 486h1v1h-1zM426 487h2v1h-2zM426 488h2v1h-2zM425 489h1v1h-1zM428 489h1v1h-1zM424 490h1v1h-1zM429 490h1v1h-1z"/>
<path fill="#ff4000" d="M406 221h1v1h-1zM405 222h3v1h-3zM406 223h1v1h-1zM401 266h2v1h-2zM401 267h1v1h-1zM354 339h1v1h-1zM353 340h3v1h-3zM439 344h1v1h-1zM444 344h1v1h-1zM440 345h1v1h-1zM443 345h1v1h-1zM441 346h2v1h-2zM441 347h2v1h-2zM330 348h1v1h-1zM440 348h1v1h-1zM443 348h1v1h-1zM329 349h3v1h-3zM439 349h1v1h-1zM444 349h1v1h-1zM330 350h1v1h-1zM294 378h2v1h-2zM294 379h1v1h-1zM345 381h1v1h-1zM345 382h2v1h-2zM345 383h1v1h-1zM333 406h1v1h-1zM338 406h1v1h-1zM334 407h1v1h-1zM337 407h1v1h-1zM335 408h2v1h-2zM335 409h2v1h-2zM334 410h1v1h-1zM337 410h1v1h-1zM333 411h1v1h-1zM338 411h1v1h-1zM262 412h1v1h-1zM262 413h2v1h-2zM262 414h1v1h-1zM363 415h1v1h-1zM362 416h2v1h-2zM363 417h1v1h-1zM366 425h1v1h-1zM365 426h3v1h-3zM366 427h1v1h-1zM390 449h1v1h-1zM395 449h1v1h-1zM391 450h1v1h-1zM394 450h1v1h-1zM392 451h2v1h-2zM392 452h2v1h-2zM391 453h1v1h-1zM394 453h1v1h-1zM390 454h1v1h-1zM395 454h1v1h-1zM296 458h1v1h-1zM301 458h1v1h-1zM297 459h1v1h-1zM300 459h1v1h-1zM298 460h2v1h-2zM298 461h2v1h-2zM297 462h1v1h-1zM300 462h1v1h-1zM296 463h1v1h-1zM301 463h1v1h-1zM236 464h1v1h-1zM235 465h3v1h-3zM329 465h1v1h-1zM334 465h1v1h-1zM330 466h1v1h-1zM333 466h1v1h-1zM331 467h2v1h-2zM331 468h2v1h-2zM330 469h1v1h-1zM333 469h1v1h-1zM329 470h1v1h-1zM334 470h1v1h-1zM405 470h1v1h-1zM410 470h1v1h-1zM406 471h1v1h-1zM409 471h1v1h-1zM407 472h2v1h-2zM407 473h2v1h-2zM406 474h1v1h-1zM409 474h1v1h-1zM437 474h1v1h-1zM442 474h1v1h-1zM405 475h1v1h-1zM410 475h1v1h-1zM438 475h1v1h-1zM441 475h1v1h-1zM439 476h2v1h-2zM439 477h2v1h-2zM438 478h1v1h-1zM441 478h1v1h-1zM437 479h1v1h-1zM442 479h1v1h-1z"/>
<path fill="#460064" d="M479 291h1v1h-1zM478 292h3v1h-3zM510 303h2v1h-2zM510 304h1v1h-1zM388 316h2v1h-2zM388 317h1v1h-1zM417 386h1v1h-1zM416 387h3v1h-3zM417 388h1v1h-1zM398 391h1v1h-1zM403 391h1v1h-1zM399 392h1v1h-1zM402 392h1v1h-1zM400 393h2v1h-2zM400 394h2v1h-2zM399 395h1v1h-1zM402 395h1v1h-1zM398 396h1v1h-1zM403 396h1v1h-1z"/>
</g>

<g font-family="Liberation Sans, sans-serif" fill="#000">
<text x="250.5" y="40.6" font-size="14.8" textLength="259" lengthAdjust="spacingAndGlyphs">Tromsø 20140413 18:08:00–18:09:43</text>
<text x="253.5" y="52.6" font-size="14.8" textLength="254" lengthAdjust="spacingAndGlyphs">RwPretec (8p) EXPERIMENTAL SKYMAP</text>
<g font-size="12">
<text x="57" y="67.5" textLength="19.5" lengthAdjust="spacingAndGlyphs">200</text>
<text x="58" y="184" textLength="18.5" lengthAdjust="spacingAndGlyphs">100</text>
<text x="70" y="304" textLength="6.5" lengthAdjust="spacingAndGlyphs">0</text>
<text x="47.5" y="424" textLength="29" lengthAdjust="spacingAndGlyphs">−100</text>
<text x="47.5" y="540.5" textLength="29" lengthAdjust="spacingAndGlyphs">−200</text>
</g>
<g font-size="12">
<text x="65.5" y="555.5" textLength="29" lengthAdjust="spacingAndGlyphs">−200</text>
<text x="215.5" y="555.5" textLength="29" lengthAdjust="spacingAndGlyphs">−100</text>
<text x="376.5" y="555.5" textLength="7" lengthAdjust="spacingAndGlyphs">0</text>
<text x="520.5" y="555.5" textLength="19.5" lengthAdjust="spacingAndGlyphs">100</text>
<text x="669.5" y="555.5" textLength="20.5" lengthAdjust="spacingAndGlyphs">200</text>
</g>
<text x="329.5" y="567.5" font-size="12" textLength="100.5" lengthAdjust="spacingAndGlyphs">E−W location [km]</text>
<text transform="translate(38,350) rotate(-90)" font-size="12" textLength="100" lengthAdjust="spacingAndGlyphs">N−S location [km]</text>
<text x="715.5" y="84" font-size="15" textLength="39" lengthAdjust="spacingAndGlyphs">[m/s]</text>
<g font-size="12">
<text x="746.5" y="97.5" textLength="20" lengthAdjust="spacingAndGlyphs">200</text>
<text x="747.5" y="199" textLength="20" lengthAdjust="spacingAndGlyphs">100</text>
<text x="746.5" y="304" textLength="7" lengthAdjust="spacingAndGlyphs">0</text>
<text x="747.5" y="409" textLength="28" lengthAdjust="spacingAndGlyphs">−100</text>
<text x="747.5" y="510.5" textLength="28" lengthAdjust="spacingAndGlyphs">−200</text>
</g>
</g>

</svg>
</body></html>
